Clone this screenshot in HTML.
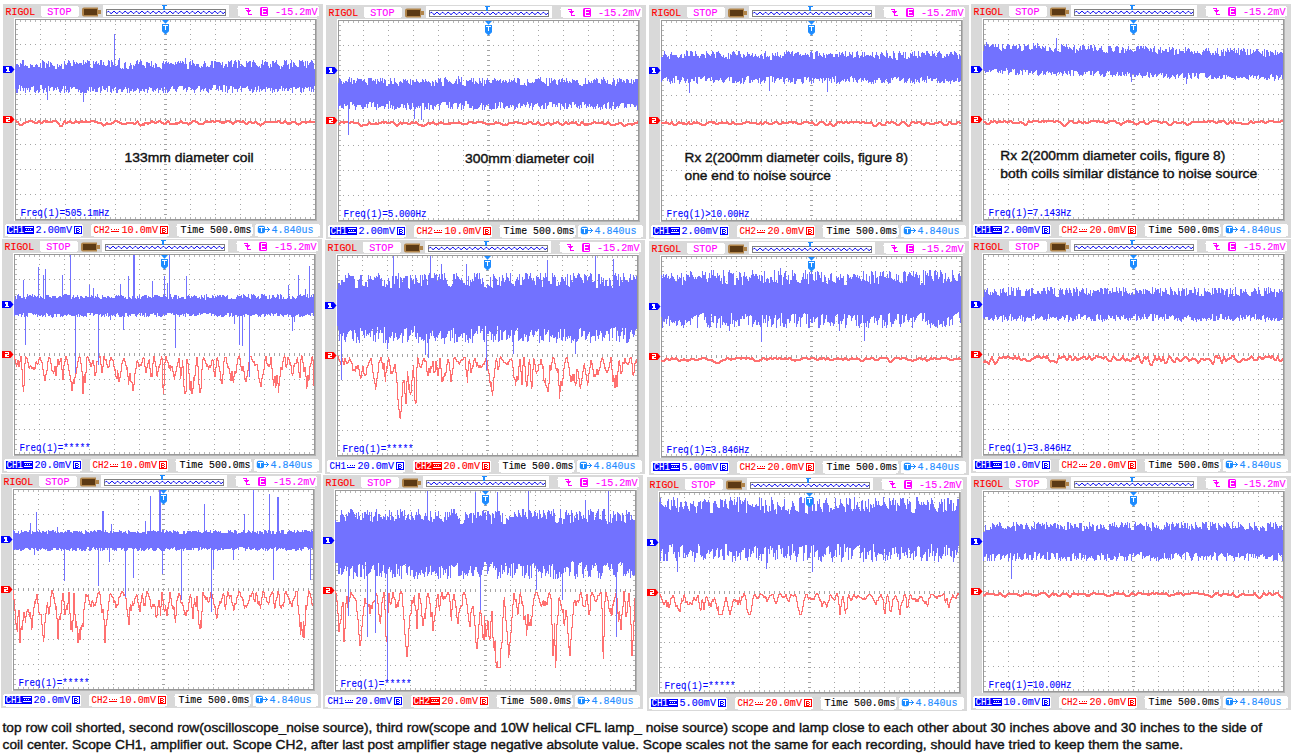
<!DOCTYPE html><html><head><meta charset="utf-8"><style>html,body{margin:0;padding:0;background:#fff;width:1295px;height:753px;overflow:hidden}svg{display:block}</style></head><body><svg width="1295" height="753" viewBox="0 0 1295 753"><rect width="1295" height="753" fill="#fff"/><defs><g id="base" shape-rendering="crispEdges"><rect width="320" height="234" fill="#d9d9d9"/><text x="2.6" y="11.2" fill="#ff0000" font-size="11" font-family="'Liberation Mono', monospace" textLength="29.6" lengthAdjust="spacingAndGlyphs" stroke="#ff0000" stroke-width="0.12">RIGOL</text><rect x="37.5" y="1.8" width="38.5" height="11" rx="2.5" fill="#fff"/><text x="44.2" y="11.2" fill="#ff00ff" font-size="11" font-family="'Liberation Mono', monospace" textLength="24.3" lengthAdjust="spacingAndGlyphs" stroke="#ff00ff" stroke-width="0.12">STOP</text><path d="M81,3.5h14v2.5h3v4h-3v2.5h-14q-2,0 -2,-2v-5q0,-2 2,-2Z" fill="#b0844a" shape-rendering="geometricPrecision"/><rect x="81" y="5" width="13" height="5.5" fill="#5c3a14"/><rect x="100" y="1" width="126" height="12" fill="#fff"/><rect x="103.5" y="5.5" width="119" height="6" fill="none" stroke="#808080" stroke-width="1"/><path d="M104,8.5L104,8.4L105,7.3L106,7.5L107,8.7L108,9.6L109,9.1L110,7.9L111,7.2L112,7.9L113,9.1L114,9.6L115,8.7L116,7.5L117,7.3L118,8.4L119,9.5L120,9.3L121,8.1L122,7.2L123,7.7L124,8.9L125,9.6L126,8.9L127,7.7L128,7.2L129,8.1L130,9.3L131,9.5L132,8.4L133,7.3L134,7.5L135,8.7L136,9.6L137,9.1L138,7.9L139,7.2L140,7.9L141,9.1L142,9.6L143,8.7L144,7.5L145,7.3L146,8.4L147,9.5L148,9.3L149,8.1L150,7.2L151,7.7L152,8.9L153,9.6L154,8.9L155,7.7L156,7.2L157,8.1L158,9.3L159,9.5L160,8.4L161,7.3L162,7.5L163,8.7L164,9.6L165,9.1L166,7.9L167,7.2L168,7.9L169,9.1L170,9.6L171,8.7L172,7.5L173,7.3L174,8.4L175,9.5L176,9.3L177,8.1L178,7.2L179,7.7L180,8.9L181,9.6L182,8.9L183,7.7L184,7.2L185,8.1L186,9.3L187,9.5L188,8.4L189,7.3L190,7.5L191,8.7L192,9.6L193,9.1L194,7.9L195,7.2L196,7.9L197,9.1L198,9.6L199,8.7L200,7.5L201,7.3L202,8.4L203,9.5L204,9.3L205,8.1L206,7.2L207,7.7L208,8.9L209,9.6L210,8.9L211,7.7L212,7.2L213,8.1L214,9.3L215,9.5L216,8.4L217,7.3L218,7.5L219,8.7L220,9.6L221,9.1L222,7.9" fill="none" stroke="#0000ee" stroke-width="0.95" shape-rendering="geometricPrecision"/><path d="M158.5,1h5v1.3h-1.8v3.2h-1.4v-3.2h-1.8Z" fill="#1e8cff"/><rect x="234.5" y="2" width="81.5" height="10.5" rx="2.5" fill="#fff"/><path d="M242,4h4v1h-4z M245,4h1v7h-1z M245,10h4v1h-4z M243,6h5v1h-5z M244,7h3v1h-3z" fill="#ff00ff"/><rect x="257" y="3" width="8" height="9" rx="1.5" fill="#ff00ff" shape-rendering="geometricPrecision"/><path d="M259,4h5v1h-4v2h3v1h-3v2h4v1h-5z" fill="#fff" shape-rendering="crispEdges"/><text x="272" y="11.2" fill="#ff00ff" font-size="11" font-family="'Liberation Mono', monospace" textLength="42.5" lengthAdjust="spacingAndGlyphs" stroke="#ff00ff" stroke-width="0.12">-15.2mV</text><rect x="11" y="14" width="303" height="203" fill="#fff"/><rect x="12.5" y="15.5" width="301" height="201" fill="#fff" stroke="#b4b4b4" stroke-width="1"/><rect x="12.5" y="15.5" width="300" height="200" fill="none" stroke="#989898" stroke-width="1"/><path d="M37,20h1v1h-1zM37,25h1v1h-1zM37,30h1v1h-1zM37,35h1v1h-1zM37,40h1v1h-1zM37,45h1v1h-1zM37,50h1v1h-1zM37,55h1v1h-1zM37,60h1v1h-1zM37,65h1v1h-1zM37,70h1v1h-1zM37,75h1v1h-1zM37,80h1v1h-1zM37,85h1v1h-1zM37,90h1v1h-1zM37,95h1v1h-1zM37,100h1v1h-1zM37,105h1v1h-1zM37,110h1v1h-1zM37,115h1v1h-1zM37,120h1v1h-1zM37,125h1v1h-1zM37,130h1v1h-1zM37,135h1v1h-1zM37,140h1v1h-1zM37,145h1v1h-1zM37,150h1v1h-1zM37,155h1v1h-1zM37,160h1v1h-1zM37,165h1v1h-1zM37,170h1v1h-1zM37,175h1v1h-1zM37,180h1v1h-1zM37,185h1v1h-1zM37,190h1v1h-1zM37,195h1v1h-1zM37,200h1v1h-1zM37,205h1v1h-1zM37,210h1v1h-1zM62,20h1v1h-1zM62,25h1v1h-1zM62,30h1v1h-1zM62,35h1v1h-1zM62,40h1v1h-1zM62,45h1v1h-1zM62,50h1v1h-1zM62,55h1v1h-1zM62,60h1v1h-1zM62,65h1v1h-1zM62,70h1v1h-1zM62,75h1v1h-1zM62,80h1v1h-1zM62,85h1v1h-1zM62,90h1v1h-1zM62,95h1v1h-1zM62,100h1v1h-1zM62,105h1v1h-1zM62,110h1v1h-1zM62,115h1v1h-1zM62,120h1v1h-1zM62,125h1v1h-1zM62,130h1v1h-1zM62,135h1v1h-1zM62,140h1v1h-1zM62,145h1v1h-1zM62,150h1v1h-1zM62,155h1v1h-1zM62,160h1v1h-1zM62,165h1v1h-1zM62,170h1v1h-1zM62,175h1v1h-1zM62,180h1v1h-1zM62,185h1v1h-1zM62,190h1v1h-1zM62,195h1v1h-1zM62,200h1v1h-1zM62,205h1v1h-1zM62,210h1v1h-1zM87,20h1v1h-1zM87,25h1v1h-1zM87,30h1v1h-1zM87,35h1v1h-1zM87,40h1v1h-1zM87,45h1v1h-1zM87,50h1v1h-1zM87,55h1v1h-1zM87,60h1v1h-1zM87,65h1v1h-1zM87,70h1v1h-1zM87,75h1v1h-1zM87,80h1v1h-1zM87,85h1v1h-1zM87,90h1v1h-1zM87,95h1v1h-1zM87,100h1v1h-1zM87,105h1v1h-1zM87,110h1v1h-1zM87,115h1v1h-1zM87,120h1v1h-1zM87,125h1v1h-1zM87,130h1v1h-1zM87,135h1v1h-1zM87,140h1v1h-1zM87,145h1v1h-1zM87,150h1v1h-1zM87,155h1v1h-1zM87,160h1v1h-1zM87,165h1v1h-1zM87,170h1v1h-1zM87,175h1v1h-1zM87,180h1v1h-1zM87,185h1v1h-1zM87,190h1v1h-1zM87,195h1v1h-1zM87,200h1v1h-1zM87,205h1v1h-1zM87,210h1v1h-1zM112,20h1v1h-1zM112,25h1v1h-1zM112,30h1v1h-1zM112,35h1v1h-1zM112,40h1v1h-1zM112,45h1v1h-1zM112,50h1v1h-1zM112,55h1v1h-1zM112,60h1v1h-1zM112,65h1v1h-1zM112,70h1v1h-1zM112,75h1v1h-1zM112,80h1v1h-1zM112,85h1v1h-1zM112,90h1v1h-1zM112,95h1v1h-1zM112,100h1v1h-1zM112,105h1v1h-1zM112,110h1v1h-1zM112,115h1v1h-1zM112,120h1v1h-1zM112,125h1v1h-1zM112,130h1v1h-1zM112,135h1v1h-1zM112,140h1v1h-1zM112,145h1v1h-1zM112,150h1v1h-1zM112,155h1v1h-1zM112,160h1v1h-1zM112,165h1v1h-1zM112,170h1v1h-1zM112,175h1v1h-1zM112,180h1v1h-1zM112,185h1v1h-1zM112,190h1v1h-1zM112,195h1v1h-1zM112,200h1v1h-1zM112,205h1v1h-1zM112,210h1v1h-1zM137,20h1v1h-1zM137,25h1v1h-1zM137,30h1v1h-1zM137,35h1v1h-1zM137,40h1v1h-1zM137,45h1v1h-1zM137,50h1v1h-1zM137,55h1v1h-1zM137,60h1v1h-1zM137,65h1v1h-1zM137,70h1v1h-1zM137,75h1v1h-1zM137,80h1v1h-1zM137,85h1v1h-1zM137,90h1v1h-1zM137,95h1v1h-1zM137,100h1v1h-1zM137,105h1v1h-1zM137,110h1v1h-1zM137,115h1v1h-1zM137,120h1v1h-1zM137,125h1v1h-1zM137,130h1v1h-1zM137,135h1v1h-1zM137,140h1v1h-1zM137,145h1v1h-1zM137,150h1v1h-1zM137,155h1v1h-1zM137,160h1v1h-1zM137,165h1v1h-1zM137,170h1v1h-1zM137,175h1v1h-1zM137,180h1v1h-1zM137,185h1v1h-1zM137,190h1v1h-1zM137,195h1v1h-1zM137,200h1v1h-1zM137,205h1v1h-1zM137,210h1v1h-1zM187,20h1v1h-1zM187,25h1v1h-1zM187,30h1v1h-1zM187,35h1v1h-1zM187,40h1v1h-1zM187,45h1v1h-1zM187,50h1v1h-1zM187,55h1v1h-1zM187,60h1v1h-1zM187,65h1v1h-1zM187,70h1v1h-1zM187,75h1v1h-1zM187,80h1v1h-1zM187,85h1v1h-1zM187,90h1v1h-1zM187,95h1v1h-1zM187,100h1v1h-1zM187,105h1v1h-1zM187,110h1v1h-1zM187,115h1v1h-1zM187,120h1v1h-1zM187,125h1v1h-1zM187,130h1v1h-1zM187,135h1v1h-1zM187,140h1v1h-1zM187,145h1v1h-1zM187,150h1v1h-1zM187,155h1v1h-1zM187,160h1v1h-1zM187,165h1v1h-1zM187,170h1v1h-1zM187,175h1v1h-1zM187,180h1v1h-1zM187,185h1v1h-1zM187,190h1v1h-1zM187,195h1v1h-1zM187,200h1v1h-1zM187,205h1v1h-1zM187,210h1v1h-1zM212,20h1v1h-1zM212,25h1v1h-1zM212,30h1v1h-1zM212,35h1v1h-1zM212,40h1v1h-1zM212,45h1v1h-1zM212,50h1v1h-1zM212,55h1v1h-1zM212,60h1v1h-1zM212,65h1v1h-1zM212,70h1v1h-1zM212,75h1v1h-1zM212,80h1v1h-1zM212,85h1v1h-1zM212,90h1v1h-1zM212,95h1v1h-1zM212,100h1v1h-1zM212,105h1v1h-1zM212,110h1v1h-1zM212,115h1v1h-1zM212,120h1v1h-1zM212,125h1v1h-1zM212,130h1v1h-1zM212,135h1v1h-1zM212,140h1v1h-1zM212,145h1v1h-1zM212,150h1v1h-1zM212,155h1v1h-1zM212,160h1v1h-1zM212,165h1v1h-1zM212,170h1v1h-1zM212,175h1v1h-1zM212,180h1v1h-1zM212,185h1v1h-1zM212,190h1v1h-1zM212,195h1v1h-1zM212,200h1v1h-1zM212,205h1v1h-1zM212,210h1v1h-1zM237,20h1v1h-1zM237,25h1v1h-1zM237,30h1v1h-1zM237,35h1v1h-1zM237,40h1v1h-1zM237,45h1v1h-1zM237,50h1v1h-1zM237,55h1v1h-1zM237,60h1v1h-1zM237,65h1v1h-1zM237,70h1v1h-1zM237,75h1v1h-1zM237,80h1v1h-1zM237,85h1v1h-1zM237,90h1v1h-1zM237,95h1v1h-1zM237,100h1v1h-1zM237,105h1v1h-1zM237,110h1v1h-1zM237,115h1v1h-1zM237,120h1v1h-1zM237,125h1v1h-1zM237,130h1v1h-1zM237,135h1v1h-1zM237,140h1v1h-1zM237,145h1v1h-1zM237,150h1v1h-1zM237,155h1v1h-1zM237,160h1v1h-1zM237,165h1v1h-1zM237,170h1v1h-1zM237,175h1v1h-1zM237,180h1v1h-1zM237,185h1v1h-1zM237,190h1v1h-1zM237,195h1v1h-1zM237,200h1v1h-1zM237,205h1v1h-1zM237,210h1v1h-1zM262,20h1v1h-1zM262,25h1v1h-1zM262,30h1v1h-1zM262,35h1v1h-1zM262,40h1v1h-1zM262,45h1v1h-1zM262,50h1v1h-1zM262,55h1v1h-1zM262,60h1v1h-1zM262,65h1v1h-1zM262,70h1v1h-1zM262,75h1v1h-1zM262,80h1v1h-1zM262,85h1v1h-1zM262,90h1v1h-1zM262,95h1v1h-1zM262,100h1v1h-1zM262,105h1v1h-1zM262,110h1v1h-1zM262,115h1v1h-1zM262,120h1v1h-1zM262,125h1v1h-1zM262,130h1v1h-1zM262,135h1v1h-1zM262,140h1v1h-1zM262,145h1v1h-1zM262,150h1v1h-1zM262,155h1v1h-1zM262,160h1v1h-1zM262,165h1v1h-1zM262,170h1v1h-1zM262,175h1v1h-1zM262,180h1v1h-1zM262,185h1v1h-1zM262,190h1v1h-1zM262,195h1v1h-1zM262,200h1v1h-1zM262,205h1v1h-1zM262,210h1v1h-1zM287,20h1v1h-1zM287,25h1v1h-1zM287,30h1v1h-1zM287,35h1v1h-1zM287,40h1v1h-1zM287,45h1v1h-1zM287,50h1v1h-1zM287,55h1v1h-1zM287,60h1v1h-1zM287,65h1v1h-1zM287,70h1v1h-1zM287,75h1v1h-1zM287,80h1v1h-1zM287,85h1v1h-1zM287,90h1v1h-1zM287,95h1v1h-1zM287,100h1v1h-1zM287,105h1v1h-1zM287,110h1v1h-1zM287,115h1v1h-1zM287,120h1v1h-1zM287,125h1v1h-1zM287,130h1v1h-1zM287,135h1v1h-1zM287,140h1v1h-1zM287,145h1v1h-1zM287,150h1v1h-1zM287,155h1v1h-1zM287,160h1v1h-1zM287,165h1v1h-1zM287,170h1v1h-1zM287,175h1v1h-1zM287,180h1v1h-1zM287,185h1v1h-1zM287,190h1v1h-1zM287,195h1v1h-1zM287,200h1v1h-1zM287,205h1v1h-1zM287,210h1v1h-1zM17,40h1v1h-1zM22,40h1v1h-1zM27,40h1v1h-1zM32,40h1v1h-1zM42,40h1v1h-1zM47,40h1v1h-1zM52,40h1v1h-1zM57,40h1v1h-1zM67,40h1v1h-1zM72,40h1v1h-1zM77,40h1v1h-1zM82,40h1v1h-1zM92,40h1v1h-1zM97,40h1v1h-1zM102,40h1v1h-1zM107,40h1v1h-1zM117,40h1v1h-1zM122,40h1v1h-1zM127,40h1v1h-1zM132,40h1v1h-1zM142,40h1v1h-1zM147,40h1v1h-1zM152,40h1v1h-1zM157,40h1v1h-1zM167,40h1v1h-1zM172,40h1v1h-1zM177,40h1v1h-1zM182,40h1v1h-1zM192,40h1v1h-1zM197,40h1v1h-1zM202,40h1v1h-1zM207,40h1v1h-1zM217,40h1v1h-1zM222,40h1v1h-1zM227,40h1v1h-1zM232,40h1v1h-1zM242,40h1v1h-1zM247,40h1v1h-1zM252,40h1v1h-1zM257,40h1v1h-1zM267,40h1v1h-1zM272,40h1v1h-1zM277,40h1v1h-1zM282,40h1v1h-1zM292,40h1v1h-1zM297,40h1v1h-1zM302,40h1v1h-1zM307,40h1v1h-1zM17,65h1v1h-1zM22,65h1v1h-1zM27,65h1v1h-1zM32,65h1v1h-1zM42,65h1v1h-1zM47,65h1v1h-1zM52,65h1v1h-1zM57,65h1v1h-1zM67,65h1v1h-1zM72,65h1v1h-1zM77,65h1v1h-1zM82,65h1v1h-1zM92,65h1v1h-1zM97,65h1v1h-1zM102,65h1v1h-1zM107,65h1v1h-1zM117,65h1v1h-1zM122,65h1v1h-1zM127,65h1v1h-1zM132,65h1v1h-1zM142,65h1v1h-1zM147,65h1v1h-1zM152,65h1v1h-1zM157,65h1v1h-1zM167,65h1v1h-1zM172,65h1v1h-1zM177,65h1v1h-1zM182,65h1v1h-1zM192,65h1v1h-1zM197,65h1v1h-1zM202,65h1v1h-1zM207,65h1v1h-1zM217,65h1v1h-1zM222,65h1v1h-1zM227,65h1v1h-1zM232,65h1v1h-1zM242,65h1v1h-1zM247,65h1v1h-1zM252,65h1v1h-1zM257,65h1v1h-1zM267,65h1v1h-1zM272,65h1v1h-1zM277,65h1v1h-1zM282,65h1v1h-1zM292,65h1v1h-1zM297,65h1v1h-1zM302,65h1v1h-1zM307,65h1v1h-1zM17,90h1v1h-1zM22,90h1v1h-1zM27,90h1v1h-1zM32,90h1v1h-1zM42,90h1v1h-1zM47,90h1v1h-1zM52,90h1v1h-1zM57,90h1v1h-1zM67,90h1v1h-1zM72,90h1v1h-1zM77,90h1v1h-1zM82,90h1v1h-1zM92,90h1v1h-1zM97,90h1v1h-1zM102,90h1v1h-1zM107,90h1v1h-1zM117,90h1v1h-1zM122,90h1v1h-1zM127,90h1v1h-1zM132,90h1v1h-1zM142,90h1v1h-1zM147,90h1v1h-1zM152,90h1v1h-1zM157,90h1v1h-1zM167,90h1v1h-1zM172,90h1v1h-1zM177,90h1v1h-1zM182,90h1v1h-1zM192,90h1v1h-1zM197,90h1v1h-1zM202,90h1v1h-1zM207,90h1v1h-1zM217,90h1v1h-1zM222,90h1v1h-1zM227,90h1v1h-1zM232,90h1v1h-1zM242,90h1v1h-1zM247,90h1v1h-1zM252,90h1v1h-1zM257,90h1v1h-1zM267,90h1v1h-1zM272,90h1v1h-1zM277,90h1v1h-1zM282,90h1v1h-1zM292,90h1v1h-1zM297,90h1v1h-1zM302,90h1v1h-1zM307,90h1v1h-1zM17,140h1v1h-1zM22,140h1v1h-1zM27,140h1v1h-1zM32,140h1v1h-1zM42,140h1v1h-1zM47,140h1v1h-1zM52,140h1v1h-1zM57,140h1v1h-1zM67,140h1v1h-1zM72,140h1v1h-1zM77,140h1v1h-1zM82,140h1v1h-1zM92,140h1v1h-1zM97,140h1v1h-1zM102,140h1v1h-1zM107,140h1v1h-1zM117,140h1v1h-1zM122,140h1v1h-1zM127,140h1v1h-1zM132,140h1v1h-1zM142,140h1v1h-1zM147,140h1v1h-1zM152,140h1v1h-1zM157,140h1v1h-1zM167,140h1v1h-1zM172,140h1v1h-1zM177,140h1v1h-1zM182,140h1v1h-1zM192,140h1v1h-1zM197,140h1v1h-1zM202,140h1v1h-1zM207,140h1v1h-1zM217,140h1v1h-1zM222,140h1v1h-1zM227,140h1v1h-1zM232,140h1v1h-1zM242,140h1v1h-1zM247,140h1v1h-1zM252,140h1v1h-1zM257,140h1v1h-1zM267,140h1v1h-1zM272,140h1v1h-1zM277,140h1v1h-1zM282,140h1v1h-1zM292,140h1v1h-1zM297,140h1v1h-1zM302,140h1v1h-1zM307,140h1v1h-1zM17,165h1v1h-1zM22,165h1v1h-1zM27,165h1v1h-1zM32,165h1v1h-1zM42,165h1v1h-1zM47,165h1v1h-1zM52,165h1v1h-1zM57,165h1v1h-1zM67,165h1v1h-1zM72,165h1v1h-1zM77,165h1v1h-1zM82,165h1v1h-1zM92,165h1v1h-1zM97,165h1v1h-1zM102,165h1v1h-1zM107,165h1v1h-1zM117,165h1v1h-1zM122,165h1v1h-1zM127,165h1v1h-1zM132,165h1v1h-1zM142,165h1v1h-1zM147,165h1v1h-1zM152,165h1v1h-1zM157,165h1v1h-1zM167,165h1v1h-1zM172,165h1v1h-1zM177,165h1v1h-1zM182,165h1v1h-1zM192,165h1v1h-1zM197,165h1v1h-1zM202,165h1v1h-1zM207,165h1v1h-1zM217,165h1v1h-1zM222,165h1v1h-1zM227,165h1v1h-1zM232,165h1v1h-1zM242,165h1v1h-1zM247,165h1v1h-1zM252,165h1v1h-1zM257,165h1v1h-1zM267,165h1v1h-1zM272,165h1v1h-1zM277,165h1v1h-1zM282,165h1v1h-1zM292,165h1v1h-1zM297,165h1v1h-1zM302,165h1v1h-1zM307,165h1v1h-1zM17,190h1v1h-1zM22,190h1v1h-1zM27,190h1v1h-1zM32,190h1v1h-1zM42,190h1v1h-1zM47,190h1v1h-1zM52,190h1v1h-1zM57,190h1v1h-1zM67,190h1v1h-1zM72,190h1v1h-1zM77,190h1v1h-1zM82,190h1v1h-1zM92,190h1v1h-1zM97,190h1v1h-1zM102,190h1v1h-1zM107,190h1v1h-1zM117,190h1v1h-1zM122,190h1v1h-1zM127,190h1v1h-1zM132,190h1v1h-1zM142,190h1v1h-1zM147,190h1v1h-1zM152,190h1v1h-1zM157,190h1v1h-1zM167,190h1v1h-1zM172,190h1v1h-1zM177,190h1v1h-1zM182,190h1v1h-1zM192,190h1v1h-1zM197,190h1v1h-1zM202,190h1v1h-1zM207,190h1v1h-1zM217,190h1v1h-1zM222,190h1v1h-1zM227,190h1v1h-1zM232,190h1v1h-1zM242,190h1v1h-1zM247,190h1v1h-1zM252,190h1v1h-1zM257,190h1v1h-1zM267,190h1v1h-1zM272,190h1v1h-1zM277,190h1v1h-1zM282,190h1v1h-1zM292,190h1v1h-1zM297,190h1v1h-1zM302,190h1v1h-1zM307,190h1v1h-1zM161,20h3v1h-3zM161,25h3v1h-3zM161,30h3v1h-3zM161,35h3v1h-3zM161,40h3v1h-3zM161,45h3v1h-3zM161,50h3v1h-3zM161,55h3v1h-3zM161,60h3v1h-3zM161,65h3v1h-3zM161,70h3v1h-3zM161,75h3v1h-3zM161,80h3v1h-3zM161,85h3v1h-3zM161,90h3v1h-3zM161,95h3v1h-3zM161,100h3v1h-3zM161,105h3v1h-3zM161,110h3v1h-3zM161,115h3v1h-3zM161,120h3v1h-3zM161,125h3v1h-3zM161,130h3v1h-3zM161,135h3v1h-3zM161,140h3v1h-3zM161,145h3v1h-3zM161,150h3v1h-3zM161,155h3v1h-3zM161,160h3v1h-3zM161,165h3v1h-3zM161,170h3v1h-3zM161,175h3v1h-3zM161,180h3v1h-3zM161,185h3v1h-3zM161,190h3v1h-3zM161,195h3v1h-3zM161,200h3v1h-3zM161,205h3v1h-3zM161,210h3v1h-3zM17,114h1v3h-1zM22,114h1v3h-1zM27,114h1v3h-1zM32,114h1v3h-1zM37,114h1v3h-1zM42,114h1v3h-1zM47,114h1v3h-1zM52,114h1v3h-1zM57,114h1v3h-1zM62,114h1v3h-1zM67,114h1v3h-1zM72,114h1v3h-1zM77,114h1v3h-1zM82,114h1v3h-1zM87,114h1v3h-1zM92,114h1v3h-1zM97,114h1v3h-1zM102,114h1v3h-1zM107,114h1v3h-1zM112,114h1v3h-1zM117,114h1v3h-1zM122,114h1v3h-1zM127,114h1v3h-1zM132,114h1v3h-1zM137,114h1v3h-1zM142,114h1v3h-1zM147,114h1v3h-1zM152,114h1v3h-1zM157,114h1v3h-1zM162,114h1v3h-1zM167,114h1v3h-1zM172,114h1v3h-1zM177,114h1v3h-1zM182,114h1v3h-1zM187,114h1v3h-1zM192,114h1v3h-1zM197,114h1v3h-1zM202,114h1v3h-1zM207,114h1v3h-1zM212,114h1v3h-1zM217,114h1v3h-1zM222,114h1v3h-1zM227,114h1v3h-1zM232,114h1v3h-1zM237,114h1v3h-1zM242,114h1v3h-1zM247,114h1v3h-1zM252,114h1v3h-1zM257,114h1v3h-1zM262,114h1v3h-1zM267,114h1v3h-1zM272,114h1v3h-1zM277,114h1v3h-1zM282,114h1v3h-1zM287,114h1v3h-1zM292,114h1v3h-1zM297,114h1v3h-1zM302,114h1v3h-1zM307,114h1v3h-1z" fill="#a4a4a4"/><path d="M17,16h1v2h-1zM17,213h1v2h-1zM22,16h1v2h-1zM22,213h1v2h-1zM27,16h1v2h-1zM27,213h1v2h-1zM32,16h1v2h-1zM32,213h1v2h-1zM37,16h1v2h-1zM37,213h1v2h-1zM42,16h1v2h-1zM42,213h1v2h-1zM47,16h1v2h-1zM47,213h1v2h-1zM52,16h1v2h-1zM52,213h1v2h-1zM57,16h1v2h-1zM57,213h1v2h-1zM62,16h1v2h-1zM62,213h1v2h-1zM67,16h1v2h-1zM67,213h1v2h-1zM72,16h1v2h-1zM72,213h1v2h-1zM77,16h1v2h-1zM77,213h1v2h-1zM82,16h1v2h-1zM82,213h1v2h-1zM87,16h1v2h-1zM87,213h1v2h-1zM92,16h1v2h-1zM92,213h1v2h-1zM97,16h1v2h-1zM97,213h1v2h-1zM102,16h1v2h-1zM102,213h1v2h-1zM107,16h1v2h-1zM107,213h1v2h-1zM112,16h1v2h-1zM112,213h1v2h-1zM117,16h1v2h-1zM117,213h1v2h-1zM122,16h1v2h-1zM122,213h1v2h-1zM127,16h1v2h-1zM127,213h1v2h-1zM132,16h1v2h-1zM132,213h1v2h-1zM137,16h1v2h-1zM137,213h1v2h-1zM142,16h1v2h-1zM142,213h1v2h-1zM147,16h1v2h-1zM147,213h1v2h-1zM152,16h1v2h-1zM152,213h1v2h-1zM157,16h1v2h-1zM157,213h1v2h-1zM162,16h1v2h-1zM162,213h1v2h-1zM167,16h1v2h-1zM167,213h1v2h-1zM172,16h1v2h-1zM172,213h1v2h-1zM177,16h1v2h-1zM177,213h1v2h-1zM182,16h1v2h-1zM182,213h1v2h-1zM187,16h1v2h-1zM187,213h1v2h-1zM192,16h1v2h-1zM192,213h1v2h-1zM197,16h1v2h-1zM197,213h1v2h-1zM202,16h1v2h-1zM202,213h1v2h-1zM207,16h1v2h-1zM207,213h1v2h-1zM212,16h1v2h-1zM212,213h1v2h-1zM217,16h1v2h-1zM217,213h1v2h-1zM222,16h1v2h-1zM222,213h1v2h-1zM227,16h1v2h-1zM227,213h1v2h-1zM232,16h1v2h-1zM232,213h1v2h-1zM237,16h1v2h-1zM237,213h1v2h-1zM242,16h1v2h-1zM242,213h1v2h-1zM247,16h1v2h-1zM247,213h1v2h-1zM252,16h1v2h-1zM252,213h1v2h-1zM257,16h1v2h-1zM257,213h1v2h-1zM262,16h1v2h-1zM262,213h1v2h-1zM267,16h1v2h-1zM267,213h1v2h-1zM272,16h1v2h-1zM272,213h1v2h-1zM277,16h1v2h-1zM277,213h1v2h-1zM282,16h1v2h-1zM282,213h1v2h-1zM287,16h1v2h-1zM287,213h1v2h-1zM292,16h1v2h-1zM292,213h1v2h-1zM297,16h1v2h-1zM297,213h1v2h-1zM302,16h1v2h-1zM302,213h1v2h-1zM307,16h1v2h-1zM307,213h1v2h-1zM13,20h2v1h-2zM310,20h2v1h-2zM13,25h2v1h-2zM310,25h2v1h-2zM13,30h2v1h-2zM310,30h2v1h-2zM13,35h2v1h-2zM310,35h2v1h-2zM13,40h2v1h-2zM310,40h2v1h-2zM13,45h2v1h-2zM310,45h2v1h-2zM13,50h2v1h-2zM310,50h2v1h-2zM13,55h2v1h-2zM310,55h2v1h-2zM13,60h2v1h-2zM310,60h2v1h-2zM13,65h2v1h-2zM310,65h2v1h-2zM13,70h2v1h-2zM310,70h2v1h-2zM13,75h2v1h-2zM310,75h2v1h-2zM13,80h2v1h-2zM310,80h2v1h-2zM13,85h2v1h-2zM310,85h2v1h-2zM13,90h2v1h-2zM310,90h2v1h-2zM13,95h2v1h-2zM310,95h2v1h-2zM13,100h2v1h-2zM310,100h2v1h-2zM13,105h2v1h-2zM310,105h2v1h-2zM13,110h2v1h-2zM310,110h2v1h-2zM13,115h2v1h-2zM310,115h2v1h-2zM13,120h2v1h-2zM310,120h2v1h-2zM13,125h2v1h-2zM310,125h2v1h-2zM13,130h2v1h-2zM310,130h2v1h-2zM13,135h2v1h-2zM310,135h2v1h-2zM13,140h2v1h-2zM310,140h2v1h-2zM13,145h2v1h-2zM310,145h2v1h-2zM13,150h2v1h-2zM310,150h2v1h-2zM13,155h2v1h-2zM310,155h2v1h-2zM13,160h2v1h-2zM310,160h2v1h-2zM13,165h2v1h-2zM310,165h2v1h-2zM13,170h2v1h-2zM310,170h2v1h-2zM13,175h2v1h-2zM310,175h2v1h-2zM13,180h2v1h-2zM310,180h2v1h-2zM13,185h2v1h-2zM310,185h2v1h-2zM13,190h2v1h-2zM310,190h2v1h-2zM13,195h2v1h-2zM310,195h2v1h-2zM13,200h2v1h-2zM310,200h2v1h-2zM13,205h2v1h-2zM310,205h2v1h-2zM13,210h2v1h-2zM310,210h2v1h-2z" fill="#b8b8b8"/><rect x="2" y="220" width="78" height="12.5" rx="2.5" fill="#fff"/><rect x="88" y="220" width="78" height="12.5" rx="2.5" fill="#fff"/><rect x="173.5" y="220" width="76" height="12.5" rx="2.5" fill="#fff"/><rect x="252" y="220" width="65" height="12.5" rx="2.5" fill="#fff"/><text x="177.5" y="229.2" fill="#000" font-size="11" font-family="'Liberation Mono', monospace" textLength="71" lengthAdjust="spacingAndGlyphs" stroke="#000" stroke-width="0.12">Time 500.0ms</text><rect x="254.8" y="221.8" width="7.2" height="7.4" rx="2" fill="#1e8cff" shape-rendering="geometricPrecision"/><path d="M256,223h5v1h-2v4h-1v-4h-2z" fill="#fff"/><path d="M262,225h4v1h-4z M264,223h1v1h-1z M265,224h1v1h-1z M266,225h1v1h-1z M265,226h1v1h-1z M264,227h1v1h-1z" fill="#1e8cff"/><text x="268.5" y="229.2" fill="#1e8cff" font-size="11" font-family="'Liberation Mono', monospace" textLength="42" lengthAdjust="spacingAndGlyphs" stroke="#1e8cff" stroke-width="0.12">4.840us</text></g><g id="bicon" shape-rendering="crispEdges"><path d="M71,222h8v1h-8z M71,229h8v1h-8z M71,222h1v8h-1z M78,222h1v8h-1z M73,224h3v1h-3z M73,226h3v1h-3z M73,228h3v1h-3z M73,224h1v5h-1z M76,225h1v1h-1z M76,227h1v1h-1z" fill="currentColor"/></g><g id="over"><path d="M159,16h7l-3.5,3.8z M159,20h7v7.3l-3.5,3.2l-3.5,-3.2z" fill="#1e8cff"/><path d="M160,21h5v1.3h-1.8v4h-1.4v-4h-1.8z" fill="#fff" shape-rendering="crispEdges"/><path d="M0,62h8.5l3,3.5l-3,3.5h-8.5z" fill="#0000ff"/><path d="M3,68h4v-1h-1.2v-4.5h-1.3l-1.5,1.2v0.8h1.3v2.5h-1.3z" fill="#fff" shape-rendering="crispEdges"/><path d="M0,112h8.5l3,3.5l-3,3.5h-8.5z" fill="#ff0000"/><path d="M3,113.2h3.5l0.8,0.8v1.3l-0.8,0.8h-2v1h2.8v1h-4.3v-2.3l0.8,-0.8h2v-0.8h-2.8z" fill="#fff" shape-rendering="crispEdges"/></g><g id="ch1inv" shape-rendering="crispEdges"><rect x="4" y="221.5" width="27" height="8.5" fill="#0000ff"/><text x="4.5" y="229.2" fill="#fff" font-size="11" font-family="'Liberation Mono', monospace" textLength="16.5" lengthAdjust="spacingAndGlyphs" stroke="#fff" stroke-width="0.15">CH1</text><path d="M22,223h8v1h-8z M22,226.5h8v1.5h-8z M23,225h1v1h-1z M25,225h1v1h-1z M27,225h1v1h-1z" fill="#fff"/></g><g id="ch1nor" shape-rendering="crispEdges"><text x="4.5" y="229.2" fill="#0000ff" font-size="11" font-family="'Liberation Mono', monospace" textLength="16.5" lengthAdjust="spacingAndGlyphs" stroke="#0000ff" stroke-width="0.12">CH1</text><path d="M22,227h8v1h-8z M22,225h1v1h-1z M24.5,225h1v1h-1z M27,225h1v1h-1z M29,225h1v1h-1z" fill="#0000ff"/></g><g id="ch2inv" shape-rendering="crispEdges"><rect x="90" y="221.5" width="27" height="8.5" fill="#ff0000"/><text x="90.5" y="229.2" fill="#fff" font-size="11" font-family="'Liberation Mono', monospace" textLength="16.5" lengthAdjust="spacingAndGlyphs" stroke="#fff" stroke-width="0.15">CH2</text><path d="M108,223h8v1h-8z M108,226.5h8v1.5h-8z M109,225h1v1h-1z M111,225h1v1h-1z M113,225h1v1h-1z" fill="#fff"/></g><g id="ch2nor" shape-rendering="crispEdges"><text x="90.5" y="229.2" fill="#ff0000" font-size="11" font-family="'Liberation Mono', monospace" textLength="16.5" lengthAdjust="spacingAndGlyphs" stroke="#ff0000" stroke-width="0.12">CH2</text><path d="M108,227h8v1h-8z M108,225h1v1h-1z M110.5,225h1v1h-1z M113,225h1v1h-1z M115,225h1v1h-1z" fill="#ff0000"/></g></defs><svg x="3" y="4" width="320" height="234" viewBox="0 0 320 234"><use href="#base"/><use href="#bicon" color="#0000ff"/><path d="M12,116h1V118h-1zM13,116h1V119h-1zM14,117h1V119h-1zM15,117h1V121h-1zM16,119h1V122h-1zM17,120h1V122h-1zM18,120h1V122h-1zM19,119h1V122h-1zM20,118h1V121h-1zM21,118h1V120h-1zM22,117h1V120h-1zM23,117h1V119h-1zM24,117h1V119h-1zM25,116h1V119h-1zM26,116h1V118h-1zM27,116h1V118h-1zM28,116h1V118h-1zM29,116h1V119h-1zM30,117h1V119h-1zM31,117h1V120h-1zM32,118h1V120h-1zM33,118h1V120h-1zM34,117h1V120h-1zM35,116h1V119h-1zM36,116h1V119h-1zM37,117h1V120h-1zM38,118h1V120h-1zM39,117h1V120h-1zM40,116h1V119h-1zM41,116h1V118h-1zM42,116h1V119h-1zM43,116h1V119h-1zM44,116h1V119h-1zM45,117h1V119h-1zM46,117h1V119h-1zM47,117h1V119h-1zM48,117h1V119h-1zM49,116h1V119h-1zM50,116h1V118h-1zM51,116h1V118h-1zM52,116h1V118h-1zM53,116h1V119h-1zM54,117h1V120h-1zM55,118h1V121h-1zM56,119h1V123h-1zM57,121h1V123h-1zM58,121h1V123h-1zM59,119h1V123h-1zM60,117h1V121h-1zM61,116h1V119h-1zM62,116h1V120h-1zM63,118h1V120h-1zM64,117h1V120h-1zM65,117h1V119h-1zM66,116h1V119h-1zM67,116h1V119h-1zM68,117h1V120h-1zM69,118h1V120h-1zM70,118h1V120h-1zM71,117h1V120h-1zM72,116h1V119h-1zM73,116h1V119h-1zM74,117h1V119h-1zM75,117h1V120h-1zM76,117h1V120h-1zM77,117h1V119h-1zM78,116h1V119h-1zM79,116h1V119h-1zM80,117h1V119h-1zM81,117h1V119h-1zM82,116h1V119h-1zM83,116h1V119h-1zM84,117h1V119h-1zM85,117h1V119h-1zM86,117h1V119h-1zM87,116h1V119h-1zM88,116h1V118h-1zM89,116h1V118h-1zM90,116h1V118h-1zM91,116h1V119h-1zM92,117h1V119h-1zM93,117h1V119h-1zM94,117h1V120h-1zM95,118h1V120h-1zM96,118h1V120h-1zM97,118h1V120h-1zM98,118h1V121h-1zM99,119h1V122h-1zM100,120h1V123h-1zM101,120h1V122h-1zM102,119h1V122h-1zM103,118h1V121h-1zM104,118h1V121h-1zM105,119h1V121h-1zM106,119h1V121h-1zM107,119h1V121h-1zM108,118h1V121h-1zM109,118h1V120h-1zM110,117h1V120h-1zM111,116h1V119h-1zM112,116h1V118h-1zM113,116h1V118h-1zM114,116h1V119h-1zM115,117h1V119h-1zM116,117h1V120h-1zM117,118h1V120h-1zM118,118h1V121h-1zM119,119h1V121h-1zM120,119h1V121h-1zM121,119h1V121h-1zM122,119h1V121h-1zM123,118h1V121h-1zM124,118h1V120h-1zM125,118h1V120h-1zM126,118h1V120h-1zM127,118h1V120h-1zM128,118h1V120h-1zM129,118h1V120h-1zM130,118h1V121h-1zM131,119h1V121h-1zM132,118h1V121h-1zM133,117h1V120h-1zM134,116h1V119h-1zM135,117h1V121h-1zM136,119h1V122h-1zM137,120h1V123h-1zM138,120h1V122h-1zM139,119h1V122h-1zM140,119h1V122h-1zM141,118h1V122h-1zM142,118h1V120h-1zM143,118h1V120h-1zM144,118h1V121h-1zM145,118h1V121h-1zM146,118h1V120h-1zM147,117h1V120h-1zM148,116h1V119h-1zM149,116h1V119h-1zM150,117h1V119h-1zM151,117h1V120h-1zM152,118h1V120h-1zM153,117h1V120h-1zM154,117h1V119h-1zM155,116h1V119h-1zM156,116h1V118h-1zM157,116h1V119h-1zM158,117h1V120h-1zM159,118h1V120h-1zM160,118h1V121h-1zM161,119h1V121h-1zM162,118h1V121h-1zM163,117h1V120h-1zM164,116h1V119h-1zM165,116h1V119h-1zM166,117h1V121h-1zM167,119h1V121h-1zM168,119h1V121h-1zM169,119h1V121h-1zM170,119h1V121h-1zM171,119h1V121h-1zM172,118h1V121h-1zM173,118h1V121h-1zM174,118h1V121h-1zM175,118h1V120h-1zM176,117h1V120h-1zM177,116h1V119h-1zM178,116h1V119h-1zM179,117h1V120h-1zM180,118h1V120h-1zM181,118h1V120h-1zM182,118h1V120h-1zM183,118h1V120h-1zM184,118h1V121h-1zM185,119h1V122h-1zM186,118h1V121h-1zM187,118h1V120h-1zM188,117h1V120h-1zM189,116h1V119h-1zM190,116h1V118h-1zM191,116h1V118h-1zM192,116h1V119h-1zM193,117h1V119h-1zM194,117h1V120h-1zM195,118h1V121h-1zM196,119h1V121h-1zM197,119h1V121h-1zM198,119h1V121h-1zM199,119h1V121h-1zM200,118h1V121h-1zM201,117h1V120h-1zM202,117h1V119h-1zM203,116h1V119h-1zM204,116h1V119h-1zM205,117h1V119h-1zM206,117h1V119h-1zM207,117h1V119h-1zM208,116h1V119h-1zM209,116h1V118h-1zM210,116h1V119h-1zM211,117h1V119h-1zM212,116h1V119h-1zM213,116h1V118h-1zM214,116h1V118h-1zM215,116h1V118h-1zM216,116h1V119h-1zM217,117h1V119h-1zM218,117h1V120h-1zM219,117h1V120h-1zM220,117h1V120h-1zM221,117h1V120h-1zM222,117h1V119h-1zM223,116h1V119h-1zM224,116h1V118h-1zM225,116h1V118h-1zM226,116h1V119h-1zM227,117h1V119h-1zM228,117h1V120h-1zM229,118h1V121h-1zM230,118h1V121h-1zM231,117h1V120h-1zM232,117h1V119h-1zM233,116h1V119h-1zM234,116h1V118h-1zM235,116h1V118h-1zM236,116h1V119h-1zM237,117h1V119h-1zM238,117h1V119h-1zM239,116h1V119h-1zM240,116h1V119h-1zM241,117h1V120h-1zM242,118h1V121h-1zM243,119h1V121h-1zM244,118h1V121h-1zM245,117h1V120h-1zM246,117h1V119h-1zM247,117h1V119h-1zM248,117h1V120h-1zM249,118h1V120h-1zM250,118h1V120h-1zM251,117h1V120h-1zM252,117h1V119h-1zM253,117h1V120h-1zM254,118h1V121h-1zM255,119h1V121h-1zM256,119h1V122h-1zM257,120h1V123h-1zM258,119h1V122h-1zM259,119h1V121h-1zM260,118h1V121h-1zM261,117h1V120h-1zM262,117h1V119h-1zM263,117h1V119h-1zM264,117h1V119h-1zM265,117h1V119h-1zM266,117h1V119h-1zM267,117h1V119h-1zM268,117h1V119h-1zM269,117h1V119h-1zM270,117h1V119h-1zM271,117h1V119h-1zM272,117h1V119h-1zM273,117h1V119h-1zM274,116h1V119h-1zM275,116h1V118h-1zM276,116h1V119h-1zM277,117h1V120h-1zM278,118h1V120h-1zM279,118h1V120h-1zM280,117h1V120h-1zM281,116h1V119h-1zM282,116h1V119h-1zM283,117h1V120h-1zM284,118h1V121h-1zM285,118h1V121h-1zM286,118h1V121h-1zM287,118h1V120h-1zM288,117h1V120h-1zM289,117h1V119h-1zM290,117h1V119h-1zM291,117h1V119h-1zM292,117h1V120h-1zM293,118h1V121h-1zM294,119h1V121h-1zM295,119h1V122h-1zM296,119h1V121h-1zM297,118h1V121h-1zM298,117h1V120h-1zM299,117h1V119h-1zM300,117h1V119h-1zM301,117h1V119h-1zM302,117h1V120h-1zM303,117h1V120h-1zM304,117h1V119h-1zM305,117h1V119h-1zM306,116h1V119h-1zM307,116h1V119h-1zM308,117h1V119h-1zM309,117h1V119h-1zM310,117h1V119h-1zM311,117h1V119h-1z" fill="#ff7070" shape-rendering="crispEdges"/><path d="M12,62h1V60h2V61h1V63h1V59h1V60h1V56h2V62h1V61h1V62h2V64h2V60h1V61h2V63h2V61h1V60h1V61h1V63h2V59h1V64h1V56h1V57h1V58h1V64h1V59h1V60h1V57h1V63h1V58h1V59h1V61h1V62h2V65h2V60h1V63h1V61h1V62h1V60h1V65h2V57h1V61h2V59h1V56h1V57h1V59h1V62h2V56h1V58h1V60h1V58h1V59h1V60h1V59h3V61h1V56h1V60h1V58h1V59h1V56h1V57h2V63h1V64h2V57h1V60h1V58h1V57h1V60h1V59h1V61h1V56h2V61h1V58h1V61h1V62h2V61h1V56h1V57h1V63h1V56h1V58h1V61h1V30h1V62h2V61h1V56h1V54h1V64h1V65h1V64h1V65h1V59h1V58h1V64h1V65h2V62h1V59h1V61h1V65h1V61h1V62h1V60h1V57h1V56h1V60h1V58h1V56h1V57h1V61h2V62h1V64h1V58h2V59h2V62h1V57h1V63h1V61h1V64h1V59h1V60h1V63h3V64h1V65h1V59h1V57h1V60h1V58h1V57h1V59h1V58h1V60h1V59h2V60h2V61h1V58h1V60h1V58h1V57h1V59h1V57h1V59h1V57h1V58h1V60h1V54h1V60h1V65h2V58h1V57h1V61h1V56h1V59h1V60h1V62h1V60h3V63h1V64h1V62h1V63h1V60h1V57h1V59h1V63h1V62h1V63h2V61h1V57h2V64h1V57h2V58h4V59h1V61h1V58h1V64h1V62h1V60h2V63h1V57h1V58h1V57h1V56h1V63h1V60h1V57h1V56h1V58h1V64h1V56h1V57h1V62h1V60h1V61h1V62h1V63h2V57h1V59h1V58h1V57h2V63h1V58h1V56h1V58h1V59h1V61h1V62h1V63h1V62h1V64h1V60h1V56h1V61h1V58h1V57h1V58h2V62h1V64h1V60h1V63h1V57h2V59h1V58h1V56h1V60h1V61h1V62h1V65h1V62h1V63h1V61h1V56h1V57h1V56h1V61h1V60h1V65h1V59h1V56h1V63h1V58h1V59h1V61h1V62h1V63h2V56h1V57h2V56h1V58h1V62h1V57h1V64h1V57h1V61h1V59h1V58h1V56h1V57h1V59h1V65h1V82h-1V88h-1V85h-1V88h-1V83h-1V87h-1V83h-1V84h-2V83h-1V85h-1V88h-1V84h-1V89h-1V88h-1V83h-1V84h-2V85h-2V83h-2V89h-1V84h-2V85h-1V87h-2V84h-1V85h-1V87h-1V84h-1V87h-1V82h-1V85h-2V87h-1V88h-1V85h-2V88h-1V86h-1V89h-1V84h-1V87h-1V84h-2V85h-1V83h-1V88h-1V85h-2V86h-1V87h-1V85h-1V88h-1V82h-1V86h-1V88h-1V83h-1V86h-1V88h-1V89h-1V85h-1V87h-2V85h-1V82h-1V83h-1V84h-4V88h-1V82h-1V84h-1V85h-1V88h-1V85h-3V83h-1V89h-1V82h-2V85h-1V86h-1V89h-1V82h-1V88h-1V81h-2V88h-1V86h-2V82h-1V87h-1V85h-1V86h-1V81h-3V84h-1V86h-2V85h-1V89h-1V88h-1V87h-1V84h-1V85h-1V87h-1V85h-1V86h-1V88h-1V82h-2V84h-1V85h-1V86h-1V89h-1V86h-1V85h-1V86h-1V84h-1V83h-2V86h-1V88h-1V84h-1V85h-1V86h-1V82h-4V83h-1V85h-1V88h-1V87h-1V85h-2V82h-1V83h-1V85h-1V87h-1V88h-1V89h-1V85h-1V89h-1V83h-1V89h-1V87h-1V84h-1V86h-2V89h-1V84h-1V85h-1V87h-1V86h-1V88h-1V87h-1V84h-2V83h-1V86h-1V89h-1V85h-2V88h-1V87h-1V85h-1V87h-2V89h-1V85h-1V84h-1V86h-1V87h-2V88h-1V85h-1V87h-2V89h-1V84h-1V89h-1V85h-1V83h-1V85h-1V86h-1V88h-2V85h-2V86h-1V89h-2V83h-1V84h-1V87h-1V85h-1V89h-1V88h-1V82h-2V88h-1V84h-1V86h-2V85h-1V82h-1V87h-1V89h-1V83h-1V84h-1V88h-3V85h-1V87h-2V83h-1V88h-1V83h-1V87h-1V86h-1V89h-3V98h-1V88h-1V89h-2V86h-1V88h-1V85h-3V83h-2V84h-1V85h-1V83h-1V88h-1V89h-1V86h-1V88h-1V82h-1V89h-1V82h-1V85h-1V87h-1V89h-1V88h-1V85h-1V83h-1V86h-1V84h-1V86h-1V87h-1V83h-2V84h-1V87h-1V82h-1V96h-1V88h-1V84h-1V86h-1V89h-1V85h-1V81h-2V88h-1V89h-1V86h-1V87h-1V89h-1V88h-1V82h-1V83h-2V86h-1V88h-1V84h-1V86h-1V84h-1V89h-1V84h-1V87h-1V84h-1V82h-1V87h-1V81h-1V85h-1V89h-2V85h-1Z" fill="#7272ff" shape-rendering="crispEdges"/><use href="#over"/><text x="17.6" y="212" fill="#0000ff" font-size="11" font-family="'Liberation Mono', monospace" textLength="89" lengthAdjust="spacingAndGlyphs" stroke="#0000ff" stroke-width="0.12">Freq(1)=505.1mHz</text><use href="#ch1inv"/><text x="32.5" y="229.2" fill="#0000ff" font-size="11" font-family="'Liberation Mono', monospace" textLength="36.5" lengthAdjust="spacingAndGlyphs" stroke="#0000ff" stroke-width="0.12">2.00mV</text><use href="#ch2nor"/><text x="118.5" y="229.2" fill="#ff0000" font-size="11" font-family="'Liberation Mono', monospace" textLength="36.5" lengthAdjust="spacingAndGlyphs" stroke="#ff0000" stroke-width="0.12">10.0mV</text><use href="#bicon" x="86" color="#ff0000"/><text x="121.6" y="158" fill="#111" font-size="13.6" font-family="'Liberation Sans', sans-serif" textLength="129" lengthAdjust="spacingAndGlyphs" stroke="#111" stroke-width="0.4">133mm diameter coil</text></svg><svg x="326" y="5" width="320" height="234" viewBox="0 0 320 234"><use href="#base"/><use href="#bicon" color="#0000ff"/><path d="M12,118h1V120h-1zM13,117h1V120h-1zM14,116h1V119h-1zM15,116h1V118h-1zM16,116h1V118h-1zM17,116h1V119h-1zM18,116h1V119h-1zM19,116h1V118h-1zM20,116h1V118h-1zM21,116h1V118h-1zM22,116h1V119h-1zM23,117h1V119h-1zM24,116h1V119h-1zM25,116h1V118h-1zM26,116h1V118h-1zM27,116h1V119h-1zM28,117h1V119h-1zM29,117h1V119h-1zM30,117h1V119h-1zM31,117h1V119h-1zM32,117h1V120h-1zM33,118h1V121h-1zM34,119h1V122h-1zM35,120h1V122h-1zM36,119h1V122h-1zM37,119h1V121h-1zM38,119h1V121h-1zM39,119h1V121h-1zM40,119h1V121h-1zM41,118h1V121h-1zM42,117h1V120h-1zM43,116h1V119h-1zM44,117h1V120h-1zM45,118h1V120h-1zM46,118h1V120h-1zM47,118h1V120h-1zM48,118h1V120h-1zM49,117h1V120h-1zM50,117h1V120h-1zM51,118h1V120h-1zM52,117h1V120h-1zM53,117h1V119h-1zM54,117h1V119h-1zM55,116h1V119h-1zM56,116h1V118h-1zM57,116h1V119h-1zM58,116h1V119h-1zM59,116h1V118h-1zM60,116h1V119h-1zM61,117h1V119h-1zM62,117h1V119h-1zM63,117h1V119h-1zM64,116h1V119h-1zM65,116h1V118h-1zM66,116h1V118h-1zM67,116h1V119h-1zM68,117h1V120h-1zM69,118h1V121h-1zM70,119h1V122h-1zM71,119h1V122h-1zM72,118h1V121h-1zM73,117h1V120h-1zM74,116h1V119h-1zM75,117h1V120h-1zM76,117h1V120h-1zM77,117h1V119h-1zM78,117h1V119h-1zM79,117h1V119h-1zM80,117h1V119h-1zM81,117h1V120h-1zM82,118h1V120h-1zM83,118h1V120h-1zM84,117h1V120h-1zM85,116h1V119h-1zM86,116h1V119h-1zM87,117h1V119h-1zM88,117h1V119h-1zM89,116h1V119h-1zM90,116h1V119h-1zM91,117h1V120h-1zM92,118h1V121h-1zM93,119h1V121h-1zM94,119h1V121h-1zM95,119h1V122h-1zM96,119h1V122h-1zM97,120h1V122h-1zM98,119h1V122h-1zM99,119h1V121h-1zM100,118h1V121h-1zM101,117h1V120h-1zM102,117h1V119h-1zM103,117h1V120h-1zM104,117h1V120h-1zM105,117h1V119h-1zM106,116h1V119h-1zM107,116h1V119h-1zM108,117h1V120h-1zM109,118h1V120h-1zM110,118h1V121h-1zM111,118h1V120h-1zM112,117h1V120h-1zM113,117h1V119h-1zM114,116h1V119h-1zM115,116h1V119h-1zM116,117h1V119h-1zM117,117h1V120h-1zM118,118h1V120h-1zM119,118h1V120h-1zM120,118h1V120h-1zM121,118h1V120h-1zM122,117h1V120h-1zM123,117h1V120h-1zM124,117h1V120h-1zM125,117h1V119h-1zM126,117h1V119h-1zM127,117h1V119h-1zM128,117h1V119h-1zM129,117h1V119h-1zM130,117h1V119h-1zM131,117h1V119h-1zM132,116h1V119h-1zM133,116h1V119h-1zM134,117h1V119h-1zM135,117h1V120h-1zM136,118h1V120h-1zM137,118h1V120h-1zM138,118h1V120h-1zM139,118h1V120h-1zM140,118h1V120h-1zM141,117h1V120h-1zM142,116h1V119h-1zM143,116h1V118h-1zM144,116h1V118h-1zM145,116h1V118h-1zM146,116h1V119h-1zM147,117h1V119h-1zM148,117h1V119h-1zM149,117h1V119h-1zM150,116h1V119h-1zM151,116h1V118h-1zM152,116h1V118h-1zM153,116h1V118h-1zM154,116h1V118h-1zM155,116h1V118h-1zM156,116h1V119h-1zM157,117h1V119h-1zM158,117h1V119h-1zM159,117h1V120h-1zM160,118h1V120h-1zM161,118h1V120h-1zM162,118h1V120h-1zM163,118h1V120h-1zM164,118h1V120h-1zM165,118h1V120h-1zM166,118h1V120h-1zM167,118h1V120h-1zM168,117h1V120h-1zM169,116h1V119h-1zM170,116h1V119h-1zM171,117h1V119h-1zM172,117h1V119h-1zM173,117h1V119h-1zM174,117h1V120h-1zM175,118h1V120h-1zM176,118h1V121h-1zM177,119h1V121h-1zM178,119h1V121h-1zM179,118h1V121h-1zM180,119h1V121h-1zM181,118h1V121h-1zM182,117h1V120h-1zM183,117h1V119h-1zM184,117h1V119h-1zM185,117h1V119h-1zM186,117h1V119h-1zM187,117h1V119h-1zM188,116h1V119h-1zM189,116h1V118h-1zM190,116h1V118h-1zM191,116h1V119h-1zM192,117h1V119h-1zM193,117h1V119h-1zM194,117h1V119h-1zM195,117h1V119h-1zM196,117h1V120h-1zM197,118h1V120h-1zM198,118h1V120h-1zM199,118h1V120h-1zM200,117h1V120h-1zM201,117h1V119h-1zM202,116h1V119h-1zM203,116h1V118h-1zM204,116h1V118h-1zM205,116h1V119h-1zM206,117h1V120h-1zM207,118h1V120h-1zM208,118h1V120h-1zM209,118h1V120h-1zM210,117h1V120h-1zM211,116h1V119h-1zM212,116h1V119h-1zM213,117h1V120h-1zM214,118h1V121h-1zM215,119h1V121h-1zM216,119h1V121h-1zM217,119h1V121h-1zM218,118h1V121h-1zM219,118h1V120h-1zM220,117h1V120h-1zM221,117h1V119h-1zM222,117h1V119h-1zM223,117h1V120h-1zM224,118h1V121h-1zM225,118h1V121h-1zM226,118h1V120h-1zM227,117h1V120h-1zM228,117h1V119h-1zM229,117h1V119h-1zM230,116h1V119h-1zM231,116h1V118h-1zM232,116h1V119h-1zM233,117h1V120h-1zM234,118h1V120h-1zM235,118h1V121h-1zM236,119h1V121h-1zM237,118h1V121h-1zM238,117h1V120h-1zM239,116h1V119h-1zM240,116h1V119h-1zM241,117h1V120h-1zM242,118h1V120h-1zM243,117h1V120h-1zM244,117h1V119h-1zM245,116h1V119h-1zM246,116h1V119h-1zM247,117h1V119h-1zM248,117h1V119h-1zM249,116h1V119h-1zM250,116h1V120h-1zM251,118h1V121h-1zM252,119h1V121h-1zM253,119h1V121h-1zM254,117h1V121h-1zM255,116h1V119h-1zM256,116h1V119h-1zM257,117h1V120h-1zM258,118h1V121h-1zM259,118h1V121h-1zM260,118h1V121h-1zM261,118h1V121h-1zM262,118h1V120h-1zM263,118h1V120h-1zM264,118h1V120h-1zM265,117h1V120h-1zM266,117h1V119h-1zM267,116h1V119h-1zM268,116h1V118h-1zM269,116h1V119h-1zM270,117h1V119h-1zM271,117h1V119h-1zM272,117h1V119h-1zM273,117h1V119h-1zM274,117h1V119h-1zM275,116h1V119h-1zM276,116h1V119h-1zM277,117h1V120h-1zM278,118h1V120h-1zM279,118h1V120h-1zM280,117h1V120h-1zM281,116h1V119h-1zM282,116h1V119h-1zM283,117h1V120h-1zM284,118h1V121h-1zM285,119h1V121h-1zM286,119h1V121h-1zM287,119h1V121h-1zM288,119h1V121h-1zM289,118h1V121h-1zM290,118h1V120h-1zM291,118h1V120h-1zM292,117h1V120h-1zM293,117h1V119h-1zM294,117h1V119h-1zM295,117h1V120h-1zM296,118h1V121h-1zM297,119h1V122h-1zM298,120h1V122h-1zM299,119h1V122h-1zM300,119h1V121h-1zM301,118h1V121h-1zM302,118h1V120h-1zM303,118h1V120h-1zM304,118h1V120h-1zM305,118h1V121h-1zM306,118h1V121h-1zM307,118h1V120h-1zM308,117h1V120h-1zM309,117h1V119h-1zM310,117h1V119h-1zM311,116h1V119h-1z" fill="#ff7070" shape-rendering="crispEdges"/><path d="M12,78h1V73h1V74h1V76h1V79h1V77h1V78h1V76h2V77h1V74h1V72h1V77h1V73h1V79h1V75h2V78h1V76h1V73h1V74h4V76h1V75h1V74h1V77h1V78h1V80h1V73h4V76h1V75h1V76h1V74h1V79h1V74h1V76h1V77h1V73h1V76h1V73h1V78h1V74h1V75h1V81h2V79h2V73h1V76h1V79h2V73h1V77h1V78h1V79h1V81h1V77h1V76h1V77h1V78h1V74h1V75h1V74h1V76h1V75h1V78h1V79h1V74h1V80h1V75h1V76h1V77h2V74h1V76h1V77h1V78h1V77h2V74h1V75h1V77h1V74h1V76h1V77h1V76h1V77h1V78h1V81h1V76h1V77h1V81h1V75h1V77h1V78h1V73h1V74h1V73h1V77h1V81h2V73h1V72h1V74h1V75h1V77h1V76h1V77h1V78h1V79h2V78h1V76h1V74h1V79h1V71h1V74h1V77h1V72h1V80h2V81h2V75h1V76h2V75h2V73h1V77h1V73h1V79h1V76h1V77h1V78h1V79h1V73h1V76h1V78h1V73h1V81h1V75h1V79h1V75h1V73h1V75h1V77h1V78h2V75h2V73h1V74h1V76h1V75h1V76h1V75h1V74h1V78h1V76h1V75h1V77h1V75h1V76h1V78h1V77h1V74h1V77h1V75h1V76h1V75h1V73h1V77h1V78h1V73h2V74h1V80h4V78h1V80h1V81h1V74h1V77h1V78h3V77h1V78h1V77h1V74h3V73h1V74h1V72h1V76h1V77h2V78h1V79h1V73h1V81h2V73h1V78h1V73h1V76h1V75h1V74h1V75h1V79h1V80h1V75h1V74h1V77h1V74h1V73h1V77h1V75h1V77h1V73h1V76h1V78h1V76h1V77h1V78h1V74h1V75h2V76h1V75h2V78h1V80h2V81h2V79h2V73h1V79h2V75h1V77h1V78h1V76h1V78h1V75h1V74h1V75h1V73h1V74h1V78h2V79h1V74h1V75h1V72h1V74h1V76h1V78h1V75h1V79h3V80h1V77h1V73h1V75h1V81h1V79h1V74h1V77h1V73h1V74h2V77h1V75h1V76h1V78h1V74h2V75h1V78h2V74h1V79h1V75h1V77h1V74h3V105h-1V100h-1V102h-2V100h-1V99h-2V102h-1V99h-3V103h-1V102h-1V103h-1V98h-3V99h-1V101h-1V103h-1V101h-1V102h-1V104h-2V97h-1V101h-1V105h-1V103h-1V104h-1V97h-1V98h-1V104h-1V103h-1V99h-1V100h-1V104h-1V102h-1V105h-1V102h-1V103h-1V99h-1V101h-1V104h-1V102h-1V104h-1V102h-1V101h-1V102h-1V99h-1V102h-1V101h-1V103h-1V99h-1V100h-1V97h-2V103h-1V100h-1V104h-1V101h-1V103h-1V102h-1V99h-1V100h-1V97h-2V103h-1V100h-1V99h-1V102h-1V104h-2V98h-1V104h-1V102h-1V101h-1V99h-1V105h-1V98h-2V102h-1V100h-1V102h-1V99h-2V102h-1V97h-3V100h-1V101h-1V104h-1V98h-1V104h-2V100h-1V101h-1V104h-1V102h-1V101h-1V98h-1V99h-2V100h-1V102h-1V105h-1V98h-1V101h-1V103h-1V99h-1V97h-1V100h-1V102h-1V100h-1V99h-1V101h-2V103h-1V98h-1V99h-1V103h-1V102h-1V104h-1V105h-1V100h-2V102h-1V100h-1V103h-2V101h-2V102h-1V104h-1V103h-1V98h-1V97h-1V103h-1V97h-1V101h-1V103h-1V104h-1V98h-1V104h-3V105h-1V104h-2V99h-1V100h-2V102h-1V105h-1V100h-1V105h-1V98h-1V100h-1V102h-1V103h-1V104h-4V105h-1V101h-1V103h-3V99h-2V96h-2V101h-1V104h-1V100h-1V105h-1V98h-1V99h-1V102h-1V104h-1V98h-3V99h-1V104h-1V102h-1V104h-1V97h-1V103h-1V100h-2V97h-4V98h-1V100h-1V105h-1V99h-2V100h-1V102h-1V101h-1V105h-1V104h-1V100h-2V105h-1V98h-1V104h-2V102h-1V105h-1V98h-2V115h-1V101h-1V103h-1V101h-1V103h-1V102h-1V104h-1V114h-1V102h-1V98h-1V104h-1V105h-1V104h-1V100h-1V98h-1V105h-1V103h-1V100h-1V103h-1V99h-2V102h-1V103h-2V102h-1V104h-2V105h-1V101h-1V104h-1V100h-1V103h-1V96h-1V104h-1V99h-2V102h-1V104h-1V101h-3V102h-2V103h-1V99h-1V105h-1V102h-2V97h-1V98h-1V102h-1V97h-2V99h-1V103h-1V99h-1V102h-2V104h-2V102h-1V100h-4V102h-1V105h-1V101h-1V99h-1V100h-1V97h-2V104h-1V130h-1V100h-1V101h-2V99h-1V104h-1V103h-2V100h-1V101h-1V104h-1Z" fill="#7272ff" shape-rendering="crispEdges"/><use href="#over"/><text x="17.6" y="212" fill="#0000ff" font-size="11" font-family="'Liberation Mono', monospace" textLength="83" lengthAdjust="spacingAndGlyphs" stroke="#0000ff" stroke-width="0.12">Freq(1)=5.000Hz</text><use href="#ch1inv"/><text x="32.5" y="229.2" fill="#0000ff" font-size="11" font-family="'Liberation Mono', monospace" textLength="36.5" lengthAdjust="spacingAndGlyphs" stroke="#0000ff" stroke-width="0.12">2.00mV</text><use href="#ch2nor"/><text x="118.5" y="229.2" fill="#ff0000" font-size="11" font-family="'Liberation Mono', monospace" textLength="36.5" lengthAdjust="spacingAndGlyphs" stroke="#ff0000" stroke-width="0.12">10.0mV</text><use href="#bicon" x="86" color="#ff0000"/><text x="139" y="158" fill="#111" font-size="13.6" font-family="'Liberation Sans', sans-serif" textLength="129" lengthAdjust="spacingAndGlyphs" stroke="#111" stroke-width="0.4">300mm diameter coil</text></svg><svg x="649" y="5" width="320" height="234" viewBox="0 0 320 234"><use href="#base"/><use href="#bicon" color="#0000ff"/><path d="M12,117h1V119h-1zM13,117h1V119h-1zM14,117h1V119h-1zM15,117h1V119h-1zM16,116h1V119h-1zM17,116h1V119h-1zM18,117h1V119h-1zM19,117h1V120h-1zM20,118h1V120h-1zM21,117h1V120h-1zM22,116h1V119h-1zM23,116h1V120h-1zM24,118h1V121h-1zM25,119h1V121h-1zM26,119h1V121h-1zM27,118h1V121h-1zM28,117h1V120h-1zM29,116h1V119h-1zM30,116h1V119h-1zM31,117h1V119h-1zM32,117h1V119h-1zM33,117h1V120h-1zM34,117h1V120h-1zM35,117h1V120h-1zM36,118h1V120h-1zM37,118h1V120h-1zM38,117h1V120h-1zM39,116h1V119h-1zM40,116h1V120h-1zM41,118h1V120h-1zM42,118h1V120h-1zM43,117h1V120h-1zM44,116h1V119h-1zM45,116h1V119h-1zM46,117h1V119h-1zM47,116h1V119h-1zM48,116h1V119h-1zM49,117h1V119h-1zM50,117h1V120h-1zM51,118h1V120h-1zM52,118h1V121h-1zM53,119h1V121h-1zM54,119h1V121h-1zM55,119h1V121h-1zM56,118h1V121h-1zM57,117h1V120h-1zM58,117h1V119h-1zM59,116h1V119h-1zM60,116h1V118h-1zM61,116h1V118h-1zM62,116h1V118h-1zM63,116h1V119h-1zM64,116h1V119h-1zM65,116h1V119h-1zM66,117h1V120h-1zM67,118h1V120h-1zM68,118h1V120h-1zM69,117h1V120h-1zM70,117h1V119h-1zM71,117h1V119h-1zM72,116h1V119h-1zM73,116h1V119h-1zM74,117h1V119h-1zM75,117h1V119h-1zM76,117h1V119h-1zM77,116h1V119h-1zM78,116h1V119h-1zM79,117h1V120h-1zM80,118h1V120h-1zM81,118h1V120h-1zM82,117h1V120h-1zM83,116h1V119h-1zM84,116h1V119h-1zM85,117h1V120h-1zM86,118h1V120h-1zM87,118h1V120h-1zM88,118h1V120h-1zM89,118h1V120h-1zM90,118h1V120h-1zM91,118h1V120h-1zM92,118h1V120h-1zM93,117h1V120h-1zM94,117h1V119h-1zM95,117h1V119h-1zM96,116h1V119h-1zM97,116h1V118h-1zM98,116h1V118h-1zM99,116h1V118h-1zM100,116h1V119h-1zM101,117h1V119h-1zM102,117h1V119h-1zM103,117h1V119h-1zM104,117h1V119h-1zM105,117h1V119h-1zM106,117h1V119h-1zM107,117h1V120h-1zM108,118h1V120h-1zM109,118h1V120h-1zM110,117h1V120h-1zM111,116h1V119h-1zM112,117h1V120h-1zM113,118h1V120h-1zM114,117h1V120h-1zM115,116h1V119h-1zM116,116h1V118h-1zM117,116h1V119h-1zM118,117h1V119h-1zM119,117h1V120h-1zM120,118h1V120h-1zM121,118h1V120h-1zM122,118h1V120h-1zM123,117h1V120h-1zM124,117h1V119h-1zM125,116h1V119h-1zM126,116h1V118h-1zM127,116h1V118h-1zM128,116h1V119h-1zM129,117h1V120h-1zM130,118h1V120h-1zM131,118h1V120h-1zM132,117h1V120h-1zM133,116h1V119h-1zM134,116h1V119h-1zM135,117h1V119h-1zM136,117h1V119h-1zM137,117h1V119h-1zM138,117h1V119h-1zM139,116h1V119h-1zM140,116h1V118h-1zM141,116h1V118h-1zM142,116h1V118h-1zM143,116h1V119h-1zM144,116h1V119h-1zM145,116h1V118h-1zM146,116h1V119h-1zM147,117h1V119h-1zM148,117h1V120h-1zM149,118h1V120h-1zM150,118h1V120h-1zM151,118h1V120h-1zM152,117h1V120h-1zM153,117h1V119h-1zM154,116h1V119h-1zM155,116h1V118h-1zM156,116h1V118h-1zM157,116h1V118h-1zM158,116h1V118h-1zM159,116h1V119h-1zM160,117h1V119h-1zM161,117h1V119h-1zM162,116h1V119h-1zM163,116h1V119h-1zM164,117h1V120h-1zM165,118h1V121h-1zM166,119h1V121h-1zM167,119h1V121h-1zM168,118h1V121h-1zM169,117h1V120h-1zM170,116h1V119h-1zM171,116h1V118h-1zM172,116h1V118h-1zM173,116h1V118h-1zM174,116h1V119h-1zM175,117h1V120h-1zM176,118h1V121h-1zM177,119h1V121h-1zM178,119h1V121h-1zM179,118h1V121h-1zM180,116h1V120h-1zM181,116h1V120h-1zM182,118h1V121h-1zM183,119h1V122h-1zM184,120h1V122h-1zM185,119h1V122h-1zM186,118h1V121h-1zM187,117h1V120h-1zM188,116h1V119h-1zM189,116h1V118h-1zM190,116h1V119h-1zM191,116h1V118h-1zM192,116h1V118h-1zM193,116h1V119h-1zM194,117h1V119h-1zM195,116h1V119h-1zM196,116h1V118h-1zM197,116h1V118h-1zM198,116h1V119h-1zM199,117h1V119h-1zM200,116h1V119h-1zM201,116h1V118h-1zM202,116h1V118h-1zM203,116h1V118h-1zM204,116h1V119h-1zM205,116h1V118h-1zM206,116h1V118h-1zM207,116h1V118h-1zM208,116h1V118h-1zM209,116h1V118h-1zM210,116h1V119h-1zM211,117h1V119h-1zM212,116h1V119h-1zM213,116h1V118h-1zM214,116h1V118h-1zM215,116h1V119h-1zM216,117h1V119h-1zM217,117h1V119h-1zM218,117h1V119h-1zM219,117h1V119h-1zM220,117h1V119h-1zM221,116h1V119h-1zM222,116h1V119h-1zM223,117h1V121h-1zM224,119h1V122h-1zM225,120h1V122h-1zM226,120h1V122h-1zM227,119h1V122h-1zM228,118h1V121h-1zM229,117h1V120h-1zM230,117h1V119h-1zM231,117h1V120h-1zM232,118h1V121h-1zM233,119h1V121h-1zM234,119h1V121h-1zM235,119h1V121h-1zM236,117h1V121h-1zM237,116h1V119h-1zM238,116h1V118h-1zM239,116h1V119h-1zM240,117h1V119h-1zM241,116h1V119h-1zM242,116h1V118h-1zM243,116h1V118h-1zM244,116h1V119h-1zM245,117h1V119h-1zM246,117h1V120h-1zM247,118h1V121h-1zM248,119h1V121h-1zM249,119h1V121h-1zM250,118h1V121h-1zM251,117h1V120h-1zM252,116h1V119h-1zM253,116h1V118h-1zM254,116h1V118h-1zM255,116h1V119h-1zM256,117h1V120h-1zM257,118h1V121h-1zM258,119h1V122h-1zM259,120h1V122h-1zM260,119h1V122h-1zM261,117h1V121h-1zM262,116h1V119h-1zM263,116h1V118h-1zM264,116h1V118h-1zM265,116h1V119h-1zM266,117h1V119h-1zM267,117h1V119h-1zM268,116h1V119h-1zM269,116h1V118h-1zM270,116h1V118h-1zM271,116h1V119h-1zM272,117h1V120h-1zM273,118h1V120h-1zM274,118h1V121h-1zM275,118h1V121h-1zM276,117h1V120h-1zM277,117h1V119h-1zM278,117h1V119h-1zM279,117h1V119h-1zM280,117h1V120h-1zM281,118h1V120h-1zM282,118h1V120h-1zM283,118h1V120h-1zM284,118h1V120h-1zM285,117h1V120h-1zM286,117h1V119h-1zM287,117h1V119h-1zM288,117h1V119h-1zM289,116h1V119h-1zM290,116h1V118h-1zM291,116h1V118h-1zM292,116h1V119h-1zM293,117h1V120h-1zM294,118h1V121h-1zM295,119h1V121h-1zM296,119h1V121h-1zM297,119h1V121h-1zM298,118h1V121h-1zM299,116h1V120h-1zM300,116h1V118h-1zM301,116h1V119h-1zM302,117h1V120h-1zM303,118h1V120h-1zM304,118h1V120h-1zM305,118h1V120h-1zM306,118h1V120h-1zM307,117h1V120h-1zM308,116h1V119h-1zM309,116h1V118h-1zM310,116h1V119h-1zM311,117h1V119h-1z" fill="#ff7070" shape-rendering="crispEdges"/><path d="M12,52h1h1V50h1V46h1V49h1V50h1V52h1V51h1V54h1V49h1V47h1V50h5V52h1V53h1V52h1V50h1V49h1V53h2V49h1V51h1V46h2V51h2V46h2V47h1V51h2V46h1V49h1V51h2V53h1V51h1V49h3V50h1V53h1V46h1V48h1V49h1V50h1V51h1V49h1V46h1V47h1V49h1V53h1V47h2V46h1V48h1V49h1V51h1V52h1V50h1V53h1V52h2V54h1V48h1V54h1V49h1V50h1V47h1V46h1V47h1V49h1V51h1V50h1V46h2V49h1V52h1V53h1V49h1V50h1V52h1V51h1V47h1V49h2V51h1V50h1V48h1V52h1V51h1V49h1V51h1V52h1V51h1V53h1V50h1V49h1V51h1V54h1V48h1V46h1V52h1V51h1V52h1V51h1V55h2V48h1V50h1V51h1V48h1V51h1V47h1V51h1V52h1V50h1V53h1V51h2V47h1V49h1V46h1V47h1V46h1V47h1V49h1V47h1V46h1V51h1V49h1V48h2V47h2V50h1V49h1V51h1V50h3V48h1V50h1V49h1V50h1V52h1V47h1V46h1V48h1V54h2V47h1V46h2V51h1V48h1V50h1V51h1V52h1V48h1V50h1V53h1V49h1V50h1V49h2V48h1V49h2V52h2V49h3V52h1V47h1V50h1V48h1V47h1V49h1V51h1V46h1V52h1V51h2V47h1V49h1V50h1V47h1V53h1V52h2V47h1V46h1V50h1V53h1V51h2V47h1V52h1V47h1V51h1V50h3V51h1V50h1V51h1V47h1V52h1V53h1V50h1V47h1V50h1V51h1V54h1V49h1V47h1V48h1V50h1V51h1V52h1V46h1V48h1V53h1V51h2V53h1V54h1V46h1V48h1V53h1V55h2V48h1V46h1V48h1V50h2V47h1V53h1V47h1V54h2V52h1V53h1V48h1V49h1V47h1V51h1V46h1V51h2V53h1V46h1V51h1V52h1V48h1V47h1V48h2V50h1V46h2V48h1V49h1V51h2V46h1V49h1V48h1V51h1V52h1V48h1V47h1V46h1V48h1V49h1V53h2V51h1V52h1V49h2V51h1V49h1V47h2V49h1V50h1V46h1V47h1V48h1V50h1V54h1V49h1V51h1V76h-1V77h-2V73h-1V76h-2V77h-2V75h-1V76h-1V79h-1V76h-1V77h-1V76h-2V74h-1V78h-2V76h-1V77h-1V78h-2V76h-1V78h-1V73h-1V74h-3V76h-2V73h-1V74h-2V71h-1V78h-1V75h-1V77h-1V75h-1V76h-1V72h-1V73h-1V78h-1V77h-1V75h-1V77h-1V74h-1V79h-1V77h-1V78h-1V75h-1V78h-1V73h-1V74h-1V76h-1V78h-1V77h-1V78h-1V73h-1V74h-1V75h-1V76h-2V72h-1V73h-1V74h-1V72h-2V73h-1V75h-1V73h-1V78h-2V79h-1V77h-1V74h-1V75h-1V78h-1V77h-1V78h-2V75h-1V73h-2V75h-2V78h-1V75h-1V79h-1V77h-1V79h-1V77h-2V78h-1V75h-1V76h-1V75h-1V73h-1V76h-1V75h-1V77h-1V73h-1V74h-1V75h-1V78h-1V77h-1V75h-1V73h-1V77h-1V73h-1V71h-1V72h-1V77h-1V76h-1V74h-1V76h-1V77h-1V74h-1V76h-1V75h-1V76h-1V77h-1V79h-1V77h-1V78h-1V79h-1V71h-1V77h-1V74h-1V72h-1V78h-1V74h-1V76h-1V73h-1V87h-1V73h-1V75h-1V76h-1V73h-1V78h-1V74h-1V73h-1V76h-1V74h-3V73h-1V74h-1V78h-1V73h-1V79h-1V75h-1V77h-1V72h-1V73h-1V75h-1V72h-2V78h-1V79h-1V77h-1V74h-4V76h-1V79h-2V73h-1V77h-2V78h-1V75h-1V77h-1V73h-2V74h-1V79h-1V77h-1V72h-1V74h-2V75h-1V73h-2V74h-1V76h-1V78h-1V72h-1V77h-1V71h-2V86h-1V72h-3V76h-1V78h-1V75h-1V76h-1V77h-1V79h-1V73h-1V78h-1V75h-1V74h-2V75h-2V77h-1V75h-1V78h-2V71h-2V72h-1V75h-1V77h-1V79h-1V73h-1V78h-1V79h-1V76h-1V77h-2V78h-1V76h-1V78h-3V72h-2V76h-1V72h-1V73h-1V74h-1V75h-1V77h-1V78h-1V77h-1V75h-1V73h-1V75h-1V76h-1V75h-3V77h-1V78h-1V75h-1V72h-1V76h-1V73h-2V74h-1V76h-2V71h-1V72h-1V73h-1V74h-2V72h-2V79h-1V78h-1V72h-1V76h-2V74h-2V77h-1V88h-1V78h-1V74h-1V76h-1V78h-1V76h-1V73h-1V72h-1V75h-1V77h-1V79h-1V75h-2V71h-2V78h-1V73h-1V78h-1V76h-1V79h-1V77h-1V74h-1V76h-1V72h-1V73h-2V74h-1V75h-1V77h-1Z" fill="#7272ff" shape-rendering="crispEdges"/><use href="#over"/><text x="17.6" y="212" fill="#0000ff" font-size="11" font-family="'Liberation Mono', monospace" textLength="83" lengthAdjust="spacingAndGlyphs" stroke="#0000ff" stroke-width="0.12">Freq(1)&gt;10.00Hz</text><use href="#ch1inv"/><text x="32.5" y="229.2" fill="#0000ff" font-size="11" font-family="'Liberation Mono', monospace" textLength="36.5" lengthAdjust="spacingAndGlyphs" stroke="#0000ff" stroke-width="0.12">2.00mV</text><use href="#ch2nor"/><text x="118.5" y="229.2" fill="#ff0000" font-size="11" font-family="'Liberation Mono', monospace" textLength="36.5" lengthAdjust="spacingAndGlyphs" stroke="#ff0000" stroke-width="0.12">20.0mV</text><use href="#bicon" x="86" color="#ff0000"/><text x="35.6" y="157" fill="#111" font-size="13.6" font-family="'Liberation Sans', sans-serif" textLength="223.4" lengthAdjust="spacingAndGlyphs" stroke="#111" stroke-width="0.4">Rx 2(200mm diameter coils, figure 8)</text><text x="35.6" y="175" fill="#111" font-size="13.6" font-family="'Liberation Sans', sans-serif" textLength="146.4" lengthAdjust="spacingAndGlyphs" stroke="#111" stroke-width="0.4">one end to noise source</text></svg><svg x="971" y="4" width="320" height="234" viewBox="0 0 320 234"><use href="#base"/><use href="#bicon" color="#0000ff"/><path d="M12,117h1V119h-1zM13,117h1V119h-1zM14,117h1V120h-1zM15,118h1V121h-1zM16,119h1V121h-1zM17,119h1V121h-1zM18,118h1V121h-1zM19,116h1V120h-1zM20,116h1V119h-1zM21,117h1V119h-1zM22,116h1V119h-1zM23,116h1V118h-1zM24,116h1V119h-1zM25,117h1V120h-1zM26,117h1V120h-1zM27,117h1V119h-1zM28,116h1V119h-1zM29,116h1V119h-1zM30,117h1V119h-1zM31,117h1V119h-1zM32,116h1V119h-1zM33,116h1V118h-1zM34,116h1V119h-1zM35,117h1V119h-1zM36,117h1V120h-1zM37,117h1V119h-1zM38,116h1V119h-1zM39,116h1V118h-1zM40,116h1V119h-1zM41,117h1V120h-1zM42,118h1V120h-1zM43,118h1V120h-1zM44,118h1V120h-1zM45,118h1V120h-1zM46,118h1V120h-1zM47,118h1V120h-1zM48,117h1V120h-1zM49,117h1V119h-1zM50,117h1V120h-1zM51,118h1V120h-1zM52,118h1V121h-1zM53,119h1V122h-1zM54,120h1V122h-1zM55,119h1V122h-1zM56,117h1V121h-1zM57,116h1V119h-1zM58,116h1V119h-1zM59,117h1V119h-1zM60,117h1V119h-1zM61,116h1V119h-1zM62,116h1V118h-1zM63,116h1V118h-1zM64,116h1V118h-1zM65,116h1V118h-1zM66,116h1V118h-1zM67,116h1V119h-1zM68,117h1V119h-1zM69,117h1V119h-1zM70,116h1V119h-1zM71,116h1V118h-1zM72,116h1V119h-1zM73,116h1V119h-1zM74,116h1V118h-1zM75,116h1V119h-1zM76,116h1V118h-1zM77,116h1V118h-1zM78,116h1V118h-1zM79,116h1V118h-1zM80,116h1V118h-1zM81,116h1V118h-1zM82,116h1V119h-1zM83,117h1V119h-1zM84,116h1V119h-1zM85,116h1V118h-1zM86,116h1V118h-1zM87,116h1V119h-1zM88,117h1V119h-1zM89,117h1V120h-1zM90,118h1V121h-1zM91,119h1V122h-1zM92,120h1V123h-1zM93,121h1V123h-1zM94,120h1V123h-1zM95,119h1V122h-1zM96,118h1V121h-1zM97,117h1V120h-1zM98,116h1V119h-1zM99,116h1V118h-1zM100,116h1V118h-1zM101,116h1V119h-1zM102,117h1V120h-1zM103,118h1V120h-1zM104,118h1V120h-1zM105,118h1V120h-1zM106,117h1V120h-1zM107,116h1V119h-1zM108,116h1V119h-1zM109,117h1V119h-1zM110,117h1V120h-1zM111,118h1V120h-1zM112,117h1V120h-1zM113,117h1V119h-1zM114,117h1V120h-1zM115,118h1V120h-1zM116,118h1V120h-1zM117,117h1V120h-1zM118,117h1V119h-1zM119,116h1V119h-1zM120,116h1V118h-1zM121,116h1V118h-1zM122,116h1V118h-1zM123,116h1V118h-1zM124,116h1V118h-1zM125,116h1V119h-1zM126,116h1V119h-1zM127,116h1V118h-1zM128,116h1V119h-1zM129,117h1V119h-1zM130,117h1V119h-1zM131,116h1V119h-1zM132,116h1V119h-1zM133,117h1V120h-1zM134,118h1V120h-1zM135,118h1V120h-1zM136,117h1V120h-1zM137,117h1V119h-1zM138,116h1V119h-1zM139,116h1V118h-1zM140,116h1V118h-1zM141,116h1V118h-1zM142,116h1V118h-1zM143,116h1V118h-1zM144,116h1V119h-1zM145,117h1V120h-1zM146,118h1V120h-1zM147,118h1V120h-1zM148,118h1V121h-1zM149,119h1V122h-1zM150,119h1V122h-1zM151,118h1V121h-1zM152,118h1V120h-1zM153,117h1V120h-1zM154,117h1V119h-1zM155,116h1V119h-1zM156,116h1V118h-1zM157,116h1V119h-1zM158,116h1V119h-1zM159,116h1V119h-1zM160,117h1V119h-1zM161,117h1V119h-1zM162,117h1V120h-1zM163,118h1V121h-1zM164,119h1V121h-1zM165,119h1V122h-1zM166,119h1V121h-1zM167,118h1V121h-1zM168,117h1V120h-1zM169,117h1V119h-1zM170,117h1V119h-1zM171,117h1V119h-1zM172,116h1V119h-1zM173,116h1V120h-1zM174,118h1V121h-1zM175,119h1V121h-1zM176,119h1V121h-1zM177,118h1V121h-1zM178,117h1V120h-1zM179,117h1V119h-1zM180,116h1V119h-1zM181,116h1V118h-1zM182,116h1V118h-1zM183,116h1V118h-1zM184,116h1V118h-1zM185,116h1V118h-1zM186,116h1V119h-1zM187,117h1V119h-1zM188,117h1V119h-1zM189,117h1V120h-1zM190,118h1V120h-1zM191,117h1V120h-1zM192,117h1V119h-1zM193,117h1V119h-1zM194,117h1V119h-1zM195,117h1V120h-1zM196,118h1V121h-1zM197,119h1V122h-1zM198,120h1V122h-1zM199,120h1V122h-1zM200,119h1V122h-1zM201,118h1V121h-1zM202,117h1V120h-1zM203,117h1V119h-1zM204,117h1V119h-1zM205,117h1V120h-1zM206,118h1V120h-1zM207,118h1V120h-1zM208,118h1V120h-1zM209,118h1V120h-1zM210,117h1V120h-1zM211,117h1V119h-1zM212,117h1V120h-1zM213,118h1V120h-1zM214,118h1V121h-1zM215,119h1V122h-1zM216,120h1V122h-1zM217,119h1V122h-1zM218,119h1V121h-1zM219,118h1V121h-1zM220,117h1V120h-1zM221,117h1V119h-1zM222,117h1V119h-1zM223,117h1V119h-1zM224,117h1V119h-1zM225,117h1V119h-1zM226,117h1V119h-1zM227,117h1V119h-1zM228,117h1V119h-1zM229,117h1V119h-1zM230,117h1V119h-1zM231,117h1V119h-1zM232,116h1V119h-1zM233,116h1V119h-1zM234,117h1V119h-1zM235,117h1V119h-1zM236,116h1V119h-1zM237,116h1V118h-1zM238,116h1V119h-1zM239,116h1V119h-1zM240,116h1V118h-1zM241,116h1V118h-1zM242,116h1V119h-1zM243,117h1V119h-1zM244,117h1V120h-1zM245,118h1V120h-1zM246,117h1V120h-1zM247,117h1V119h-1zM248,116h1V119h-1zM249,116h1V119h-1zM250,116h1V119h-1zM251,116h1V118h-1zM252,116h1V118h-1zM253,116h1V119h-1zM254,117h1V120h-1zM255,118h1V121h-1zM256,119h1V121h-1zM257,118h1V121h-1zM258,117h1V120h-1zM259,116h1V119h-1zM260,116h1V120h-1zM261,118h1V120h-1zM262,117h1V120h-1zM263,116h1V119h-1zM264,117h1V120h-1zM265,118h1V120h-1zM266,118h1V120h-1zM267,118h1V120h-1zM268,118h1V120h-1zM269,118h1V120h-1zM270,118h1V121h-1zM271,119h1V121h-1zM272,119h1V121h-1zM273,119h1V121h-1zM274,119h1V121h-1zM275,119h1V121h-1zM276,119h1V121h-1zM277,118h1V121h-1zM278,117h1V120h-1zM279,116h1V119h-1zM280,116h1V119h-1zM281,117h1V120h-1zM282,118h1V120h-1zM283,117h1V120h-1zM284,117h1V119h-1zM285,117h1V119h-1zM286,117h1V119h-1zM287,117h1V119h-1zM288,117h1V119h-1zM289,116h1V119h-1zM290,116h1V118h-1zM291,116h1V119h-1zM292,117h1V119h-1zM293,117h1V120h-1zM294,118h1V120h-1zM295,117h1V120h-1zM296,117h1V119h-1zM297,116h1V119h-1zM298,116h1V118h-1zM299,116h1V118h-1zM300,116h1V118h-1zM301,116h1V118h-1zM302,116h1V119h-1zM303,117h1V119h-1zM304,117h1V119h-1zM305,117h1V119h-1zM306,117h1V119h-1zM307,117h1V119h-1zM308,117h1V119h-1zM309,116h1V119h-1zM310,116h1V118h-1zM311,116h1V118h-1z" fill="#ff7070" shape-rendering="crispEdges"/><path d="M12,47h1V41h1V42h1V38h1V40h1V41h1V43h1V42h1V41h1V40h1V41h1V43h1V40h1V43h2V40h1V45h1V46h1V47h1V40h1V44h1V45h2V42h1V40h2V41h1V45h2V42h1V41h1V42h2V41h1V45h1V44h1V40h1V42h1V47h2V46h1V40h1V42h2V41h2V45h1V46h1V45h2V39h1V42h1V41h1V44h1V39h1V42h2V44h1V45h1V42h1V43h1V44h1V42h1V47h3V43h1V44h1V46h1V47h1V48h1V45h1V44h1V34h1V47h2V48h2V40h1V41h1V42h2V43h1V40h1V43h1V45h1V43h1V44h1V45h1V46h1V43h1V41h1V49h1V45h1V46h1V47h1V44h1V42h1V46h1V41h2V42h1V45h1V46h1V45h1V42h1V45h1V41h2V44h1V47h1V41h1V43h1V46h1V47h1V46h1V44h2V42h1V46h1V48h2V49h1V48h1V49h1V42h3V44h1V47h1V48h1V47h1V43h1V42h2V43h1V49h2V46h1V43h1V44h1V49h1V45h1V47h1V45h1V42h1V46h1V45h1V46h1V47h1V48h1V47h2V43h1V42h2V45h1V42h2V44h1V42h1V45h1V42h1V43h1V44h1V45h1V47h1V44h1V45h1V48h1V44h1V42h1V48h1V49h1V50h1V45h1V46h1V43h1V49h1V46h1V47h2V45h2V48h2V43h1V46h1V45h1V43h1V44h1V51h1V46h1V45h1V50h2V45h1V47h4V49h1V43h1V47h1V45h1V44h1V45h1V48h1V47h1V48h1V50h1V47h1V49h2V47h1V49h2V50h1V51h1V48h1V46h1V47h1V45h1V44h1V47h1V44h1V47h1V49h1V51h1V49h2V51h1V47h1V49h1V44h1V50h1V52h2V46h1V48h1V45h1V52h1V47h1V48h1V44h1V46h1V48h1V44h1V46h2V47h1V44h1V49h1V46h1V49h1V44h1V51h1V46h1V45h1V47h1V44h1V45h1V48h1V51h1V45h1V51h2V45h1V50h1V49h1V46h1V48h1V47h1V45h2V47h1V48h1V49h1V50h1V47h1V52h1V45h1V53h1V46h2V48h1V52h1V47h1V48h2V49h1V51h1V46h1V51h1V48h1V50h1V49h1V48h2V49h1V75h-1V71h-1V73h-1V74h-1V76h-1V72h-1V71h-1V75h-1V77h-1V73h-2V70h-1V71h-1V75h-1V74h-1V76h-2V74h-1V75h-1V73h-3V74h-1V75h-1V71h-1V72h-1V75h-1V72h-2V74h-1V71h-1V72h-1V73h-1V71h-1V76h-1V75h-2V74h-1V73h-2V74h-2V73h-1V74h-3V72h-1V76h-1V75h-1V74h-3V73h-2V72h-1V73h-1V71h-1V75h-1V71h-2V74h-1V75h-2V72h-1V74h-2V75h-1V74h-1V73h-1V75h-3V71h-1V72h-1V73h-1V74h-2V73h-1V69h-5V70h-1V75h-1V74h-1V69h-1V72h-1V73h-1V69h-2V75h-1V74h-1V71h-1V69h-1V75h-1V80h-1V73h-1V74h-2V69h-1V70h-1V71h-1V72h-1V74h-1V70h-1V71h-1V75h-1V73h-1V72h-1V71h-1V73h-1V74h-1V75h-1V73h-1V74h-1V70h-1V72h-1V73h-1V74h-1V69h-1V71h-1V69h-1V70h-2V72h-1V73h-1V70h-1V71h-1V73h-2V71h-1V69h-1V74h-1V73h-1V68h-1V71h-1V72h-3V74h-1V72h-1V71h-1V69h-1V71h-1V72h-1V71h-1V73h-2V70h-2V78h-1V73h-1V69h-1V70h-1V68h-1V72h-1V70h-1V72h-1V71h-1V68h-1V72h-2V71h-1V72h-1V68h-1V70h-1V72h-1V71h-2V73h-1V71h-2V67h-1V68h-1V67h-1V69h-1V72h-1V73h-2V70h-1V71h-1V72h-1V70h-1V67h-2V68h-1V69h-1V70h-1V72h-1V67h-1V71h-2V67h-2V68h-2V70h-1V68h-1V70h-1V72h-1V71h-2V72h-1V70h-1V68h-1V67h-3V72h-1V66h-2V72h-1V70h-1V67h-1V71h-1V70h-1V69h-1V67h-1V70h-1V72h-1V69h-1V68h-1V70h-1V68h-1V69h-1V72h-1V70h-3V68h-1V71h-1V69h-1V68h-1V69h-1V67h-1V68h-1V71h-1V70h-1V71h-1V67h-1V69h-1V70h-1V71h-1V72h-1V71h-1V66h-1V67h-1V68h-1V69h-1V70h-1V67h-1V69h-2V71h-1V66h-2V68h-1V66h-1V65h-1V71h-1V67h-1V66h-1V70h-1V71h-1V69h-1V71h-2V65h-3V68h-2V69h-1V71h-1V66h-1V64h-1V67h-3V70h-1V66h-1V69h-1V67h-1V69h-1V68h-1V65h-3V66h-2V67h-1V68h-1V66h-1V68h-3V69h-1V67h-1V65h-1Z" fill="#7272ff" shape-rendering="crispEdges"/><use href="#over"/><text x="17.6" y="212" fill="#0000ff" font-size="11" font-family="'Liberation Mono', monospace" textLength="83" lengthAdjust="spacingAndGlyphs" stroke="#0000ff" stroke-width="0.12">Freq(1)=7.143Hz</text><use href="#ch1inv"/><text x="32.5" y="229.2" fill="#0000ff" font-size="11" font-family="'Liberation Mono', monospace" textLength="36.5" lengthAdjust="spacingAndGlyphs" stroke="#0000ff" stroke-width="0.12">2.00mV</text><use href="#ch2nor"/><text x="118.5" y="229.2" fill="#ff0000" font-size="11" font-family="'Liberation Mono', monospace" textLength="36.5" lengthAdjust="spacingAndGlyphs" stroke="#ff0000" stroke-width="0.12">20.0mV</text><use href="#bicon" x="86" color="#ff0000"/><text x="29.3" y="156" fill="#111" font-size="13.6" font-family="'Liberation Sans', sans-serif" textLength="225" lengthAdjust="spacingAndGlyphs" stroke="#111" stroke-width="0.4">Rx 2(200mm diameter coils, figure 8)</text><text x="29.3" y="174" fill="#111" font-size="13.6" font-family="'Liberation Sans', sans-serif" textLength="257" lengthAdjust="spacingAndGlyphs" stroke="#111" stroke-width="0.4">both coils similar distance to noise source</text></svg><svg x="2" y="239" width="320" height="234" viewBox="0 0 320 234"><use href="#base"/><use href="#bicon" color="#0000ff"/><path d="M12,117h1V121h-1zM13,120h1V125h-1zM14,124h1V128h-1zM15,121h1V126h-1zM16,121h1V128h-1zM17,122h1V128h-1zM18,117h1V123h-1zM19,117h1V131h-1zM20,130h1V148h-1zM21,146h1V153h-1zM22,124h1V147h-1zM23,117h1V125h-1zM24,118h1V120h-1zM25,119h1V124h-1zM26,123h1V129h-1zM27,127h1V130h-1zM28,126h1V128h-1zM29,127h1V130h-1zM30,128h1V130h-1zM31,128h1V131h-1zM32,128h1V131h-1zM33,123h1V130h-1zM34,122h1V125h-1zM35,124h1V126h-1zM36,120h1V125h-1zM37,118h1V121h-1zM38,118h1V122h-1zM39,121h1V124h-1zM40,123h1V131h-1zM41,130h1V137h-1zM42,136h1V142h-1zM43,135h1V142h-1zM44,131h1V136h-1zM45,122h1V132h-1zM46,118h1V123h-1zM47,118h1V120h-1zM48,119h1V125h-1zM49,124h1V132h-1zM50,131h1V133h-1zM51,132h1V135h-1zM52,127h1V133h-1zM53,127h1V137h-1zM54,127h1V137h-1zM55,120h1V128h-1zM56,120h1V126h-1zM57,122h1V126h-1zM58,119h1V123h-1zM59,119h1V131h-1zM60,130h1V141h-1zM61,126h1V141h-1zM62,122h1V127h-1zM63,117h1V123h-1zM64,117h1V121h-1zM65,120h1V126h-1zM66,125h1V132h-1zM67,131h1V137h-1zM68,136h1V143h-1zM69,142h1V152h-1zM70,143h1V152h-1zM71,140h1V145h-1zM72,138h1V145h-1zM73,134h1V139h-1zM74,128h1V135h-1zM75,122h1V129h-1zM76,118h1V123h-1zM77,117h1V119h-1zM78,118h1V125h-1zM79,124h1V133h-1zM80,132h1V155h-1zM81,137h1V155h-1zM82,135h1V144h-1zM83,133h1V144h-1zM84,118h1V134h-1zM85,117h1V119h-1zM86,118h1V122h-1zM87,121h1V124h-1zM88,123h1V128h-1zM89,124h1V128h-1zM90,121h1V125h-1zM91,121h1V127h-1zM92,126h1V137h-1zM93,133h1V137h-1zM94,122h1V134h-1zM95,122h1V123h-1zM96,118h1V123h-1zM97,117h1V119h-1zM98,117h1V126h-1zM99,125h1V134h-1zM100,127h1V134h-1zM101,117h1V128h-1zM102,117h1V121h-1zM103,120h1V122h-1zM104,120h1V126h-1zM105,125h1V129h-1zM106,127h1V129h-1zM107,121h1V128h-1zM108,118h1V122h-1zM109,118h1V121h-1zM110,120h1V122h-1zM111,121h1V128h-1zM112,127h1V132h-1zM113,130h1V138h-1zM114,137h1V140h-1zM115,131h1V140h-1zM116,134h1V143h-1zM117,138h1V143h-1zM118,132h1V139h-1zM119,124h1V133h-1zM120,121h1V125h-1zM121,119h1V122h-1zM122,119h1V123h-1zM123,122h1V127h-1zM124,126h1V131h-1zM125,128h1V138h-1zM126,137h1V146h-1zM127,134h1V142h-1zM128,134h1V143h-1zM129,142h1V144h-1zM130,143h1V152h-1zM131,145h1V152h-1zM132,134h1V146h-1zM133,129h1V135h-1zM134,122h1V130h-1zM135,121h1V124h-1zM136,123h1V128h-1zM137,126h1V128h-1zM138,125h1V127h-1zM139,123h1V127h-1zM140,119h1V124h-1zM141,118h1V120h-1zM142,119h1V128h-1zM143,127h1V134h-1zM144,128h1V134h-1zM145,124h1V129h-1zM146,121h1V125h-1zM147,120h1V130h-1zM148,129h1V138h-1zM149,134h1V138h-1zM150,124h1V138h-1zM151,117h1V125h-1zM152,117h1V123h-1zM153,122h1V128h-1zM154,127h1V137h-1zM155,132h1V138h-1zM156,127h1V133h-1zM157,125h1V129h-1zM158,120h1V126h-1zM159,117h1V121h-1zM160,119h1V149h-1zM161,146h1V155h-1zM162,123h1V147h-1zM163,117h1V124h-1zM164,117h1V122h-1zM165,121h1V124h-1zM166,123h1V129h-1zM167,126h1V130h-1zM168,126h1V132h-1zM169,127h1V129h-1zM170,127h1V133h-1zM171,132h1V138h-1zM172,135h1V141h-1zM173,132h1V137h-1zM174,127h1V133h-1zM175,123h1V128h-1zM176,119h1V124h-1zM177,119h1V129h-1zM178,128h1V140h-1zM179,128h1V137h-1zM180,121h1V129h-1zM181,127h1V148h-1zM182,147h1V155h-1zM183,152h1V155h-1zM184,120h1V153h-1zM185,120h1V125h-1zM186,124h1V135h-1zM187,134h1V150h-1zM188,142h1V152h-1zM189,142h1V155h-1zM190,149h1V155h-1zM191,138h1V150h-1zM192,136h1V142h-1zM193,126h1V137h-1zM194,118h1V127h-1zM195,118h1V128h-1zM196,127h1V146h-1zM197,145h1V154h-1zM198,149h1V154h-1zM199,130h1V150h-1zM200,120h1V131h-1zM201,118h1V121h-1zM202,119h1V122h-1zM203,121h1V125h-1zM204,124h1V128h-1zM205,125h1V128h-1zM206,127h1V131h-1zM207,126h1V129h-1zM208,126h1V129h-1zM209,121h1V127h-1zM210,120h1V122h-1zM211,121h1V133h-1zM212,132h1V138h-1zM213,128h1V138h-1zM214,119h1V129h-1zM215,118h1V122h-1zM216,121h1V128h-1zM217,127h1V133h-1zM218,132h1V142h-1zM219,140h1V145h-1zM220,135h1V145h-1zM221,122h1V136h-1zM222,118h1V123h-1zM223,118h1V119h-1zM224,118h1V125h-1zM225,124h1V129h-1zM226,127h1V130h-1zM227,129h1V135h-1zM228,134h1V142h-1zM229,132h1V142h-1zM230,132h1V142h-1zM231,137h1V144h-1zM232,132h1V138h-1zM233,132h1V135h-1zM234,125h1V134h-1zM235,119h1V126h-1zM236,117h1V120h-1zM237,116h1V120h-1zM238,119h1V128h-1zM239,127h1V132h-1zM240,127h1V132h-1zM241,127h1V133h-1zM242,132h1V140h-1zM243,139h1V143h-1zM244,137h1V143h-1zM245,131h1V138h-1zM246,123h1V132h-1zM247,117h1V124h-1zM248,117h1V118h-1zM249,117h1V121h-1zM250,120h1V123h-1zM251,122h1V124h-1zM252,122h1V127h-1zM253,125h1V127h-1zM254,125h1V126h-1zM255,125h1V132h-1zM256,131h1V140h-1zM257,139h1V144h-1zM258,143h1V148h-1zM259,139h1V148h-1zM260,135h1V140h-1zM261,130h1V136h-1zM262,121h1V131h-1zM263,117h1V122h-1zM264,117h1V125h-1zM265,124h1V127h-1zM266,125h1V128h-1zM267,125h1V128h-1zM268,118h1V126h-1zM269,118h1V130h-1zM270,129h1V141h-1zM271,140h1V147h-1zM272,137h1V144h-1zM273,137h1V149h-1zM274,136h1V147h-1zM275,136h1V145h-1zM276,144h1V154h-1zM277,137h1V147h-1zM278,128h1V138h-1zM279,128h1V131h-1zM280,122h1V131h-1zM281,118h1V123h-1zM282,116h1V119h-1zM283,118h1V128h-1zM284,125h1V129h-1zM285,118h1V126h-1zM286,118h1V121h-1zM287,120h1V125h-1zM288,123h1V127h-1zM289,126h1V135h-1zM290,134h1V137h-1zM291,126h1V135h-1zM292,124h1V128h-1zM293,124h1V125h-1zM294,120h1V125h-1zM295,118h1V124h-1zM296,123h1V134h-1zM297,133h1V139h-1zM298,120h1V139h-1zM299,116h1V121h-1zM300,117h1V124h-1zM301,123h1V133h-1zM302,128h1V133h-1zM303,128h1V138h-1zM304,137h1V150h-1zM305,136h1V148h-1zM306,136h1V142h-1zM307,127h1V140h-1zM308,124h1V128h-1zM309,118h1V125h-1zM310,117h1V122h-1zM311,121h1V147h-1z" fill="#ff7070" shape-rendering="crispEdges"/><path d="M12,61h1V57h1V60h1V56h1V55h1V57h2V59h2V41h1V58h1V60h1V58h1V55h1V57h1V56h2V57h1V55h1V58h1V56h1V57h1V58h1V57h1V28h1V59h1V57h1V58h1V59h1V36h1V60h1V30h1V56h3V58h2V59h1V57h4V59h2V58h1V57h2V58h1V36h1V56h1V55h3V56h3V16h1V60h1V58h1V56h1V59h1V58h2V56h1V58h1V60h1V57h2V58h1V59h2V57h2V58h2V46h1V58h1V56h1V57h1V49h1V59h1V57h1V58h1V55h1V58h1V59h1V60h2V56h1V58h3V59h1V57h2V58h1V59h1V58h1V59h3V57h1V56h1V57h1V56h1V57h1V45h1V56h1V57h2V59h1V58h1V60h2V37h1V58h1V59h1V60h1V57h1V16h2V59h1V60h1V57h1V59h1V56h1V60h1V58h1V57h2V56h3V59h1V57h1V58h2V59h1V42h1V58h1V56h4V57h2V58h3V56h1V37h1V57h1V58h1V44h1V60h1V16h1V55h1V58h1V60h1V58h1V56h3V60h1V57h1V59h2V58h3V60h2V37h1V57h1V56h1V57h1V59h1V57h1V58h1V57h1V56h1V57h2V59h2V58h1V60h1V56h1V58h1V59h1V56h1V61h1V55h1V58h2V59h3V56h1V57h1V59h1V57h1V58h1V56h1V57h1V56h2V58h1V56h2V57h1V58h1V57h1V56h1V60h3V59h1V60h4V58h1V56h1V57h3V56h1V59h1V55h1V56h1V57h1V58h2V55h1V59h1V60h1V55h1V56h1V55h1V56h1V57h1V59h1V58h1V57h1V60h1V59h1V55h2V56h1V55h1V57h2V60h2V56h1V60h1V59h1V56h2V58h1V59h1V58h1V55h1V56h1V60h1V55h1V56h1V60h1V58h1V60h3V59h1V46h1V57h1V60h2V57h1V58h1V59h1V60h1V59h1V57h1V36h1V56h1V55h1V57h2V56h2V50h1V58h1V55h1V59h1V27h1V58h1V56h1V58h1V55h1V77h-1V74h-2V77h-1V76h-2V75h-1V76h-2V77h-2V78h-1V77h-1V78h-2V75h-1V76h-2V77h-1V83h-1V78h-1V92h-1V78h-1V76h-2V78h-1V75h-1V76h-3V78h-1V77h-1V76h-1V75h-1V77h-3V74h-1V75h-2V77h-1V75h-1V74h-1V77h-1V76h-1V75h-1V76h-1V75h-1V77h-1V78h-1V75h-2V76h-1V78h-1V77h-1V78h-1V76h-1V75h-2V76h-3V77h-2V138h-1V76h-2V75h-2V78h-1V76h-1V107h-1V77h-2V106h-1V77h-1V78h-1V76h-2V85h-1V77h-1V78h-1V74h-1V77h-1V78h-1V74h-2V76h-2V77h-1V78h-3V76h-1V77h-2V78h-1V77h-1V76h-1V77h-1V75h-2V77h-1V74h-2V75h-3V74h-3V75h-2V76h-1V74h-1V76h-2V77h-3V75h-1V76h-1V77h-3V75h-2V74h-1V78h-1V75h-1V77h-1V75h-1V76h-2V78h-1V76h-2V75h-1V109h-1V76h-2V74h-1V75h-1V74h-4V76h-2V77h-1V75h-1V77h-1V78h-2V77h-2V74h-1V78h-1V76h-2V74h-1V75h-3V77h-1V78h-1V77h-1V78h-1V74h-1V78h-1V76h-1V77h-1V74h-1V77h-1V74h-1V75h-1V76h-1V78h-1V77h-1V75h-4V77h-1V76h-1V78h-1V77h-1V74h-2V78h-1V91h-1V77h-1V78h-3V76h-1V74h-1V75h-1V78h-1V77h-1V76h-1V77h-1V76h-1V81h-1V77h-1V78h-1V74h-1V77h-1V75h-1V78h-1V76h-1V77h-1V78h-1V75h-1V76h-1V126h-1V75h-3V76h-1V77h-1V74h-2V76h-1V74h-3V78h-1V77h-2V78h-1V77h-2V76h-1V78h-1V75h-1V78h-1V76h-1V134h-1V77h-4V76h-2V75h-1V76h-1V77h-1V76h-2V77h-1V78h-1V77h-1V78h-1V75h-3V78h-1V75h-2V78h-1V79h-1V78h-1V76h-1V77h-2V75h-1V74h-1V78h-1V76h-1V77h-1V78h-1V76h-1V77h-2V76h-1V78h-1V75h-1V76h-1V75h-1V76h-1V75h-1V74h-4V78h-1V77h-1V106h-1V78h-1V74h-1V76h-1V78h-1V75h-2V77h-1V76h-3V77h-1Z" fill="#7272ff" shape-rendering="crispEdges"/><use href="#over"/><text x="17.6" y="212" fill="#0000ff" font-size="11" font-family="'Liberation Mono', monospace" textLength="71" lengthAdjust="spacingAndGlyphs" stroke="#0000ff" stroke-width="0.12">Freq(1)=*****</text><use href="#ch1inv"/><text x="32.5" y="229.2" fill="#0000ff" font-size="11" font-family="'Liberation Mono', monospace" textLength="36.5" lengthAdjust="spacingAndGlyphs" stroke="#0000ff" stroke-width="0.12">20.0mV</text><use href="#ch2nor"/><text x="118.5" y="229.2" fill="#ff0000" font-size="11" font-family="'Liberation Mono', monospace" textLength="36.5" lengthAdjust="spacingAndGlyphs" stroke="#ff0000" stroke-width="0.12">10.0mV</text><use href="#bicon" x="86" color="#ff0000"/></svg><svg x="325" y="240" width="320" height="234" viewBox="0 0 320 234"><use href="#base"/><use href="#bicon" color="#0000ff"/><path d="M12,116h1V117h-1zM13,116h1V120h-1zM14,119h1V122h-1zM15,121h1V125h-1zM16,120h1V125h-1zM17,118h1V122h-1zM18,121h1V125h-1zM19,118h1V125h-1zM20,118h1V122h-1zM21,121h1V124h-1zM22,122h1V124h-1zM23,120h1V123h-1zM24,117h1V121h-1zM25,119h1V122h-1zM26,121h1V124h-1zM27,123h1V131h-1zM28,129h1V131h-1zM29,129h1V131h-1zM30,126h1V132h-1zM31,126h1V129h-1zM32,125h1V129h-1zM33,125h1V130h-1zM34,129h1V136h-1zM35,135h1V139h-1zM36,131h1V138h-1zM37,126h1V132h-1zM38,126h1V134h-1zM39,133h1V136h-1zM40,134h1V136h-1zM41,127h1V135h-1zM42,125h1V128h-1zM43,122h1V126h-1zM44,120h1V123h-1zM45,118h1V121h-1zM46,118h1V125h-1zM47,124h1V133h-1zM48,132h1V139h-1zM49,138h1V144h-1zM50,143h1V150h-1zM51,138h1V147h-1zM52,132h1V139h-1zM53,122h1V133h-1zM54,120h1V123h-1zM55,117h1V121h-1zM56,117h1V123h-1zM57,122h1V129h-1zM58,123h1V130h-1zM59,123h1V137h-1zM60,132h1V142h-1zM61,126h1V133h-1zM62,121h1V129h-1zM63,117h1V122h-1zM64,119h1V126h-1zM65,125h1V134h-1zM66,131h1V134h-1zM67,131h1V134h-1zM68,127h1V132h-1zM69,124h1V129h-1zM70,124h1V133h-1zM71,132h1V143h-1zM72,142h1V160h-1zM73,159h1V170h-1zM74,169h1V178h-1zM75,171h1V179h-1zM76,156h1V172h-1zM77,142h1V157h-1zM78,140h1V143h-1zM79,140h1V154h-1zM80,153h1V164h-1zM81,141h1V164h-1zM82,131h1V142h-1zM83,136h1V150h-1zM84,144h1V153h-1zM85,152h1V155h-1zM86,140h1V153h-1zM87,130h1V141h-1zM88,125h1V138h-1zM89,137h1V161h-1zM90,160h1V164h-1zM91,127h1V163h-1zM92,117h1V128h-1zM93,118h1V124h-1zM94,123h1V127h-1zM95,126h1V128h-1zM96,124h1V128h-1zM97,120h1V125h-1zM98,118h1V121h-1zM99,118h1V122h-1zM100,120h1V122h-1zM101,121h1V132h-1zM102,131h1V136h-1zM103,128h1V136h-1zM104,128h1V133h-1zM105,126h1V133h-1zM106,126h1V129h-1zM107,121h1V127h-1zM108,121h1V133h-1zM109,131h1V133h-1zM110,121h1V132h-1zM111,121h1V130h-1zM112,127h1V136h-1zM113,128h1V136h-1zM114,118h1V129h-1zM115,118h1V129h-1zM116,128h1V142h-1zM117,137h1V142h-1zM118,136h1V141h-1zM119,133h1V137h-1zM120,132h1V136h-1zM121,124h1V133h-1zM122,119h1V125h-1zM123,119h1V123h-1zM124,122h1V131h-1zM125,130h1V142h-1zM126,134h1V142h-1zM127,128h1V135h-1zM128,118h1V129h-1zM129,117h1V119h-1zM130,117h1V120h-1zM131,119h1V122h-1zM132,121h1V122h-1zM133,121h1V124h-1zM134,122h1V125h-1zM135,120h1V123h-1zM136,119h1V121h-1zM137,119h1V120h-1zM138,117h1V120h-1zM139,117h1V118h-1zM140,117h1V130h-1zM141,129h1V137h-1zM142,130h1V143h-1zM143,121h1V131h-1zM144,119h1V124h-1zM145,123h1V133h-1zM146,128h1V133h-1zM147,125h1V129h-1zM148,120h1V127h-1zM149,118h1V121h-1zM150,118h1V123h-1zM151,122h1V127h-1zM152,122h1V126h-1zM153,125h1V128h-1zM154,125h1V128h-1zM155,125h1V128h-1zM156,126h1V128h-1zM157,124h1V127h-1zM158,123h1V125h-1zM159,121h1V125h-1zM160,118h1V122h-1zM161,118h1V121h-1zM162,120h1V130h-1zM163,129h1V134h-1zM164,133h1V143h-1zM165,141h1V147h-1zM166,142h1V152h-1zM167,150h1V156h-1zM168,137h1V151h-1zM169,128h1V138h-1zM170,120h1V129h-1zM171,118h1V122h-1zM172,121h1V130h-1zM173,126h1V130h-1zM174,118h1V127h-1zM175,116h1V119h-1zM176,117h1V120h-1zM177,119h1V121h-1zM178,120h1V123h-1zM179,122h1V123h-1zM180,122h1V124h-1zM181,123h1V125h-1zM182,122h1V125h-1zM183,121h1V125h-1zM184,119h1V122h-1zM185,119h1V120h-1zM186,118h1V121h-1zM187,120h1V128h-1zM188,127h1V138h-1zM189,137h1V140h-1zM190,139h1V146h-1zM191,136h1V142h-1zM192,136h1V140h-1zM193,126h1V140h-1zM194,119h1V127h-1zM195,119h1V132h-1zM196,131h1V145h-1zM197,125h1V145h-1zM198,117h1V126h-1zM199,117h1V127h-1zM200,126h1V142h-1zM201,141h1V147h-1zM202,135h1V146h-1zM203,122h1V136h-1zM204,119h1V125h-1zM205,124h1V142h-1zM206,141h1V149h-1zM207,129h1V147h-1zM208,118h1V130h-1zM209,119h1V125h-1zM210,124h1V132h-1zM211,131h1V134h-1zM212,130h1V132h-1zM213,124h1V131h-1zM214,124h1V125h-1zM215,119h1V125h-1zM216,119h1V125h-1zM217,124h1V129h-1zM218,126h1V141h-1zM219,140h1V143h-1zM220,138h1V146h-1zM221,145h1V148h-1zM222,147h1V152h-1zM223,143h1V152h-1zM224,125h1V144h-1zM225,125h1V131h-1zM226,122h1V130h-1zM227,117h1V123h-1zM228,117h1V119h-1zM229,118h1V124h-1zM230,123h1V129h-1zM231,128h1V131h-1zM232,128h1V133h-1zM233,129h1V146h-1zM234,145h1V159h-1zM235,141h1V152h-1zM236,141h1V146h-1zM237,138h1V146h-1zM238,128h1V139h-1zM239,122h1V129h-1zM240,118h1V123h-1zM241,117h1V119h-1zM242,117h1V123h-1zM243,122h1V128h-1zM244,127h1V136h-1zM245,135h1V142h-1zM246,136h1V142h-1zM247,134h1V141h-1zM248,134h1V141h-1zM249,134h1V143h-1zM250,142h1V146h-1zM251,129h1V144h-1zM252,129h1V132h-1zM253,131h1V139h-1zM254,138h1V147h-1zM255,144h1V149h-1zM256,138h1V145h-1zM257,131h1V139h-1zM258,125h1V132h-1zM259,123h1V129h-1zM260,128h1V135h-1zM261,134h1V141h-1zM262,140h1V146h-1zM263,133h1V143h-1zM264,127h1V134h-1zM265,120h1V128h-1zM266,120h1V125h-1zM267,123h1V130h-1zM268,129h1V137h-1zM269,134h1V137h-1zM270,134h1V137h-1zM271,129h1V135h-1zM272,129h1V135h-1zM273,130h1V135h-1zM274,127h1V131h-1zM275,121h1V128h-1zM276,118h1V122h-1zM277,117h1V120h-1zM278,119h1V124h-1zM279,123h1V129h-1zM280,127h1V131h-1zM281,130h1V133h-1zM282,130h1V133h-1zM283,127h1V131h-1zM284,122h1V128h-1zM285,117h1V123h-1zM286,117h1V130h-1zM287,129h1V142h-1zM288,135h1V142h-1zM289,138h1V148h-1zM290,135h1V148h-1zM291,135h1V147h-1zM292,131h1V147h-1zM293,121h1V132h-1zM294,120h1V126h-1zM295,125h1V134h-1zM296,131h1V134h-1zM297,122h1V132h-1zM298,122h1V124h-1zM299,118h1V124h-1zM300,118h1V123h-1zM301,122h1V124h-1zM302,123h1V125h-1zM303,122h1V125h-1zM304,118h1V123h-1zM305,117h1V119h-1zM306,117h1V124h-1zM307,123h1V135h-1zM308,132h1V136h-1zM309,123h1V133h-1zM310,121h1V124h-1zM311,119h1V123h-1z" fill="#ff7070" shape-rendering="crispEdges"/><path d="M12,49h1V43h2V45h1V40h2V42h2V35h1V38h2V33h1V35h1V36h4V39h1V48h3V40h1V39h1V35h2V46h3V42h2V47h1V35h1V39h1V36h1V39h1V40h2V37h1V38h1V36h1V37h1V33h1V35h1V39h1V38h1V46h2V40h1V47h1V44h1V45h1V38h1V41h1V48h2V36h1V16h1V44h1V36h2V39h1V33h1V48h1V37h1V38h1V42h1V38h2V36h3V48h1V49h1V35h1V38h1V41h1V39h1V44h1V35h1V38h1V42h1V43h2V35h1V46h1V35h1V40h1V34h1V35h1V39h1V45h1V35h1V33h1V16h1V38h3V33h1V35h1V34h1V41h1V37h1V34h1V39h1V24h1V34h1V40h1V33h1V38h1V40h1V44h1V46h2V47h1V46h1V44h1V34h2V39h1V33h1V36h1V37h1V39h1V40h1V38h1V41h1V43h2V45h1V24h1V45h1V36h1V46h1V40h1V42h1V39h1V41h1V33h1V37h1V34h1V33h1V39h1V33h1V39h1V44h1V38h1V42h1V47h2V48h1V44h1V45h1V46h1V37h1V47h1V48h1V34h1V36h1V38h1V39h1V45h2V37h1V46h1V41h1V35h1V38h1V42h1V40h1V33h1V37h1V38h1V41h1V33h1V43h1V44h2V46h1V41h1V39h1V37h1V40h1V34h1V45h2V37h1V40h1V39h1V33h2V34h1V39h1V36h1V33h1V38h1V41h1V38h1V41h1V45h1V36h1V37h2V39h1V33h1V40h1V47h1V37h1V38h1V33h1V37h1V20h1V41h2V44h2V33h1V37h1V35h1V37h1V46h2V42h1V45h1V42h1V37h2V39h1V41h1V37h1V45h1V34h1V46h1V47h1V35h1V40h1V42h1V33h1V36h1V38h2V35h1V33h1V34h1V37h1V38h1V40h1V43h1V34h1V35h1V36h1V41h1V37h1V36h1V33h1V34h1V42h2V41h1V16h1V48h2V34h2V44h1V37h1V42h1V38h1V46h1V40h2V46h2V38h1V40h1V46h1V48h1V19h1V35h1V33h1V36h1V40h1V34h1V46h1V37h1V40h1V42h1V33h1V37h1V40h2V41h1V42h1V38h1V34h1V40h2V35h1V37h1V39h1V36h1V89h-1V90h-1V95h-1V97h-1V94h-1V90h-1V92h-1V99h-1V102h-1V103h-2V88h-1V95h-1V99h-1V88h-1V92h-1V96h-1V102h-1V96h-1V90h-1V101h-1V87h-1V88h-2V98h-1V88h-1V89h-1V101h-1V94h-1V91h-2V95h-1V98h-1V97h-1V101h-1V93h-1V91h-1V95h-1V99h-1V96h-1V90h-1V101h-1V96h-3V97h-1V103h-1V92h-1V94h-1V96h-1V99h-1V100h-1V91h-2V96h-1V97h-1V88h-1V89h-1V99h-1V101h-1V102h-1V114h-1V99h-1V101h-1V100h-1V103h-1V96h-1V98h-1V96h-1V99h-1V97h-1V101h-1V89h-1V97h-1V101h-1V100h-1V89h-1V98h-1V92h-1V99h-1V103h-1V97h-1V98h-2V95h-1V97h-1V96h-1V102h-1V90h-1V92h-1V94h-1V95h-1V89h-1V101h-1V100h-2V96h-1V103h-1V89h-1V91h-1V92h-1V91h-1V95h-1V97h-1V95h-1V90h-1V92h-1V96h-1V101h-1V102h-1V95h-1V97h-1V94h-1V101h-2V98h-1V99h-1V100h-1V101h-1V88h-1V90h-1V91h-1V95h-1V114h-1V102h-1V90h-1V96h-1V98h-1V95h-1V99h-1V100h-1V90h-1V91h-1V92h-1V100h-2V90h-1V101h-1V102h-1V86h-1V94h-1V100h-1V96h-1V102h-1V94h-1V100h-1V92h-1V91h-1V94h-2V130h-1V86h-1V102h-1V100h-1V89h-1V91h-1V93h-1V86h-2V94h-1V91h-1V93h-1V94h-1V96h-1V103h-1V89h-1V99h-1V98h-1V103h-1V100h-1V95h-1V102h-1V93h-2V98h-1V94h-1V96h-1V97h-2V102h-2V94h-1V103h-1V88h-1V98h-1V90h-1V101h-1V91h-2V94h-1V97h-1V98h-1V104h-1V98h-2V99h-1V91h-1V93h-1V95h-1V98h-1V97h-1V101h-1V98h-1V96h-1V90h-1V96h-1V93h-1V99h-1V118h-1V103h-1V94h-1V115h-1V100h-1V101h-1V99h-1V100h-1V97h-2V103h-1V93h-1V99h-1V97h-1V86h-1V92h-1V93h-1V90h-1V95h-1V96h-1V100h-1V102h-1V88h-1V89h-2V96h-1V103h-1V93h-1V95h-1V98h-1V99h-1V100h-1V97h-1V93h-1V98h-1V101h-1V92h-1V96h-1V98h-1V97h-1V103h-1V109h-1V100h-1V103h-1V87h-1V103h-1V93h-2V90h-1V93h-1V99h-1V87h-1V93h-1V102h-1V95h-1V101h-1V89h-1V91h-1V97h-1V93h-1V95h-1V94h-1V96h-1V90h-1V98h-1V95h-1V91h-2V88h-1V103h-1V100h-1V97h-1V103h-1V93h-1V90h-1V101h-1V99h-1V91h-1V90h-1V91h-1V92h-1V94h-1V97h-1V102h-1V100h-1V93h-1V96h-1V140h-1V94h-1V101h-1V90h-1V86h-1Z" fill="#7272ff" shape-rendering="crispEdges"/><use href="#over"/><text x="17.6" y="212" fill="#0000ff" font-size="11" font-family="'Liberation Mono', monospace" textLength="71" lengthAdjust="spacingAndGlyphs" stroke="#0000ff" stroke-width="0.12">Freq(1)=*****</text><use href="#ch1nor"/><text x="32.5" y="229.2" fill="#0000ff" font-size="11" font-family="'Liberation Mono', monospace" textLength="36.5" lengthAdjust="spacingAndGlyphs" stroke="#0000ff" stroke-width="0.12">20.0mV</text><use href="#ch2inv"/><text x="118.5" y="229.2" fill="#ff0000" font-size="11" font-family="'Liberation Mono', monospace" textLength="36.5" lengthAdjust="spacingAndGlyphs" stroke="#ff0000" stroke-width="0.12">20.0mV</text><use href="#bicon" x="86" color="#ff0000"/></svg><svg x="649" y="241" width="320" height="234" viewBox="0 0 320 234"><use href="#base"/><use href="#bicon" color="#0000ff"/><path d="M12,119h1V121h-1zM13,119h1V121h-1zM14,119h1V121h-1zM15,118h1V121h-1zM16,117h1V120h-1zM17,116h1V119h-1zM18,117h1V119h-1zM19,117h1V120h-1zM20,118h1V120h-1zM21,117h1V120h-1zM22,116h1V119h-1zM23,116h1V119h-1zM24,117h1V119h-1zM25,117h1V119h-1zM26,116h1V119h-1zM27,116h1V119h-1zM28,117h1V120h-1zM29,118h1V121h-1zM30,119h1V121h-1zM31,118h1V121h-1zM32,118h1V120h-1zM33,118h1V120h-1zM34,117h1V120h-1zM35,117h1V120h-1zM36,118h1V120h-1zM37,118h1V121h-1zM38,118h1V121h-1zM39,118h1V121h-1zM40,118h1V120h-1zM41,117h1V120h-1zM42,117h1V119h-1zM43,117h1V119h-1zM44,117h1V119h-1zM45,117h1V120h-1zM46,118h1V120h-1zM47,118h1V120h-1zM48,118h1V120h-1zM49,117h1V120h-1zM50,117h1V119h-1zM51,117h1V119h-1zM52,116h1V119h-1zM53,116h1V118h-1zM54,116h1V118h-1zM55,116h1V118h-1zM56,116h1V119h-1zM57,117h1V119h-1zM58,117h1V120h-1zM59,118h1V120h-1zM60,118h1V120h-1zM61,118h1V120h-1zM62,118h1V120h-1zM63,118h1V121h-1zM64,119h1V122h-1zM65,120h1V122h-1zM66,120h1V123h-1zM67,121h1V123h-1zM68,121h1V123h-1zM69,121h1V123h-1zM70,120h1V123h-1zM71,119h1V122h-1zM72,119h1V121h-1zM73,118h1V121h-1zM74,118h1V120h-1zM75,118h1V120h-1zM76,117h1V120h-1zM77,116h1V119h-1zM78,116h1V118h-1zM79,116h1V119h-1zM80,117h1V119h-1zM81,117h1V120h-1zM82,117h1V120h-1zM83,117h1V119h-1zM84,117h1V119h-1zM85,117h1V119h-1zM86,116h1V119h-1zM87,116h1V118h-1zM88,116h1V118h-1zM89,116h1V118h-1zM90,116h1V118h-1zM91,116h1V119h-1zM92,116h1V119h-1zM93,116h1V118h-1zM94,116h1V118h-1zM95,116h1V118h-1zM96,116h1V119h-1zM97,116h1V119h-1zM98,116h1V118h-1zM99,116h1V118h-1zM100,116h1V119h-1zM101,117h1V119h-1zM102,116h1V119h-1zM103,116h1V119h-1zM104,117h1V120h-1zM105,118h1V121h-1zM106,119h1V121h-1zM107,119h1V121h-1zM108,119h1V121h-1zM109,119h1V121h-1zM110,118h1V121h-1zM111,118h1V120h-1zM112,117h1V120h-1zM113,116h1V119h-1zM114,116h1V118h-1zM115,116h1V119h-1zM116,117h1V119h-1zM117,117h1V120h-1zM118,117h1V120h-1zM119,117h1V119h-1zM120,116h1V119h-1zM121,116h1V118h-1zM122,116h1V119h-1zM123,117h1V119h-1zM124,116h1V119h-1zM125,116h1V118h-1zM126,116h1V118h-1zM127,116h1V119h-1zM128,117h1V119h-1zM129,116h1V119h-1zM130,116h1V118h-1zM131,116h1V119h-1zM132,117h1V119h-1zM133,117h1V119h-1zM134,117h1V119h-1zM135,116h1V119h-1zM136,116h1V119h-1zM137,117h1V119h-1zM138,117h1V119h-1zM139,116h1V119h-1zM140,116h1V118h-1zM141,116h1V119h-1zM142,117h1V120h-1zM143,118h1V120h-1zM144,118h1V120h-1zM145,118h1V121h-1zM146,118h1V121h-1zM147,118h1V120h-1zM148,118h1V120h-1zM149,118h1V120h-1zM150,118h1V120h-1zM151,117h1V120h-1zM152,117h1V119h-1zM153,116h1V119h-1zM154,116h1V118h-1zM155,116h1V118h-1zM156,116h1V118h-1zM157,116h1V118h-1zM158,116h1V119h-1zM159,117h1V119h-1zM160,117h1V119h-1zM161,116h1V119h-1zM162,116h1V118h-1zM163,116h1V118h-1zM164,116h1V118h-1zM165,116h1V119h-1zM166,117h1V119h-1zM167,117h1V120h-1zM168,118h1V120h-1zM169,117h1V120h-1zM170,116h1V119h-1zM171,116h1V119h-1zM172,117h1V119h-1zM173,116h1V119h-1zM174,116h1V118h-1zM175,116h1V119h-1zM176,117h1V120h-1zM177,117h1V119h-1zM178,116h1V119h-1zM179,116h1V119h-1zM180,117h1V120h-1zM181,118h1V120h-1zM182,118h1V120h-1zM183,118h1V120h-1zM184,117h1V120h-1zM185,117h1V119h-1zM186,117h1V119h-1zM187,117h1V119h-1zM188,116h1V119h-1zM189,116h1V119h-1zM190,117h1V119h-1zM191,117h1V119h-1zM192,117h1V119h-1zM193,117h1V120h-1zM194,117h1V120h-1zM195,116h1V119h-1zM196,116h1V119h-1zM197,117h1V119h-1zM198,117h1V120h-1zM199,118h1V120h-1zM200,117h1V120h-1zM201,117h1V119h-1zM202,116h1V119h-1zM203,116h1V119h-1zM204,117h1V119h-1zM205,117h1V119h-1zM206,117h1V119h-1zM207,116h1V119h-1zM208,116h1V119h-1zM209,117h1V119h-1zM210,117h1V120h-1zM211,118h1V121h-1zM212,119h1V121h-1zM213,119h1V121h-1zM214,118h1V121h-1zM215,117h1V120h-1zM216,116h1V119h-1zM217,116h1V119h-1zM218,117h1V119h-1zM219,117h1V119h-1zM220,117h1V119h-1zM221,116h1V119h-1zM222,116h1V118h-1zM223,116h1V118h-1zM224,116h1V119h-1zM225,117h1V120h-1zM226,118h1V120h-1zM227,118h1V120h-1zM228,118h1V120h-1zM229,117h1V120h-1zM230,116h1V119h-1zM231,116h1V118h-1zM232,116h1V118h-1zM233,116h1V118h-1zM234,116h1V118h-1zM235,116h1V118h-1zM236,116h1V118h-1zM237,116h1V118h-1zM238,116h1V119h-1zM239,117h1V121h-1zM240,119h1V122h-1zM241,120h1V122h-1zM242,119h1V122h-1zM243,118h1V121h-1zM244,117h1V120h-1zM245,116h1V119h-1zM246,116h1V118h-1zM247,116h1V118h-1zM248,116h1V118h-1zM249,116h1V118h-1zM250,116h1V119h-1zM251,117h1V119h-1zM252,116h1V119h-1zM253,116h1V118h-1zM254,116h1V118h-1zM255,116h1V118h-1zM256,116h1V119h-1zM257,117h1V119h-1zM258,117h1V120h-1zM259,118h1V120h-1zM260,118h1V120h-1zM261,118h1V120h-1zM262,118h1V121h-1zM263,119h1V121h-1zM264,118h1V121h-1zM265,118h1V120h-1zM266,118h1V120h-1zM267,117h1V120h-1zM268,117h1V119h-1zM269,116h1V119h-1zM270,116h1V118h-1zM271,116h1V119h-1zM272,117h1V119h-1zM273,117h1V120h-1zM274,117h1V119h-1zM275,116h1V119h-1zM276,116h1V120h-1zM277,118h1V121h-1zM278,118h1V121h-1zM279,118h1V120h-1zM280,117h1V120h-1zM281,116h1V119h-1zM282,116h1V119h-1zM283,117h1V119h-1zM284,116h1V119h-1zM285,116h1V118h-1zM286,116h1V119h-1zM287,117h1V119h-1zM288,117h1V119h-1zM289,117h1V119h-1zM290,117h1V119h-1zM291,116h1V119h-1zM292,116h1V118h-1zM293,116h1V118h-1zM294,116h1V118h-1zM295,116h1V118h-1zM296,116h1V118h-1zM297,116h1V118h-1zM298,116h1V119h-1zM299,117h1V119h-1zM300,117h1V120h-1zM301,118h1V120h-1zM302,118h1V120h-1zM303,118h1V120h-1zM304,117h1V120h-1zM305,117h1V119h-1zM306,117h1V119h-1zM307,117h1V119h-1zM308,117h1V119h-1zM309,116h1V119h-1zM310,116h1V119h-1zM311,117h1V119h-1z" fill="#ff7070" shape-rendering="crispEdges"/><path d="M12,34h1V37h1V33h1V36h1V34h1V33h1V37h1V35h1V38h1V37h1V32h1V35h1V36h1V38h1V40h1V41h1V34h1V38h1V36h1V37h1V32h1V44h1V36h1V39h1V40h1V33h1V34h2V36h1V30h1V31h1V34h1V36h1V38h1V36h1V38h1V36h1V35h2V36h1V37h1V30h1V34h2V31h1V38h1V41h1V37h1V32h1V37h1V29h1V34h1V29h1V35h2V37h1V32h1V35h1V34h1V40h1V37h1V43h1V29h1V35h1V42h1V43h2V31h1V29h1V32h2V33h1V32h1V44h2V37h2V39h1V31h1V32h1V36h1V44h1V35h1V31h1V36h1V35h1V38h1V40h1V36h1V37h1V34h1V29h1V33h1V35h1V33h2V35h1V38h1V34h1V40h1V34h1V35h1V42h1V30h1V41h1V38h1V37h1V38h1V42h1V36h2V39h1V41h1V29h1V41h1V39h1V42h1V30h1V34h1V27h1V34h1V44h1V36h1V32h1V30h1V38h1V39h1V34h1V43h1V39h2V29h1V35h1V32h1V33h1V39h1V41h2V42h2V39h1V36h1V32h1V38h1V29h1V38h1V33h1V43h1V31h1V33h1V29h1V33h1V39h1V40h1V31h1V39h1V30h1V31h1V34h1V37h1V31h1V41h2V34h1V36h1V42h1V43h1V37h1V39h1V33h1V32h1V40h1V41h2V42h1V35h1V37h1V36h1V39h1V33h1V37h2V35h1V44h3V33h1V34h1V37h1V36h1V38h1V36h1V33h2V34h1V36h1V34h1V37h1V35h1V38h1V40h1V38h1V30h1V39h1V40h1V33h1V40h1V41h1V35h1V43h1V30h1V31h1V34h1V42h1V30h1V37h1V36h1V43h1V35h1V31h1V35h1V31h1V30h1V36h2V37h1V33h1V37h1V30h1V31h1V37h1V38h1V39h1V38h1V40h1V33h1V39h1V34h1V41h1V42h1V41h1V42h1V31h1V30h1V31h1V41h1V35h1V33h1V31h1V32h1V34h1V35h1V30h1V36h1V33h1V31h1V34h1V37h1V34h1V44h1V42h2V29h1V44h1V30h1V34h1V32h1V35h1V29h2V35h1V38h1V40h1V30h1V29h1V34h1V31h1V38h1V36h1V29h1V31h1V33h1V42h1V38h1V32h1V41h1V38h1V36h1V38h1V41h2V29h1V34h1V37h1V39h1V40h2V33h1V32h1V35h1V82h-1V77h-1V71h-1V72h-1V73h-2V74h-1V75h-1V84h-1V78h-1V79h-1V85h-1V76h-1V77h-1V84h-1V86h-1V85h-1V80h-1V86h-1V83h-2V84h-1V79h-1V87h-1V85h-1V86h-1V85h-1V83h-1V84h-1V82h-1V87h-1V83h-1V79h-1V84h-1V80h-1V81h-1V72h-1V78h-1V80h-1V72h-2V73h-1V74h-1V75h-1V77h-1V79h-1V81h-1V76h-1V87h-1V77h-2V79h-1V81h-1V79h-1V73h-1V75h-1V81h-1V82h-1V74h-1V83h-1V86h-1V83h-1V73h-2V79h-1V78h-1V80h-1V83h-2V86h-1V81h-1V72h-1V73h-1V84h-1V87h-1V81h-1V85h-1V79h-1V87h-1V74h-2V77h-1V79h-1V84h-1V80h-1V77h-1V82h-1V75h-1V76h-2V78h-1V82h-1V87h-1V80h-1V86h-1V82h-1V100h-1V82h-1V74h-1V82h-1V83h-1V87h-1V85h-1V74h-1V85h-1V79h-1V74h-1V75h-1V77h-1V80h-1V75h-1V74h-2V77h-1V84h-1V87h-1V73h-1V78h-1V80h-1V83h-1V80h-1V90h-1V83h-1V73h-1V74h-1V75h-1V83h-1V85h-1V82h-1V81h-1V85h-1V82h-1V81h-2V74h-1V78h-1V82h-1V84h-1V73h-1V74h-1V84h-1V87h-2V76h-1V77h-1V78h-1V81h-1V76h-1V82h-2V78h-1V87h-2V73h-1V83h-1V73h-1V72h-1V73h-1V76h-1V77h-1V86h-1V76h-1V80h-1V83h-1V86h-1V73h-1V82h-1V73h-2V74h-1V80h-1V82h-1V78h-2V87h-1V83h-1V86h-2V82h-1V72h-1V85h-1V77h-1V78h-1V79h-1V87h-1V74h-1V77h-1V83h-1V84h-1V86h-1V78h-1V75h-1V80h-1V86h-1V74h-1V82h-1V78h-1V82h-1V74h-1V101h-1V86h-1V84h-1V81h-1V84h-2V79h-1V81h-1V83h-1V86h-1V75h-1V74h-1V75h-1V84h-1V75h-1V76h-1V73h-1V78h-2V75h-1V78h-2V85h-2V79h-1V81h-1V80h-1V86h-1V79h-1V83h-1V72h-1V83h-1V90h-1V85h-2V82h-1V84h-1V82h-1V81h-1V84h-1V75h-1V87h-1V77h-1V78h-1V82h-1V87h-1V75h-2V82h-1V81h-1V73h-1V86h-1V87h-1V84h-1V86h-1V82h-1V76h-1V79h-1V72h-2V73h-2V74h-1V76h-1V87h-1V74h-1V75h-2V76h-1V78h-1V77h-1V84h-1V80h-2V81h-1V82h-1V79h-1V84h-1V87h-1V84h-1V85h-1V81h-1V79h-1V80h-1V84h-1V85h-1V80h-1V82h-1V81h-1V82h-1V81h-1V79h-1V85h-1V75h-1V78h-1V83h-1V78h-1V81h-1V80h-1V87h-1V76h-1Z" fill="#7272ff" shape-rendering="crispEdges"/><use href="#over"/><text x="17.6" y="212" fill="#0000ff" font-size="11" font-family="'Liberation Mono', monospace" textLength="83" lengthAdjust="spacingAndGlyphs" stroke="#0000ff" stroke-width="0.12">Freq(1)=3.846Hz</text><use href="#ch1inv"/><text x="32.5" y="229.2" fill="#0000ff" font-size="11" font-family="'Liberation Mono', monospace" textLength="36.5" lengthAdjust="spacingAndGlyphs" stroke="#0000ff" stroke-width="0.12">5.00mV</text><use href="#ch2nor"/><text x="118.5" y="229.2" fill="#ff0000" font-size="11" font-family="'Liberation Mono', monospace" textLength="36.5" lengthAdjust="spacingAndGlyphs" stroke="#ff0000" stroke-width="0.12">20.0mV</text><use href="#bicon" x="86" color="#ff0000"/></svg><svg x="971" y="239" width="320" height="234" viewBox="0 0 320 234"><use href="#base"/><use href="#bicon" color="#0000ff"/><path d="M12,122h1V124h-1zM13,121h1V124h-1zM14,121h1V124h-1zM15,122h1V124h-1zM16,122h1V125h-1zM17,123h1V126h-1zM18,121h1V126h-1zM19,119h1V123h-1zM20,117h1V121h-1zM21,117h1V122h-1zM22,120h1V124h-1zM23,122h1V126h-1zM24,123h1V126h-1zM25,122h1V125h-1zM26,120h1V124h-1zM27,118h1V122h-1zM28,117h1V120h-1zM29,118h1V120h-1zM30,118h1V120h-1zM31,117h1V120h-1zM32,117h1V119h-1zM33,117h1V120h-1zM34,117h1V120h-1zM35,117h1V120h-1zM36,116h1V119h-1zM37,117h1V119h-1zM38,117h1V120h-1zM39,118h1V120h-1zM40,118h1V120h-1zM41,118h1V121h-1zM42,118h1V121h-1zM43,116h1V120h-1zM44,116h1V120h-1zM45,118h1V121h-1zM46,118h1V121h-1zM47,116h1V120h-1zM48,117h1V121h-1zM49,119h1V122h-1zM50,120h1V122h-1zM51,119h1V122h-1zM52,119h1V121h-1zM53,119h1V121h-1zM54,119h1V122h-1zM55,120h1V123h-1zM56,121h1V123h-1zM57,121h1V123h-1zM58,121h1V123h-1zM59,120h1V123h-1zM60,119h1V122h-1zM61,119h1V121h-1zM62,118h1V121h-1zM63,117h1V120h-1zM64,117h1V120h-1zM65,116h1V119h-1zM66,116h1V119h-1zM67,117h1V119h-1zM68,116h1V119h-1zM69,117h1V120h-1zM70,118h1V120h-1zM71,117h1V120h-1zM72,116h1V119h-1zM73,117h1V119h-1zM74,117h1V120h-1zM75,116h1V120h-1zM76,116h1V120h-1zM77,118h1V122h-1zM78,120h1V123h-1zM79,121h1V124h-1zM80,121h1V123h-1zM81,121h1V123h-1zM82,121h1V123h-1zM83,121h1V124h-1zM84,122h1V124h-1zM85,122h1V125h-1zM86,119h1V124h-1zM87,116h1V121h-1zM88,116h1V120h-1zM89,118h1V120h-1zM90,117h1V120h-1zM91,117h1V119h-1zM92,116h1V119h-1zM93,116h1V119h-1zM94,117h1V121h-1zM95,119h1V122h-1zM96,119h1V122h-1zM97,117h1V121h-1zM98,116h1V119h-1zM99,116h1V119h-1zM100,117h1V122h-1zM101,120h1V122h-1zM102,119h1V122h-1zM103,117h1V121h-1zM104,117h1V120h-1zM105,118h1V122h-1zM106,119h1V122h-1zM107,119h1V122h-1zM108,119h1V121h-1zM109,118h1V121h-1zM110,118h1V120h-1zM111,117h1V120h-1zM112,116h1V119h-1zM113,117h1V119h-1zM114,117h1V121h-1zM115,119h1V121h-1zM116,118h1V121h-1zM117,117h1V120h-1zM118,116h1V119h-1zM119,117h1V121h-1zM120,119h1V122h-1zM121,119h1V122h-1zM122,118h1V121h-1zM123,118h1V120h-1zM124,116h1V120h-1zM125,116h1V118h-1zM126,116h1V119h-1zM127,117h1V119h-1zM128,117h1V119h-1zM129,117h1V119h-1zM130,117h1V120h-1zM131,118h1V120h-1zM132,118h1V121h-1zM133,117h1V120h-1zM134,117h1V119h-1zM135,117h1V121h-1zM136,119h1V122h-1zM137,120h1V123h-1zM138,121h1V123h-1zM139,121h1V123h-1zM140,119h1V123h-1zM141,117h1V121h-1zM142,116h1V119h-1zM143,117h1V120h-1zM144,118h1V121h-1zM145,119h1V122h-1zM146,120h1V122h-1zM147,120h1V122h-1zM148,120h1V122h-1zM149,119h1V122h-1zM150,118h1V121h-1zM151,116h1V120h-1zM152,116h1V121h-1zM153,119h1V122h-1zM154,120h1V123h-1zM155,119h1V122h-1zM156,119h1V122h-1zM157,120h1V122h-1zM158,120h1V123h-1zM159,121h1V123h-1zM160,119h1V123h-1zM161,118h1V121h-1zM162,118h1V121h-1zM163,119h1V121h-1zM164,118h1V121h-1zM165,116h1V120h-1zM166,116h1V119h-1zM167,116h1V119h-1zM168,117h1V122h-1zM169,120h1V124h-1zM170,122h1V125h-1zM171,121h1V125h-1zM172,118h1V123h-1zM173,117h1V120h-1zM174,117h1V121h-1zM175,118h1V121h-1zM176,117h1V120h-1zM177,117h1V123h-1zM178,121h1V126h-1zM179,124h1V127h-1zM180,125h1V127h-1zM181,122h1V127h-1zM182,120h1V124h-1zM183,116h1V122h-1zM184,116h1V121h-1zM185,119h1V122h-1zM186,119h1V122h-1zM187,117h1V121h-1zM188,117h1V121h-1zM189,119h1V123h-1zM190,120h1V123h-1zM191,117h1V122h-1zM192,117h1V122h-1zM193,120h1V125h-1zM194,123h1V125h-1zM195,122h1V125h-1zM196,119h1V124h-1zM197,117h1V121h-1zM198,116h1V119h-1zM199,117h1V120h-1zM200,118h1V122h-1zM201,120h1V123h-1zM202,121h1V124h-1zM203,122h1V124h-1zM204,119h1V124h-1zM205,118h1V121h-1zM206,118h1V121h-1zM207,119h1V122h-1zM208,120h1V123h-1zM209,121h1V123h-1zM210,120h1V123h-1zM211,119h1V122h-1zM212,118h1V121h-1zM213,117h1V120h-1zM214,117h1V119h-1zM215,117h1V120h-1zM216,118h1V121h-1zM217,119h1V123h-1zM218,120h1V123h-1zM219,120h1V122h-1zM220,119h1V122h-1zM221,118h1V121h-1zM222,119h1V121h-1zM223,119h1V121h-1zM224,119h1V122h-1zM225,120h1V123h-1zM226,121h1V125h-1zM227,122h1V125h-1zM228,121h1V124h-1zM229,119h1V123h-1zM230,119h1V121h-1zM231,119h1V121h-1zM232,119h1V122h-1zM233,120h1V122h-1zM234,119h1V122h-1zM235,119h1V121h-1zM236,119h1V121h-1zM237,119h1V121h-1zM238,119h1V122h-1zM239,120h1V123h-1zM240,121h1V125h-1zM241,123h1V126h-1zM242,122h1V126h-1zM243,117h1V124h-1zM244,116h1V119h-1zM245,116h1V119h-1zM246,116h1V120h-1zM247,118h1V120h-1zM248,116h1V120h-1zM249,118h1V123h-1zM250,121h1V125h-1zM251,120h1V125h-1zM252,117h1V122h-1zM253,117h1V121h-1zM254,119h1V123h-1zM255,120h1V123h-1zM256,119h1V122h-1zM257,119h1V121h-1zM258,118h1V121h-1zM259,118h1V120h-1zM260,116h1V120h-1zM261,116h1V118h-1zM262,116h1V119h-1zM263,116h1V121h-1zM264,119h1V122h-1zM265,120h1V123h-1zM266,121h1V124h-1zM267,122h1V124h-1zM268,122h1V124h-1zM269,121h1V124h-1zM270,120h1V123h-1zM271,119h1V122h-1zM272,119h1V121h-1zM273,119h1V122h-1zM274,120h1V122h-1zM275,120h1V122h-1zM276,119h1V122h-1zM277,119h1V121h-1zM278,118h1V121h-1zM279,117h1V120h-1zM280,116h1V119h-1zM281,117h1V120h-1zM282,118h1V122h-1zM283,120h1V122h-1zM284,120h1V122h-1zM285,120h1V122h-1zM286,118h1V122h-1zM287,117h1V120h-1zM288,117h1V119h-1zM289,117h1V120h-1zM290,118h1V121h-1zM291,118h1V121h-1zM292,118h1V121h-1zM293,117h1V120h-1zM294,116h1V119h-1zM295,117h1V119h-1zM296,117h1V119h-1zM297,116h1V119h-1zM298,116h1V119h-1zM299,117h1V120h-1zM300,116h1V120h-1zM301,116h1V119h-1zM302,117h1V121h-1zM303,119h1V122h-1zM304,120h1V122h-1zM305,118h1V122h-1zM306,116h1V120h-1zM307,117h1V122h-1zM308,120h1V123h-1zM309,121h1V123h-1zM310,120h1V123h-1zM311,119h1V122h-1z" fill="#ff7070" shape-rendering="crispEdges"/><path d="M12,58h1V51h1V53h1V51h1V49h1V55h1V56h1V53h1V56h1V53h1V54h1V50h1V52h1V53h1V56h2V57h1V50h1V54h1V50h1V49h1V53h1V54h1V53h1V57h1V48h1V56h2V48h1V52h1V49h1V57h2V49h1V51h1V48h1V51h2V57h4V52h1V50h1V52h1V51h1V50h1V57h1V49h2V54h1V55h3V52h2V54h1V55h1V52h2V49h2V52h1V55h1V48h1V51h1V52h1V48h2V50h1V55h1V49h1V57h1V58h3V51h1V49h1V51h1V50h1V55h1V56h1V51h1V49h1V51h1V54h1V49h1V51h1V54h1V57h1V49h1V50h1V53h1V48h1V50h1V57h1V52h1V53h1V51h1V49h1V50h1V54h1V55h1V49h1V56h1V54h1V55h1V51h1V57h1V54h1V51h1V52h3V51h2V53h1V49h2V50h1V55h1V49h2V50h1V49h1V55h1V52h2V54h1V49h1V53h3V48h1V52h1V54h1V49h1V52h2V57h1V48h1V53h1V49h1V52h1V54h1V55h1V54h1V56h1V54h1V53h1V56h2V49h1V51h1V52h1V54h1V51h2V52h1V55h1V50h1V55h1V50h1V51h2V52h2V54h1V55h1V48h1V55h1V53h1V49h1V51h1V50h2V54h1V49h1V57h1V52h1V53h2V49h1V51h1V55h2V56h1V48h1V50h1V52h1V56h1V52h1V53h1V55h1V56h1V49h1V52h1V57h1V52h1V49h1V51h1V50h1V57h1V49h1V56h1V55h1V51h3V54h2V48h1V50h1V56h1V53h1V49h1V57h2V55h1V57h2V49h1V52h1V53h1V52h1V53h2V54h1V56h1V49h1V55h1V49h2V51h1V54h1V49h2V54h1V49h1V50h1V51h1V56h1V52h1V50h2V58h1V55h1V49h1V55h1V51h1V57h2V48h1V55h1V56h2V57h1V50h2V54h1V52h1V53h1V50h1V53h1V55h1V56h1V57h2V53h2V52h1V49h1V50h1V52h1V55h1V48h1V51h1V55h1V57h3V49h1V52h1V49h1V55h1V48h1V54h1V49h1V52h1V53h2V50h1V58h1V53h2V54h1V50h1V52h1V51h1V53h1V79h-1V81h-2V82h-3V79h-1V80h-1V82h-1V79h-1V81h-1V82h-1V81h-1V79h-1V81h-1V78h-1V79h-1V83h-1V80h-1V76h-1V77h-1V81h-2V80h-3V81h-1V75h-1V80h-1V78h-2V79h-1V82h-1V76h-1V77h-1V78h-1V76h-1V80h-2V78h-1V81h-1V79h-1V76h-1V82h-1V79h-1V78h-1V79h-1V80h-1V81h-1V82h-2V80h-1V81h-1V80h-1V77h-1V80h-1V81h-1V78h-1V81h-1V80h-2V75h-2V79h-1V81h-2V77h-1V82h-3V75h-1V80h-1V81h-1V79h-2V80h-1V82h-1V80h-1V79h-1V80h-1V79h-1V82h-2V80h-1V81h-1V80h-1V83h-1V81h-1V79h-1V82h-1V81h-2V78h-2V76h-1V77h-1V79h-1V78h-2V80h-2V83h-1V82h-1V81h-1V79h-1V82h-1V79h-1V80h-1V81h-1V77h-1V76h-1V77h-1V78h-1V77h-1V80h-3V75h-1V82h-1V78h-1V80h-1V78h-2V79h-1V81h-1V76h-2V79h-1V75h-1V82h-2V75h-2V77h-1V78h-1V80h-2V78h-1V75h-1V80h-1V78h-1V80h-1V81h-1V79h-1V77h-1V81h-1V82h-1V75h-1V77h-2V79h-2V81h-1V79h-1V82h-1V81h-1V79h-1V80h-2V76h-1V78h-1V77h-1V81h-1V80h-1V78h-2V76h-1V82h-1V80h-2V77h-1V79h-2V77h-1V76h-1V80h-1V81h-1V80h-1V82h-1V80h-1V83h-1V81h-1V76h-1V81h-1V80h-1V75h-1V76h-1V82h-3V80h-1V82h-1V80h-1V78h-2V79h-1V81h-1V76h-2V77h-1V78h-2V80h-1V75h-2V80h-1V77h-1V81h-1V80h-1V82h-2V79h-1V78h-1V81h-1V83h-1V76h-2V79h-1V81h-1V78h-1V77h-1V79h-1V80h-2V82h-1V81h-1V78h-1V79h-2V78h-2V79h-1V78h-1V80h-1V75h-1V80h-1V82h-1V80h-1V81h-2V78h-1V77h-1V78h-1V79h-1V80h-1V79h-1V80h-1V81h-1V75h-1V77h-2V82h-1V79h-3V78h-1V79h-1V82h-1V83h-1V78h-1V82h-1V76h-1V80h-1V77h-1V79h-1V80h-1V82h-1V80h-2V81h-1V78h-1V82h-1V75h-1V77h-1V81h-1V82h-1V80h-1V78h-1V81h-1V76h-1V83h-1V77h-2V78h-1V80h-1V81h-1V78h-1V76h-1V80h-1V82h-1V81h-1V79h-1V80h-1V81h-2V78h-3V80h-1V79h-1Z" fill="#7272ff" shape-rendering="crispEdges"/><use href="#over"/><text x="17.6" y="212" fill="#0000ff" font-size="11" font-family="'Liberation Mono', monospace" textLength="83" lengthAdjust="spacingAndGlyphs" stroke="#0000ff" stroke-width="0.12">Freq(1)=3.846Hz</text><use href="#ch1inv"/><text x="32.5" y="229.2" fill="#0000ff" font-size="11" font-family="'Liberation Mono', monospace" textLength="36.5" lengthAdjust="spacingAndGlyphs" stroke="#0000ff" stroke-width="0.12">10.0mV</text><use href="#ch2nor"/><text x="118.5" y="229.2" fill="#ff0000" font-size="11" font-family="'Liberation Mono', monospace" textLength="36.5" lengthAdjust="spacingAndGlyphs" stroke="#ff0000" stroke-width="0.12">20.0mV</text><use href="#bicon" x="86" color="#ff0000"/></svg><svg x="1" y="474" width="320" height="234" viewBox="0 0 320 234"><use href="#base"/><use href="#bicon" color="#0000ff"/><path d="M12,117h1V126h-1zM13,125h1V137h-1zM14,136h1V150h-1zM15,149h1V156h-1zM16,142h1V158h-1zM17,136h1V143h-1zM18,136h1V169h-1zM19,154h1V169h-1zM20,152h1V156h-1zM21,146h1V156h-1zM22,138h1V147h-1zM23,138h1V144h-1zM24,142h1V149h-1zM25,137h1V143h-1zM26,135h1V138h-1zM27,135h1V139h-1zM28,138h1V143h-1zM29,138h1V145h-1zM30,144h1V156h-1zM31,141h1V154h-1zM32,133h1V142h-1zM33,127h1V134h-1zM34,125h1V130h-1zM35,120h1V126h-1zM36,120h1V130h-1zM37,129h1V139h-1zM38,138h1V141h-1zM39,140h1V141h-1zM40,140h1V151h-1zM41,150h1V162h-1zM42,161h1V168h-1zM43,148h1V164h-1zM44,139h1V149h-1zM45,131h1V140h-1zM46,128h1V134h-1zM47,133h1V140h-1zM48,132h1V140h-1zM49,122h1V133h-1zM50,116h1V123h-1zM51,116h1V120h-1zM52,119h1V125h-1zM53,123h1V130h-1zM54,129h1V136h-1zM55,132h1V145h-1zM56,144h1V165h-1zM57,145h1V165h-1zM58,142h1V146h-1zM59,139h1V146h-1zM60,126h1V140h-1zM61,119h1V127h-1zM62,119h1V128h-1zM63,127h1V141h-1zM64,135h1V141h-1zM65,131h1V136h-1zM66,129h1V136h-1zM67,118h1V130h-1zM68,118h1V140h-1zM69,139h1V156h-1zM70,147h1V156h-1zM71,146h1V158h-1zM72,119h1V147h-1zM73,119h1V141h-1zM74,140h1V154h-1zM75,147h1V154h-1zM76,152h1V169h-1zM77,159h1V169h-1zM78,155h1V166h-1zM79,153h1V166h-1zM80,151h1V156h-1zM81,149h1V153h-1zM82,135h1V153h-1zM83,128h1V136h-1zM84,120h1V129h-1zM85,120h1V123h-1zM86,121h1V123h-1zM87,121h1V127h-1zM88,126h1V131h-1zM89,130h1V133h-1zM90,127h1V133h-1zM91,126h1V129h-1zM92,128h1V133h-1zM93,130h1V132h-1zM94,128h1V132h-1zM95,123h1V129h-1zM96,119h1V124h-1zM97,118h1V120h-1zM98,117h1V121h-1zM99,120h1V131h-1zM100,130h1V139h-1zM101,135h1V139h-1zM102,135h1V146h-1zM103,145h1V169h-1zM104,151h1V169h-1zM105,145h1V152h-1zM106,136h1V146h-1zM107,127h1V137h-1zM108,120h1V128h-1zM109,119h1V121h-1zM110,120h1V123h-1zM111,122h1V124h-1zM112,123h1V129h-1zM113,126h1V129h-1zM114,127h1V134h-1zM115,130h1V134h-1zM116,130h1V132h-1zM117,123h1V131h-1zM118,122h1V124h-1zM119,119h1V123h-1zM120,117h1V120h-1zM121,117h1V119h-1zM122,118h1V122h-1zM123,120h1V122h-1zM124,121h1V125h-1zM125,124h1V136h-1zM126,135h1V143h-1zM127,142h1V151h-1zM128,133h1V151h-1zM129,130h1V137h-1zM130,131h1V137h-1zM131,127h1V132h-1zM132,129h1V132h-1zM133,124h1V130h-1zM134,122h1V125h-1zM135,120h1V123h-1zM136,121h1V129h-1zM137,128h1V134h-1zM138,131h1V138h-1zM139,128h1V138h-1zM140,121h1V129h-1zM141,119h1V125h-1zM142,124h1V132h-1zM143,129h1V132h-1zM144,122h1V132h-1zM145,117h1V123h-1zM146,117h1V120h-1zM147,119h1V123h-1zM148,122h1V126h-1zM149,125h1V133h-1zM150,132h1V135h-1zM151,130h1V133h-1zM152,130h1V133h-1zM153,130h1V133h-1zM154,132h1V143h-1zM155,141h1V144h-1zM156,132h1V142h-1zM157,126h1V133h-1zM158,126h1V134h-1zM159,132h1V142h-1zM160,118h1V133h-1zM161,118h1V127h-1zM162,126h1V136h-1zM163,135h1V138h-1zM164,131h1V137h-1zM165,135h1V142h-1zM166,133h1V142h-1zM167,128h1V135h-1zM168,118h1V129h-1zM169,118h1V125h-1zM170,124h1V132h-1zM171,131h1V135h-1zM172,132h1V136h-1zM173,133h1V145h-1zM174,141h1V149h-1zM175,126h1V142h-1zM176,122h1V127h-1zM177,119h1V124h-1zM178,119h1V122h-1zM179,121h1V129h-1zM180,128h1V130h-1zM181,128h1V132h-1zM182,131h1V137h-1zM183,136h1V141h-1zM184,138h1V142h-1zM185,136h1V142h-1zM186,136h1V138h-1zM187,128h1V137h-1zM188,122h1V129h-1zM189,120h1V124h-1zM190,123h1V134h-1zM191,133h1V145h-1zM192,130h1V145h-1zM193,124h1V131h-1zM194,128h1V133h-1zM195,122h1V133h-1zM196,122h1V137h-1zM197,136h1V151h-1zM198,150h1V155h-1zM199,146h1V155h-1zM200,137h1V154h-1zM201,118h1V138h-1zM202,118h1V122h-1zM203,121h1V124h-1zM204,122h1V126h-1zM205,123h1V126h-1zM206,123h1V128h-1zM207,127h1V129h-1zM208,123h1V128h-1zM209,118h1V124h-1zM210,118h1V121h-1zM211,120h1V125h-1zM212,124h1V131h-1zM213,130h1V134h-1zM214,132h1V141h-1zM215,140h1V145h-1zM216,134h1V144h-1zM217,131h1V135h-1zM218,127h1V132h-1zM219,127h1V130h-1zM220,124h1V129h-1zM221,120h1V125h-1zM222,119h1V122h-1zM223,121h1V133h-1zM224,130h1V136h-1zM225,122h1V131h-1zM226,117h1V123h-1zM227,118h1V122h-1zM228,121h1V125h-1zM229,121h1V123h-1zM230,121h1V129h-1zM231,128h1V132h-1zM232,131h1V137h-1zM233,129h1V136h-1zM234,129h1V131h-1zM235,123h1V130h-1zM236,121h1V124h-1zM237,117h1V122h-1zM238,117h1V119h-1zM239,118h1V123h-1zM240,122h1V124h-1zM241,123h1V127h-1zM242,125h1V132h-1zM243,131h1V135h-1zM244,131h1V133h-1zM245,131h1V134h-1zM246,129h1V132h-1zM247,126h1V130h-1zM248,121h1V127h-1zM249,121h1V123h-1zM250,119h1V123h-1zM251,117h1V120h-1zM252,119h1V126h-1zM253,125h1V128h-1zM254,119h1V128h-1zM255,118h1V122h-1zM256,121h1V130h-1zM257,127h1V131h-1zM258,127h1V132h-1zM259,130h1V135h-1zM260,123h1V131h-1zM261,117h1V124h-1zM262,117h1V119h-1zM263,118h1V124h-1zM264,123h1V124h-1zM265,123h1V128h-1zM266,127h1V129h-1zM267,128h1V131h-1zM268,122h1V129h-1zM269,120h1V123h-1zM270,118h1V121h-1zM271,117h1V120h-1zM272,119h1V130h-1zM273,129h1V135h-1zM274,126h1V134h-1zM275,123h1V127h-1zM276,117h1V124h-1zM277,117h1V121h-1zM278,120h1V132h-1zM279,131h1V134h-1zM280,131h1V135h-1zM281,130h1V132h-1zM282,128h1V133h-1zM283,119h1V129h-1zM284,117h1V120h-1zM285,117h1V121h-1zM286,120h1V123h-1zM287,122h1V125h-1zM288,124h1V130h-1zM289,127h1V130h-1zM290,129h1V133h-1zM291,126h1V133h-1zM292,124h1V127h-1zM293,122h1V125h-1zM294,117h1V123h-1zM295,117h1V118h-1zM296,117h1V132h-1zM297,131h1V141h-1zM298,140h1V153h-1zM299,148h1V161h-1zM300,148h1V157h-1zM301,155h1V163h-1zM302,147h1V164h-1zM303,151h1V164h-1zM304,131h1V152h-1zM305,131h1V136h-1zM306,122h1V132h-1zM307,116h1V123h-1zM308,117h1V120h-1zM309,119h1V124h-1zM310,123h1V130h-1zM311,129h1V132h-1z" fill="#ff7070" shape-rendering="crispEdges"/><path d="M12,56h1V57h1V59h3V57h1V60h1V59h1V56h1V58h2V57h3V58h2V56h1V49h1V60h1V57h1V58h3V38h1V57h1V58h1V56h1V58h1V59h1V57h2V58h2V57h1V60h1V56h1V57h3V56h2V58h1V57h1V59h1V53h1V58h1V59h1V58h3V59h1V58h1V57h1V58h1V56h3V58h2V59h1V57h5V58h1V57h1V58h1V57h1V59h1V60h2V56h1V57h1V58h2V59h1V57h2V58h1V57h1V56h1V57h1V58h1V56h4V57h1V37h2V58h1V56h1V58h2V59h2V57h1V50h1V59h1V57h1V58h5V56h1V57h2V59h1V58h2V57h1V59h1V60h1V56h1V57h1V58h6V59h1V57h1V58h1V59h3V58h3V47h1V60h1V57h3V22h1V57h2V56h1V57h2V58h1V57h2V16h2V58h1V56h2V59h1V58h1V56h1V57h1V58h1V57h2V58h1V59h1V56h1V57h2V58h1V57h1V58h1V60h4V57h2V60h1V59h1V57h4V58h1V57h5V58h1V56h1V58h2V59h2V58h1V30h1V57h1V56h1V58h3V56h1V59h2V57h2V56h1V57h1V58h1V57h1V58h1V57h1V59h7V56h1V57h1V56h1V58h2V59h1V56h2V57h1V60h1V59h3V58h2V56h1V40h1V59h2V58h1V56h1V57h1V58h1V59h1V57h1V16h1V58h2V59h1V57h1V60h1V57h2V58h2V60h1V56h2V57h1V59h1V56h1V20h1V57h1V60h1V57h2V60h2V58h1V23h2V57h1V59h1V56h3V60h3V58h1V57h1V56h1V57h2V58h2V56h1V59h1V58h1V56h1V57h1V58h3V56h1V58h1V56h3V57h3V58h1V56h1V57h1V75h-1V74h-1V106h-1V75h-1V76h-1V74h-1V73h-3V75h-2V77h-1V76h-1V74h-1V76h-2V77h-2V75h-3V76h-5V77h-1V76h-1V74h-1V75h-2V74h-1V75h-1V74h-1V75h-1V76h-1V77h-1V73h-1V74h-1V106h-1V75h-2V74h-1V75h-1V76h-1V77h-1V75h-1V77h-1V74h-1V76h-1V75h-1V74h-1V75h-1V76h-2V77h-1V76h-2V74h-1V75h-2V76h-2V75h-1V73h-1V75h-2V77h-1V74h-2V73h-4V76h-1V74h-1V75h-2V76h-1V86h-1V76h-1V74h-1V75h-7V76h-2V74h-1V76h-3V77h-1V75h-2V76h-1V95h-1V76h-1V138h-1V74h-1V75h-2V76h-1V75h-1V74h-1V75h-1V74h-1V75h-1V76h-1V73h-1V76h-1V77h-1V74h-4V76h-1V74h-1V76h-6V74h-1V75h-1V77h-1V75h-1V126h-1V75h-1V76h-3V77h-1V76h-1V73h-1V74h-1V75h-1V74h-1V75h-1V76h-1V75h-2V74h-1V75h-1V77h-2V100h-1V77h-1V76h-1V75h-1V74h-2V76h-1V77h-3V76h-1V74h-2V75h-1V76h-1V74h-1V75h-1V76h-1V77h-2V76h-1V77h-1V74h-1V76h-1V77h-2V75h-1V74h-1V75h-1V104h-1V75h-1V74h-4V76h-1V77h-1V123h-1V77h-1V74h-1V75h-1V76h-1V74h-4V77h-1V76h-1V77h-1V75h-1V76h-1V74h-2V88h-1V74h-1V76h-1V74h-2V76h-2V77h-1V74h-1V77h-1V74h-1V112h-1V76h-1V74h-1V76h-1V75h-1V73h-1V74h-1V76h-1V77h-2V73h-2V75h-1V77h-2V76h-1V77h-2V75h-1V76h-1V74h-2V77h-2V76h-2V77h-1V74h-1V75h-1V77h-1V76h-3V75h-1V107h-1V76h-1V75h-1V77h-1V75h-1V74h-1V76h-3V74h-3V76h-2V77h-4V75h-1V76h-1V75h-2V74h-1V75h-1V76h-1V75h-1V77h-2V76h-1V74h-1V81h-1V75h-1V74h-2V76h-2V75h-1V74h-3V75h-1V76h-2V77h-2V75h-1V76h-3V75h-1V76h-2Z" fill="#7272ff" shape-rendering="crispEdges"/><use href="#over"/><text x="17.6" y="212" fill="#0000ff" font-size="11" font-family="'Liberation Mono', monospace" textLength="71" lengthAdjust="spacingAndGlyphs" stroke="#0000ff" stroke-width="0.12">Freq(1)=*****</text><use href="#ch1inv"/><text x="32.5" y="229.2" fill="#0000ff" font-size="11" font-family="'Liberation Mono', monospace" textLength="36.5" lengthAdjust="spacingAndGlyphs" stroke="#0000ff" stroke-width="0.12">20.0mV</text><use href="#ch2nor"/><text x="118.5" y="229.2" fill="#ff0000" font-size="11" font-family="'Liberation Mono', monospace" textLength="36.5" lengthAdjust="spacingAndGlyphs" stroke="#ff0000" stroke-width="0.12">10.0mV</text><use href="#bicon" x="86" color="#ff0000"/></svg><svg x="323" y="475" width="320" height="234" viewBox="0 0 320 234"><use href="#base"/><use href="#bicon" color="#0000ff"/><path d="M12,116h1V119h-1zM13,118h1V127h-1zM14,126h1V139h-1zM15,138h1V157h-1zM16,148h1V157h-1zM17,144h1V149h-1zM18,131h1V145h-1zM19,127h1V132h-1zM20,127h1V167h-1zM21,153h1V167h-1zM22,128h1V154h-1zM23,121h1V129h-1zM24,121h1V133h-1zM25,126h1V133h-1zM26,122h1V127h-1zM27,117h1V123h-1zM28,117h1V120h-1zM29,119h1V121h-1zM30,120h1V123h-1zM31,122h1V124h-1zM32,123h1V126h-1zM33,125h1V137h-1zM34,136h1V145h-1zM35,144h1V160h-1zM36,159h1V171h-1zM37,165h1V171h-1zM38,151h1V166h-1zM39,140h1V152h-1zM40,131h1V141h-1zM41,123h1V132h-1zM42,123h1V129h-1zM43,128h1V129h-1zM44,128h1V133h-1zM45,129h1V132h-1zM46,129h1V139h-1zM47,130h1V139h-1zM48,130h1V134h-1zM49,127h1V134h-1zM50,126h1V128h-1zM51,125h1V127h-1zM52,120h1V126h-1zM53,118h1V121h-1zM54,120h1V129h-1zM55,128h1V140h-1zM56,139h1V147h-1zM57,141h1V149h-1zM58,127h1V142h-1zM59,122h1V128h-1zM60,117h1V123h-1zM61,117h1V135h-1zM62,134h1V162h-1zM63,161h1V167h-1zM64,137h1V167h-1zM65,118h1V138h-1zM66,118h1V128h-1zM67,127h1V130h-1zM68,123h1V129h-1zM69,117h1V124h-1zM70,117h1V123h-1zM71,122h1V125h-1zM72,124h1V133h-1zM73,129h1V133h-1zM74,127h1V132h-1zM75,125h1V132h-1zM76,118h1V126h-1zM77,116h1V119h-1zM78,116h1V119h-1zM79,118h1V132h-1zM80,131h1V145h-1zM81,144h1V160h-1zM82,159h1V172h-1zM83,171h1V182h-1zM84,171h1V182h-1zM85,153h1V172h-1zM86,140h1V154h-1zM87,138h1V141h-1zM88,125h1V139h-1zM89,125h1V129h-1zM90,122h1V128h-1zM91,120h1V131h-1zM92,130h1V136h-1zM93,135h1V154h-1zM94,134h1V154h-1zM95,118h1V135h-1zM96,118h1V124h-1zM97,123h1V129h-1zM98,128h1V142h-1zM99,141h1V151h-1zM100,143h1V151h-1zM101,138h1V144h-1zM102,133h1V144h-1zM103,121h1V134h-1zM104,118h1V122h-1zM105,118h1V123h-1zM106,122h1V129h-1zM107,128h1V142h-1zM108,137h1V142h-1zM109,137h1V156h-1zM110,146h1V156h-1zM111,140h1V147h-1zM112,132h1V141h-1zM113,123h1V133h-1zM114,119h1V124h-1zM115,119h1V132h-1zM116,130h1V136h-1zM117,121h1V131h-1zM118,117h1V122h-1zM119,117h1V124h-1zM120,121h1V125h-1zM121,121h1V124h-1zM122,121h1V124h-1zM123,119h1V122h-1zM124,117h1V120h-1zM125,117h1V120h-1zM126,119h1V127h-1zM127,126h1V142h-1zM128,134h1V146h-1zM129,124h1V135h-1zM130,119h1V125h-1zM131,119h1V126h-1zM132,125h1V133h-1zM133,131h1V143h-1zM134,142h1V149h-1zM135,137h1V149h-1zM136,133h1V138h-1zM137,131h1V134h-1zM138,130h1V132h-1zM139,119h1V131h-1zM140,117h1V120h-1zM141,117h1V120h-1zM142,119h1V124h-1zM143,123h1V130h-1zM144,129h1V139h-1zM145,138h1V147h-1zM146,146h1V152h-1zM147,137h1V152h-1zM148,133h1V138h-1zM149,131h1V134h-1zM150,131h1V141h-1zM151,140h1V151h-1zM152,150h1V168h-1zM153,167h1V174h-1zM154,163h1V174h-1zM155,149h1V164h-1zM156,137h1V150h-1zM157,133h1V139h-1zM158,138h1V151h-1zM159,150h1V163h-1zM160,159h1V165h-1zM161,141h1V165h-1zM162,148h1V162h-1zM163,154h1V162h-1zM164,145h1V155h-1zM165,146h1V162h-1zM166,161h1V165h-1zM167,146h1V164h-1zM168,136h1V147h-1zM169,136h1V163h-1zM170,162h1V173h-1zM171,166h1V176h-1zM172,166h1V188h-1zM173,187h1V193h-1zM174,186h1V193h-1zM175,192h1V193h-1zM176,192h1V193h-1zM177,173h1V193h-1zM178,167h1V174h-1zM179,142h1V168h-1zM180,125h1V143h-1zM181,122h1V132h-1zM182,131h1V146h-1zM183,145h1V157h-1zM184,156h1V170h-1zM185,169h1V183h-1zM186,167h1V180h-1zM187,157h1V168h-1zM188,142h1V158h-1zM189,129h1V143h-1zM190,118h1V130h-1zM191,118h1V125h-1zM192,124h1V127h-1zM193,124h1V133h-1zM194,132h1V140h-1zM195,128h1V139h-1zM196,119h1V129h-1zM197,117h1V122h-1zM198,121h1V129h-1zM199,126h1V131h-1zM200,130h1V145h-1zM201,141h1V145h-1zM202,141h1V150h-1zM203,149h1V161h-1zM204,139h1V155h-1zM205,139h1V151h-1zM206,147h1V151h-1zM207,144h1V151h-1zM208,141h1V151h-1zM209,130h1V142h-1zM210,123h1V131h-1zM211,119h1V124h-1zM212,117h1V120h-1zM213,117h1V118h-1zM214,117h1V121h-1zM215,120h1V124h-1zM216,123h1V128h-1zM217,127h1V131h-1zM218,129h1V132h-1zM219,126h1V130h-1zM220,125h1V131h-1zM221,126h1V131h-1zM222,126h1V131h-1zM223,127h1V130h-1zM224,122h1V130h-1zM225,118h1V123h-1zM226,117h1V120h-1zM227,119h1V124h-1zM228,123h1V150h-1zM229,149h1V181h-1zM230,164h1V181h-1zM231,148h1V171h-1zM232,170h1V193h-1zM233,149h1V186h-1zM234,140h1V150h-1zM235,123h1V141h-1zM236,122h1V126h-1zM237,125h1V130h-1zM238,129h1V135h-1zM239,134h1V138h-1zM240,134h1V149h-1zM241,144h1V151h-1zM242,135h1V145h-1zM243,135h1V142h-1zM244,141h1V159h-1zM245,158h1V173h-1zM246,171h1V181h-1zM247,164h1V181h-1zM248,152h1V165h-1zM249,139h1V153h-1zM250,127h1V140h-1zM251,125h1V128h-1zM252,125h1V131h-1zM253,126h1V131h-1zM254,125h1V127h-1zM255,125h1V128h-1zM256,119h1V126h-1zM257,117h1V120h-1zM258,117h1V123h-1zM259,122h1V131h-1zM260,130h1V132h-1zM261,131h1V132h-1zM262,125h1V132h-1zM263,119h1V126h-1zM264,119h1V130h-1zM265,129h1V140h-1zM266,135h1V140h-1zM267,120h1V136h-1zM268,117h1V121h-1zM269,117h1V120h-1zM270,119h1V122h-1zM271,121h1V126h-1zM272,125h1V127h-1zM273,124h1V127h-1zM274,120h1V125h-1zM275,120h1V121h-1zM276,118h1V121h-1zM277,117h1V119h-1zM278,117h1V134h-1zM279,133h1V177h-1zM280,161h1V184h-1zM281,126h1V162h-1zM282,117h1V127h-1zM283,117h1V122h-1zM284,121h1V126h-1zM285,125h1V134h-1zM286,133h1V137h-1zM287,133h1V139h-1zM288,133h1V141h-1zM289,129h1V140h-1zM290,125h1V131h-1zM291,122h1V127h-1zM292,118h1V123h-1zM293,116h1V124h-1zM294,123h1V139h-1zM295,137h1V147h-1zM296,136h1V145h-1zM297,144h1V155h-1zM298,139h1V155h-1zM299,131h1V140h-1zM300,116h1V132h-1zM301,116h1V127h-1zM302,126h1V142h-1zM303,137h1V142h-1zM304,126h1V138h-1zM305,118h1V127h-1zM306,118h1V132h-1zM307,131h1V150h-1zM308,149h1V181h-1zM309,165h1V181h-1zM310,146h1V166h-1zM311,123h1V147h-1z" fill="#ff7070" shape-rendering="crispEdges"/><path d="M12,45h1V47h4V40h1V35h1V39h1V40h1V42h1V46h1V39h1V41h1V37h1V38h1V34h2V35h1V37h1V39h1V42h1V38h1V44h1V37h1V41h1V45h2V38h1V43h1V37h2V39h1V35h1V40h1V37h1V46h1V37h1V47h1V42h1V41h1V37h1V34h1V46h1V39h2V42h2V44h1V41h1V42h1V39h1V45h1V41h1V42h1V35h1V45h1V37h1V41h1V42h1V46h1V44h2V35h1V40h1V43h1V34h1V37h1V36h1V41h1V35h1V45h1V43h1V40h1V39h1V44h1V45h1V37h1V41h1V43h1V45h1V40h1V37h1V40h1V34h1V39h1V41h1V44h2V45h1V41h1V38h1V41h1V16h1V45h1V46h1V36h1V42h1V47h1V44h2V37h1V41h2V36h1V43h1V44h2V46h1V47h1V42h1V37h1V45h1V37h1V42h1V37h1V41h1V34h1V38h1V34h2V39h1V38h1V41h1V44h1V43h1V49h3V48h1V45h1V37h1V39h1V40h1V43h1V39h1V38h2V48h1V38h1V40h1V17h1V43h1V37h2V41h1V40h1V41h1V36h1V35h1V38h1V37h1V45h1V36h2V39h1V41h1V49h1V38h1V39h1V43h1V36h1V37h1V17h1V36h2V41h1V47h1V38h1V49h3V43h1V44h1V45h1V41h1V42h4V37h1V39h1V41h1V42h1V35h1V38h1V41h1V42h1V34h2V40h1V37h1V42h1V44h1V16h1V35h1V36h1V38h1V42h1V41h1V36h1V37h1V41h1V38h1V44h1V35h1V39h1V43h1V42h1V35h1V38h1V41h1V44h1V37h1V35h1V36h1V39h1V36h1V41h1V34h1V38h1V47h1V48h2V47h1V43h1V34h1V43h1V49h1V44h2V37h1V35h1V40h1V38h1V40h1V48h1V35h1V38h1V47h1V41h1V43h1V37h1V39h1V45h1V36h1V37h1V41h1V44h1V40h1V43h1V25h1V44h1V47h1V35h1V40h1V34h1V36h1V37h2V45h1V42h1V38h1V36h1V34h1V44h2V45h1V36h1V34h2V44h1V46h1V49h1V16h1V47h1V39h1V48h1V43h1V36h1V40h1V39h1V46h1V37h1V38h1V39h1V41h1V46h1V38h1V40h1V47h1V48h1V35h1V39h1V37h2V45h1V40h1V44h1V45h2V100h-1V101h-1V100h-1V96h-1V103h-1V94h-1V98h-1V96h-1V99h-1V101h-1V99h-1V101h-1V88h-1V90h-1V87h-1V88h-1V89h-1V97h-1V162h-1V102h-1V100h-2V94h-1V89h-1V94h-1V95h-1V92h-1V88h-1V90h-3V91h-1V98h-1V101h-1V104h-1V98h-1V103h-1V96h-1V90h-1V88h-1V91h-1V93h-1V90h-1V95h-1V102h-1V101h-1V102h-1V96h-1V90h-1V92h-1V94h-1V103h-1V99h-1V87h-1V88h-2V90h-1V102h-1V99h-1V104h-1V101h-1V87h-1V86h-1V87h-1V97h-1V101h-1V93h-1V92h-2V97h-1V93h-1V98h-1V125h-1V99h-1V102h-1V97h-1V103h-1V104h-1V99h-1V104h-1V95h-1V104h-1V89h-1V91h-1V102h-1V90h-1V99h-1V96h-1V98h-1V101h-1V94h-1V91h-1V98h-1V103h-1V97h-1V96h-1V97h-1V94h-1V115h-1V90h-1V93h-1V88h-1V89h-1V103h-1V90h-1V104h-1V101h-1V90h-1V98h-1V100h-1V103h-1V91h-1V101h-1V91h-2V89h-2V94h-2V98h-1V100h-1V88h-1V103h-1V89h-1V101h-1V93h-1V98h-1V100h-1V91h-1V88h-1V97h-1V95h-1V99h-1V90h-1V103h-1V97h-1V101h-1V104h-1V93h-1V95h-1V91h-1V93h-1V87h-1V89h-2V92h-1V96h-1V99h-1V89h-1V87h-2V92h-1V95h-1V100h-1V135h-1V102h-1V99h-1V97h-1V92h-2V95h-1V101h-2V98h-1V91h-1V95h-1V98h-1V101h-1V99h-1V100h-1V98h-1V104h-1V96h-1V100h-2V101h-2V88h-1V90h-1V91h-1V92h-2V91h-1V90h-1V103h-1V91h-1V101h-1V104h-1V94h-1V98h-1V95h-1V100h-1V93h-1V91h-1V103h-1V92h-1V104h-1V101h-1V98h-1V99h-1V96h-1V97h-2V100h-1V90h-1V97h-1V99h-1V101h-1V92h-1V97h-1V102h-1V99h-1V98h-1V95h-1V100h-1V98h-1V100h-1V104h-1V97h-1V101h-1V104h-1V102h-1V95h-2V100h-1V91h-1V92h-1V100h-1V98h-1V89h-1V90h-2V91h-1V104h-1V91h-1V101h-1V94h-1V99h-1V89h-1V102h-2V99h-1V103h-1V95h-1V97h-1V92h-1V94h-1V205h-1V99h-1V103h-1V98h-1V90h-1V96h-1V102h-1V98h-1V101h-1V88h-1V101h-2V158h-1V95h-1V90h-1V91h-1V94h-1V97h-1V98h-1V99h-1V162h-1V101h-1V87h-1V104h-1V94h-1V90h-1V102h-2V89h-1V90h-1V102h-1V101h-1V98h-1V97h-1V104h-1V91h-1V93h-1V94h-1V101h-1V141h-1V92h-1V96h-1V91h-1V94h-1V97h-1V99h-1V100h-1V93h-1V99h-2V88h-3Z" fill="#7272ff" shape-rendering="crispEdges"/><use href="#over"/><text x="17.6" y="212" fill="#0000ff" font-size="11" font-family="'Liberation Mono', monospace" textLength="71" lengthAdjust="spacingAndGlyphs" stroke="#0000ff" stroke-width="0.12">Freq(1)=*****</text><use href="#ch1nor"/><text x="32.5" y="229.2" fill="#0000ff" font-size="11" font-family="'Liberation Mono', monospace" textLength="36.5" lengthAdjust="spacingAndGlyphs" stroke="#0000ff" stroke-width="0.12">20.0mV</text><use href="#ch2inv"/><text x="118.5" y="229.2" fill="#ff0000" font-size="11" font-family="'Liberation Mono', monospace" textLength="36.5" lengthAdjust="spacingAndGlyphs" stroke="#ff0000" stroke-width="0.12">20.0mV</text><use href="#bicon" x="86" color="#ff0000"/></svg><svg x="647" y="477" width="320" height="234" viewBox="0 0 320 234"><use href="#base"/><use href="#bicon" color="#0000ff"/><path d="M12,116h1V118h-1zM13,117h1V120h-1zM14,119h1V123h-1zM15,122h1V126h-1zM16,125h1V128h-1zM17,125h1V128h-1zM18,123h1V126h-1zM19,123h1V130h-1zM20,125h1V130h-1zM21,125h1V131h-1zM22,127h1V131h-1zM23,121h1V128h-1zM24,120h1V122h-1zM25,118h1V121h-1zM26,118h1V121h-1zM27,120h1V126h-1zM28,125h1V130h-1zM29,128h1V130h-1zM30,128h1V132h-1zM31,131h1V134h-1zM32,132h1V135h-1zM33,126h1V135h-1zM34,121h1V127h-1zM35,123h1V125h-1zM36,118h1V124h-1zM37,117h1V121h-1zM38,120h1V126h-1zM39,124h1V126h-1zM40,124h1V128h-1zM41,127h1V128h-1zM42,125h1V128h-1zM43,125h1V127h-1zM44,126h1V128h-1zM45,123h1V128h-1zM46,120h1V124h-1zM47,120h1V123h-1zM48,122h1V124h-1zM49,120h1V124h-1zM50,118h1V121h-1zM51,118h1V126h-1zM52,125h1V132h-1zM53,131h1V134h-1zM54,123h1V133h-1zM55,122h1V126h-1zM56,125h1V133h-1zM57,125h1V133h-1zM58,120h1V126h-1zM59,119h1V121h-1zM60,120h1V124h-1zM61,123h1V129h-1zM62,126h1V129h-1zM63,126h1V130h-1zM64,124h1V130h-1zM65,122h1V125h-1zM66,122h1V125h-1zM67,120h1V123h-1zM68,122h1V127h-1zM69,126h1V132h-1zM70,130h1V134h-1zM71,129h1V138h-1zM72,137h1V138h-1zM73,137h1V138h-1zM74,137h1V138h-1zM75,133h1V138h-1zM76,129h1V134h-1zM77,124h1V130h-1zM78,120h1V125h-1zM79,120h1V125h-1zM80,124h1V130h-1zM81,129h1V134h-1zM82,133h1V138h-1zM83,133h1V138h-1zM84,129h1V134h-1zM85,124h1V130h-1zM86,122h1V125h-1zM87,122h1V124h-1zM88,122h1V125h-1zM89,123h1V125h-1zM90,123h1V128h-1zM91,123h1V128h-1zM92,120h1V126h-1zM93,123h1V128h-1zM94,119h1V124h-1zM95,119h1V121h-1zM96,116h1V120h-1zM97,116h1V119h-1zM98,118h1V123h-1zM99,122h1V133h-1zM100,132h1V136h-1zM101,135h1V138h-1zM102,137h1V138h-1zM103,134h1V138h-1zM104,128h1V135h-1zM105,121h1V129h-1zM106,118h1V122h-1zM107,117h1V119h-1zM108,117h1V120h-1zM109,119h1V122h-1zM110,120h1V122h-1zM111,119h1V122h-1zM112,117h1V120h-1zM113,116h1V118h-1zM114,117h1V118h-1zM115,117h1V119h-1zM116,118h1V121h-1zM117,119h1V121h-1zM118,119h1V122h-1zM119,120h1V125h-1zM120,122h1V125h-1zM121,120h1V123h-1zM122,118h1V121h-1zM123,118h1V119h-1zM124,117h1V119h-1zM125,117h1V118h-1zM126,117h1V122h-1zM127,121h1V125h-1zM128,124h1V127h-1zM129,124h1V127h-1zM130,120h1V125h-1zM131,117h1V121h-1zM132,117h1V118h-1zM133,116h1V118h-1zM134,117h1V120h-1zM135,119h1V121h-1zM136,119h1V121h-1zM137,119h1V121h-1zM138,117h1V120h-1zM139,117h1V122h-1zM140,121h1V124h-1zM141,123h1V125h-1zM142,120h1V125h-1zM143,117h1V121h-1zM144,117h1V119h-1zM145,118h1V119h-1zM146,118h1V120h-1zM147,117h1V119h-1zM148,117h1V120h-1zM149,119h1V125h-1zM150,124h1V131h-1zM151,130h1V134h-1zM152,133h1V138h-1zM153,137h1V138h-1zM154,134h1V138h-1zM155,129h1V135h-1zM156,123h1V130h-1zM157,120h1V124h-1zM158,117h1V121h-1zM159,117h1V118h-1zM160,117h1V121h-1zM161,120h1V123h-1zM162,120h1V122h-1zM163,120h1V123h-1zM164,121h1V123h-1zM165,121h1V123h-1zM166,121h1V123h-1zM167,119h1V123h-1zM168,117h1V120h-1zM169,116h1V118h-1zM170,116h1V118h-1zM171,117h1V121h-1zM172,120h1V124h-1zM173,122h1V125h-1zM174,124h1V130h-1zM175,126h1V130h-1zM176,124h1V127h-1zM177,124h1V126h-1zM178,125h1V128h-1zM179,127h1V131h-1zM180,125h1V130h-1zM181,123h1V126h-1zM182,118h1V124h-1zM183,117h1V119h-1zM184,118h1V121h-1zM185,120h1V122h-1zM186,121h1V123h-1zM187,122h1V124h-1zM188,118h1V123h-1zM189,116h1V119h-1zM190,116h1V120h-1zM191,119h1V128h-1zM192,127h1V138h-1zM193,129h1V138h-1zM194,122h1V130h-1zM195,119h1V123h-1zM196,119h1V126h-1zM197,125h1V134h-1zM198,132h1V137h-1zM199,131h1V133h-1zM200,120h1V132h-1zM201,117h1V121h-1zM202,118h1V122h-1zM203,121h1V124h-1zM204,121h1V124h-1zM205,119h1V123h-1zM206,117h1V120h-1zM207,117h1V120h-1zM208,119h1V121h-1zM209,119h1V122h-1zM210,118h1V121h-1zM211,118h1V120h-1zM212,119h1V121h-1zM213,120h1V121h-1zM214,120h1V122h-1zM215,121h1V123h-1zM216,121h1V123h-1zM217,120h1V123h-1zM218,121h1V123h-1zM219,119h1V122h-1zM220,118h1V120h-1zM221,117h1V119h-1zM222,117h1V118h-1zM223,117h1V119h-1zM224,118h1V120h-1zM225,119h1V122h-1zM226,121h1V124h-1zM227,123h1V126h-1zM228,125h1V128h-1zM229,123h1V128h-1zM230,123h1V124h-1zM231,120h1V124h-1zM232,119h1V121h-1zM233,117h1V120h-1zM234,117h1V121h-1zM235,120h1V123h-1zM236,122h1V133h-1zM237,132h1V137h-1zM238,126h1V137h-1zM239,119h1V127h-1zM240,117h1V120h-1zM241,119h1V125h-1zM242,124h1V134h-1zM243,133h1V135h-1zM244,129h1V135h-1zM245,122h1V130h-1zM246,121h1V123h-1zM247,119h1V122h-1zM248,118h1V120h-1zM249,119h1V123h-1zM250,122h1V125h-1zM251,124h1V133h-1zM252,132h1V138h-1zM253,128h1V138h-1zM254,125h1V129h-1zM255,123h1V126h-1zM256,118h1V124h-1zM257,117h1V119h-1zM258,117h1V121h-1zM259,120h1V131h-1zM260,129h1V131h-1zM261,122h1V130h-1zM262,118h1V123h-1zM263,117h1V119h-1zM264,118h1V122h-1zM265,121h1V123h-1zM266,121h1V123h-1zM267,121h1V123h-1zM268,121h1V125h-1zM269,122h1V125h-1zM270,122h1V125h-1zM271,121h1V125h-1zM272,119h1V122h-1zM273,119h1V121h-1zM274,119h1V121h-1zM275,120h1V124h-1zM276,123h1V125h-1zM277,124h1V127h-1zM278,124h1V127h-1zM279,124h1V128h-1zM280,127h1V130h-1zM281,121h1V128h-1zM282,120h1V122h-1zM283,117h1V121h-1zM284,117h1V118h-1zM285,117h1V118h-1zM286,117h1V119h-1zM287,118h1V120h-1zM288,119h1V121h-1zM289,119h1V122h-1zM290,119h1V122h-1zM291,118h1V120h-1zM292,118h1V120h-1zM293,118h1V120h-1zM294,118h1V119h-1zM295,117h1V119h-1zM296,116h1V118h-1zM297,117h1V124h-1zM298,122h1V126h-1zM299,121h1V124h-1zM300,121h1V128h-1zM301,127h1V131h-1zM302,125h1V131h-1zM303,122h1V126h-1zM304,120h1V123h-1zM305,117h1V121h-1zM306,118h1V121h-1zM307,120h1V121h-1zM308,120h1V122h-1zM309,118h1V122h-1zM310,116h1V119h-1zM311,116h1V118h-1z" fill="#ff7070" shape-rendering="crispEdges"/><path d="M12,25h1V21h1V27h1V28h1V29h1V30h1V28h1V30h1V24h1V22h1V32h1V33h1V23h1V29h1V20h1V23h1V29h1V31h1V21h1V35h1V30h1V25h2V30h1V32h1V29h1V24h1V25h1V29h1V32h1V34h1V26h1V27h2V24h1V29h1V30h1V36h1V29h1V25h2V24h1V32h1V25h1V24h1V22h1V23h1V25h2V23h1V26h1V36h3V26h1V24h2V27h1V30h1V31h2V22h1V23h2V30h1V24h1V22h1V27h1V31h1V32h1V24h1V20h1V23h1V24h1V28h1V22h1V28h1V25h1V20h1V35h1V20h1V23h1V27h1V24h1V25h1V23h1V21h1V36h1V24h1V27h1V28h2V29h1V27h1V30h2V28h1V27h1V29h2V21h1V33h1V21h1V29h2V36h1V23h1V28h1V34h1V35h1V29h1V34h1V20h1V23h1V27h1V33h1V32h1V37h1V25h1V28h1V29h1V30h1V33h1V30h1V29h1V22h1V33h2V34h1V32h1V37h1V33h1V30h1V24h1V26h1V29h1V33h1V34h2V35h1V21h1V20h2V26h2V21h1V36h2V37h1V26h1V31h1V25h1V28h1V34h1V21h1V27h1V34h2V24h1V27h1V22h1V30h1V32h1V35h1V26h2V23h1V21h1V26h1V28h1V35h1V31h2V33h1V32h2V21h1V29h1V31h2V28h1V22h1V26h1V27h1V29h1V30h1V35h1V21h1V27h1V28h1V21h1V22h1V32h1V34h1V32h1V20h1V32h1V28h1V25h1V30h1V32h1V34h1V24h1V23h1V32h1V34h1V24h1V30h1V32h1V22h1V35h1V27h1V28h1V31h1V27h1V30h1V21h1V24h1V28h1V24h1V28h1V29h2V28h1V20h1V25h1V27h1V29h1V31h1V32h1V21h1V24h1V28h1V23h1V21h1V28h1V23h1V34h1V26h1V28h1V29h1V21h1V22h1V21h2V26h1V28h1V32h1V22h1V27h1V24h1V25h1V35h1V36h3V32h1V20h2V24h1V27h1V28h1V25h1V28h1V25h1V27h1V28h2V23h1V25h1V33h1V27h1V21h1V23h1V27h1V31h1V32h1V34h1V35h1V31h1V25h1V27h1V22h1V25h1V35h1V22h1V33h1V34h1V21h2V27h1V23h2V34h1V26h1V34h1V33h1V29h1V22h2V69h-1V75h-1V78h-1V73h-1V81h-1V85h-1V74h-1V80h-1V79h-1V71h-2V78h-1V68h-1V79h-1V70h-1V77h-1V79h-1V82h-1V81h-1V79h-1V85h-1V71h-1V76h-1V79h-1V84h-1V74h-1V79h-1V67h-1V76h-1V80h-1V72h-1V84h-2V75h-1V77h-1V78h-1V81h-1V84h-1V80h-1V70h-1V69h-1V70h-1V79h-1V80h-1V74h-1V83h-1V76h-1V77h-1V81h-1V73h-1V71h-1V81h-1V78h-1V75h-1V79h-1V76h-2V70h-1V82h-1V83h-1V77h-1V80h-1V76h-1V70h-1V77h-1V71h-2V78h-1V82h-1V75h-1V79h-1V83h-1V78h-1V84h-1V72h-1V83h-1V78h-1V77h-3V76h-1V78h-1V84h-1V80h-1V75h-1V67h-1V85h-1V83h-1V73h-1V74h-1V78h-1V75h-1V82h-2V71h-1V85h-1V75h-1V76h-1V81h-1V68h-1V69h-2V70h-1V71h-1V72h-1V73h-1V79h-1V82h-1V71h-2V83h-1V70h-1V71h-1V75h-1V67h-1V80h-1V81h-1V85h-1V70h-1V78h-1V67h-2V80h-1V73h-1V79h-1V80h-1V85h-1V81h-1V75h-1V77h-1V69h-1V70h-1V71h-1V78h-1V77h-1V80h-1V79h-1V85h-1V84h-1V80h-1V83h-1V73h-1V74h-1V75h-1V80h-1V68h-1V95h-1V69h-1V75h-1V80h-1V81h-1V83h-1V68h-2V76h-1V84h-1V69h-1V70h-3V77h-1V80h-1V85h-1V79h-1V74h-1V76h-1V67h-1V78h-1V83h-1V79h-1V69h-1V77h-1V81h-1V79h-1V81h-1V80h-1V71h-1V77h-1V72h-1V68h-2V82h-1V73h-1V83h-1V76h-1V80h-1V71h-1V73h-1V69h-1V77h-1V72h-1V86h-1V92h-1V70h-1V71h-1V77h-2V84h-1V77h-1V79h-1V83h-1V71h-1V81h-1V69h-1V70h-1V76h-1V74h-1V77h-1V80h-1V72h-1V80h-1V84h-1V81h-2V71h-1V73h-2V75h-1V83h-1V76h-1V79h-1V80h-1V74h-1V84h-1V79h-2V85h-1V75h-2V74h-1V79h-1V78h-1V67h-2V83h-2V79h-1V72h-1V73h-1V80h-1V81h-1V71h-1V73h-1V79h-1V80h-1V82h-1V72h-1V74h-1V75h-1V77h-1V73h-1V76h-1V77h-1V82h-1V81h-1V83h-1V79h-1V80h-1V78h-1V69h-1V67h-1V76h-2V81h-1V85h-1V75h-1V79h-1V74h-1V73h-1V75h-1V77h-1V80h-1V78h-1V81h-1V76h-1V81h-1V68h-1V69h-1V70h-1V80h-1V75h-1V95h-1V84h-1V81h-1V75h-1V77h-1V67h-1V70h-1V68h-2V75h-1V84h-2V77h-1V84h-2V72h-1V74h-1V84h-1V66h-1Z" fill="#7272ff" shape-rendering="crispEdges"/><use href="#over"/><text x="17.6" y="212" fill="#0000ff" font-size="11" font-family="'Liberation Mono', monospace" textLength="71" lengthAdjust="spacingAndGlyphs" stroke="#0000ff" stroke-width="0.12">Freq(1)=*****</text><use href="#ch1inv"/><text x="32.5" y="229.2" fill="#0000ff" font-size="11" font-family="'Liberation Mono', monospace" textLength="36.5" lengthAdjust="spacingAndGlyphs" stroke="#0000ff" stroke-width="0.12">5.00mV</text><use href="#ch2nor"/><text x="118.5" y="229.2" fill="#ff0000" font-size="11" font-family="'Liberation Mono', monospace" textLength="36.5" lengthAdjust="spacingAndGlyphs" stroke="#ff0000" stroke-width="0.12">20.0mV</text><use href="#bicon" x="86" color="#ff0000"/></svg><svg x="971" y="476" width="320" height="234" viewBox="0 0 320 234"><use href="#base"/><use href="#bicon" color="#0000ff"/><path d="M12,118h1V121h-1zM13,118h1V120h-1zM14,117h1V120h-1zM15,116h1V119h-1zM16,116h1V119h-1zM17,117h1V119h-1zM18,117h1V119h-1zM19,117h1V119h-1zM20,117h1V119h-1zM21,117h1V119h-1zM22,117h1V119h-1zM23,117h1V120h-1zM24,118h1V120h-1zM25,118h1V120h-1zM26,118h1V120h-1zM27,117h1V120h-1zM28,116h1V119h-1zM29,116h1V119h-1zM30,117h1V120h-1zM31,118h1V121h-1zM32,119h1V121h-1zM33,119h1V122h-1zM34,119h1V122h-1zM35,118h1V121h-1zM36,117h1V120h-1zM37,117h1V119h-1zM38,116h1V119h-1zM39,117h1V119h-1zM40,117h1V119h-1zM41,117h1V119h-1zM42,117h1V119h-1zM43,117h1V119h-1zM44,117h1V119h-1zM45,117h1V119h-1zM46,117h1V120h-1zM47,118h1V120h-1zM48,118h1V121h-1zM49,119h1V121h-1zM50,118h1V121h-1zM51,118h1V120h-1zM52,117h1V120h-1zM53,117h1V119h-1zM54,116h1V119h-1zM55,116h1V119h-1zM56,117h1V119h-1zM57,117h1V119h-1zM58,117h1V119h-1zM59,117h1V119h-1zM60,117h1V120h-1zM61,118h1V120h-1zM62,118h1V120h-1zM63,118h1V120h-1zM64,118h1V121h-1zM65,118h1V121h-1zM66,118h1V120h-1zM67,117h1V120h-1zM68,117h1V119h-1zM69,116h1V119h-1zM70,116h1V118h-1zM71,116h1V118h-1zM72,116h1V118h-1zM73,116h1V118h-1zM74,116h1V119h-1zM75,117h1V120h-1zM76,118h1V121h-1zM77,119h1V122h-1zM78,119h1V122h-1zM79,118h1V121h-1zM80,117h1V120h-1zM81,116h1V119h-1zM82,117h1V120h-1zM83,117h1V120h-1zM84,117h1V119h-1zM85,117h1V120h-1zM86,118h1V121h-1zM87,119h1V121h-1zM88,119h1V121h-1zM89,118h1V121h-1zM90,117h1V120h-1zM91,116h1V119h-1zM92,117h1V119h-1zM93,117h1V119h-1zM94,117h1V119h-1zM95,116h1V119h-1zM96,117h1V120h-1zM97,118h1V121h-1zM98,119h1V122h-1zM99,119h1V122h-1zM100,117h1V121h-1zM101,117h1V119h-1zM102,116h1V119h-1zM103,116h1V119h-1zM104,117h1V119h-1zM105,117h1V119h-1zM106,117h1V120h-1zM107,117h1V120h-1zM108,117h1V119h-1zM109,117h1V119h-1zM110,117h1V119h-1zM111,117h1V119h-1zM112,117h1V119h-1zM113,117h1V119h-1zM114,117h1V120h-1zM115,118h1V121h-1zM116,118h1V121h-1zM117,118h1V121h-1zM118,118h1V121h-1zM119,117h1V120h-1zM120,117h1V119h-1zM121,116h1V119h-1zM122,116h1V118h-1zM123,116h1V118h-1zM124,116h1V119h-1zM125,117h1V119h-1zM126,117h1V119h-1zM127,117h1V119h-1zM128,117h1V119h-1zM129,117h1V119h-1zM130,117h1V119h-1zM131,117h1V119h-1zM132,117h1V119h-1zM133,117h1V120h-1zM134,118h1V120h-1zM135,118h1V121h-1zM136,119h1V121h-1zM137,119h1V121h-1zM138,119h1V121h-1zM139,118h1V121h-1zM140,118h1V120h-1zM141,118h1V120h-1zM142,117h1V120h-1zM143,116h1V119h-1zM144,116h1V118h-1zM145,116h1V119h-1zM146,116h1V119h-1zM147,116h1V119h-1zM148,117h1V119h-1zM149,117h1V119h-1zM150,117h1V119h-1zM151,116h1V119h-1zM152,116h1V119h-1zM153,117h1V120h-1zM154,118h1V121h-1zM155,119h1V121h-1zM156,119h1V121h-1zM157,119h1V121h-1zM158,118h1V121h-1zM159,117h1V120h-1zM160,116h1V119h-1zM161,116h1V119h-1zM162,117h1V119h-1zM163,117h1V120h-1zM164,118h1V120h-1zM165,117h1V120h-1zM166,116h1V119h-1zM167,116h1V118h-1zM168,116h1V118h-1zM169,116h1V118h-1zM170,116h1V119h-1zM171,117h1V119h-1zM172,117h1V119h-1zM173,117h1V119h-1zM174,117h1V119h-1zM175,117h1V119h-1zM176,117h1V120h-1zM177,117h1V120h-1zM178,117h1V120h-1zM179,117h1V119h-1zM180,116h1V119h-1zM181,116h1V118h-1zM182,116h1V119h-1zM183,117h1V119h-1zM184,116h1V119h-1zM185,116h1V118h-1zM186,116h1V119h-1zM187,117h1V119h-1zM188,117h1V119h-1zM189,117h1V119h-1zM190,116h1V119h-1zM191,116h1V119h-1zM192,117h1V119h-1zM193,117h1V119h-1zM194,116h1V119h-1zM195,116h1V119h-1zM196,117h1V120h-1zM197,118h1V121h-1zM198,119h1V121h-1zM199,118h1V121h-1zM200,118h1V120h-1zM201,118h1V120h-1zM202,118h1V120h-1zM203,117h1V120h-1zM204,117h1V119h-1zM205,116h1V119h-1zM206,116h1V119h-1zM207,117h1V119h-1zM208,116h1V119h-1zM209,116h1V118h-1zM210,116h1V119h-1zM211,117h1V120h-1zM212,118h1V120h-1zM213,117h1V120h-1zM214,117h1V119h-1zM215,117h1V119h-1zM216,117h1V119h-1zM217,117h1V119h-1zM218,117h1V119h-1zM219,116h1V119h-1zM220,116h1V118h-1zM221,116h1V118h-1zM222,116h1V118h-1zM223,116h1V118h-1zM224,116h1V118h-1zM225,116h1V118h-1zM226,116h1V118h-1zM227,116h1V119h-1zM228,117h1V119h-1zM229,117h1V119h-1zM230,117h1V119h-1zM231,117h1V119h-1zM232,117h1V119h-1zM233,117h1V120h-1zM234,118h1V120h-1zM235,118h1V120h-1zM236,118h1V120h-1zM237,118h1V121h-1zM238,119h1V121h-1zM239,119h1V122h-1zM240,120h1V122h-1zM241,119h1V122h-1zM242,118h1V121h-1zM243,117h1V120h-1zM244,116h1V119h-1zM245,116h1V119h-1zM246,116h1V118h-1zM247,116h1V120h-1zM248,118h1V120h-1zM249,118h1V121h-1zM250,118h1V121h-1zM251,117h1V120h-1zM252,117h1V119h-1zM253,117h1V119h-1zM254,117h1V119h-1zM255,117h1V119h-1zM256,117h1V120h-1zM257,117h1V120h-1zM258,118h1V120h-1zM259,118h1V120h-1zM260,117h1V120h-1zM261,116h1V119h-1zM262,116h1V120h-1zM263,118h1V121h-1zM264,119h1V122h-1zM265,120h1V122h-1zM266,120h1V122h-1zM267,119h1V122h-1zM268,118h1V121h-1zM269,118h1V120h-1zM270,117h1V120h-1zM271,117h1V119h-1zM272,117h1V119h-1zM273,117h1V120h-1zM274,118h1V120h-1zM275,118h1V120h-1zM276,118h1V120h-1zM277,118h1V120h-1zM278,118h1V120h-1zM279,118h1V120h-1zM280,118h1V120h-1zM281,118h1V120h-1zM282,117h1V120h-1zM283,116h1V119h-1zM284,116h1V120h-1zM285,118h1V121h-1zM286,119h1V122h-1zM287,120h1V123h-1zM288,121h1V123h-1zM289,120h1V123h-1zM290,119h1V122h-1zM291,117h1V121h-1zM292,116h1V119h-1zM293,116h1V119h-1zM294,117h1V120h-1zM295,118h1V120h-1zM296,117h1V120h-1zM297,116h1V119h-1zM298,116h1V118h-1zM299,116h1V119h-1zM300,117h1V120h-1zM301,118h1V120h-1zM302,117h1V120h-1zM303,117h1V119h-1zM304,116h1V119h-1zM305,116h1V118h-1zM306,116h1V118h-1zM307,116h1V120h-1zM308,118h1V121h-1zM309,119h1V122h-1zM310,120h1V122h-1zM311,120h1V123h-1z" fill="#ff7070" shape-rendering="crispEdges"/><path d="M12,56h1h1V49h1V54h4V51h1V53h1V47h1V48h1V49h1V51h1V49h1V48h1V50h1V46h1V47h1V50h1V52h2V53h1V52h1V53h1V50h1V51h2V52h1V51h1V50h1V46h1V50h1V55h1V46h1V48h1V49h1V50h1V48h2V49h1V53h2V49h1V47h1V49h1V51h1V53h1V54h1V50h1V51h1V52h1V46h1V53h1V48h1V47h1V46h1V48h2V50h1V47h1V49h1V48h1V53h1V46h1V49h1V51h2V48h1V49h1V50h1V48h1V47h2V52h1V48h1V49h1V53h1V49h1V50h1V51h1V53h1V50h1V54h2V46h2V53h1V47h1V49h1V50h1V52h1V48h2V51h2V52h1V47h3V55h2V50h1V53h1V50h1V51h1V53h1V46h1V50h1V51h1V48h1V49h1V55h2V50h1V49h1V53h2V48h1V49h1V52h1V49h1V51h1V53h2V54h2V48h2V50h1V47h1V50h1V46h1V51h1V49h1V51h1V52h1V51h1V49h1V46h1V47h1V51h1V49h1V47h1V49h1V46h1V52h1V47h1V52h1V54h3V48h1V46h1V50h1V49h2V48h1V47h1V48h1V49h1V50h2V54h1V46h1V50h1V48h1V51h1V52h1V55h1V46h1V47h1V51h1V52h1V49h1V52h1V50h1V53h1V54h1V53h1V54h1V53h1V49h1V51h1V46h1V47h1V50h1V48h1V54h1V48h1V46h1V48h1V51h1V50h1V47h1V48h1V47h1V52h2V46h1V49h1V52h1V47h2V52h1V47h1V53h1V50h1V54h1V48h1V50h1V52h1V53h1V46h1V49h1V51h1V52h1V51h2V53h1V46h1V47h1V48h1V46h2V52h1V54h2V46h1V50h1V46h1V48h2V47h1V52h1V54h1V47h1V49h1V50h1V51h1V52h1V48h1V50h1V51h1V46h1V47h1V48h1V50h1V52h1V53h1V46h1V52h2V50h1V52h2V46h1V51h1V48h1V49h1V50h1V51h1V53h1V54h1V53h3V47h1V50h1V51h1V52h1V54h1V46h1V50h2V52h1V54h1V55h1V51h1V52h1V50h1V51h1V52h1V55h2V47h2V48h1V46h1V51h2V47h1V53h1V46h1V48h1V50h1V52h1V50h2V49h1V54h1V85h-1V79h-1V80h-1V79h-1V77h-1V85h-1V84h-3V85h-1V79h-1V80h-1V81h-3V83h-3V80h-1V81h-1V78h-1V79h-2V81h-1V80h-1V83h-1V80h-1V82h-1V78h-1V82h-1V78h-1V81h-1V78h-2V85h-1V77h-1V78h-1V82h-1V84h-1V80h-3V81h-1V82h-1V77h-1V81h-3V85h-1V82h-1V80h-2V79h-2V80h-1V77h-1V85h-1V81h-2V80h-1V78h-1V77h-1V78h-1V79h-1V80h-1V85h-1V84h-1V77h-1V76h-1V80h-1V81h-1V84h-1V79h-1V80h-1V81h-1V80h-1V84h-1V80h-1V81h-1V84h-1V80h-2V82h-1V81h-1V85h-1V80h-1V77h-2V78h-1V81h-1V84h-1V85h-1V82h-1V80h-1V77h-1V76h-2V84h-1V77h-1V78h-1V79h-1V83h-1V81h-1V80h-1V78h-1V79h-1V77h-2V78h-1V82h-1V83h-1V78h-1V84h-1V82h-1V84h-1V82h-1V83h-1V82h-1V77h-1V83h-1V82h-1V83h-2V84h-1V85h-1V81h-1V85h-1V82h-1V83h-1V81h-1V82h-2V85h-1V79h-1V80h-3V81h-1V82h-1V80h-1V83h-1V76h-2V79h-1V78h-2V79h-1V80h-1V81h-1V77h-1V79h-1V85h-1V78h-2V80h-1V84h-1V85h-1V81h-1V85h-1V81h-1V80h-3V77h-1V81h-1V83h-1V85h-1V81h-1V80h-1V83h-1V84h-3V82h-2V78h-1V85h-1V83h-1V84h-1V79h-2V77h-1V84h-1V80h-1V79h-2V84h-2V85h-1V83h-1V82h-1V80h-1V82h-1V81h-1V82h-1V83h-1V85h-1V79h-1V83h-1V79h-1V82h-1V84h-1V77h-2V83h-1V82h-1V84h-1V80h-1V83h-1V77h-1V78h-1V85h-2V81h-3V85h-1V83h-1V81h-1V82h-1V83h-1V81h-1V85h-1V82h-1V84h-1V77h-2V83h-1V81h-1V78h-1V77h-2V83h-1V84h-2V76h-1V84h-1V83h-2V79h-1V80h-1V82h-1V83h-1V77h-1V78h-1V80h-1V84h-1V76h-2V82h-1V84h-2V79h-2V84h-1V82h-1V83h-1V77h-1V78h-1V83h-1V84h-2V83h-1V81h-1V83h-1V77h-1V83h-1V85h-1V78h-1V80h-1V84h-1V103h-1V77h-1V82h-1V85h-1V78h-1V79h-1V80h-1V82h-1V79h-1V80h-1V83h-1V84h-1V78h-2V79h-1V80h-1V82h-1V85h-1V78h-2V85h-1V79h-1V85h-1V82h-1V85h-1V78h-1V80h-1V81h-1V85h-1Z" fill="#7272ff" shape-rendering="crispEdges"/><use href="#over"/><text x="17.6" y="212" fill="#0000ff" font-size="11" font-family="'Liberation Mono', monospace" textLength="83" lengthAdjust="spacingAndGlyphs" stroke="#0000ff" stroke-width="0.12">Freq(1)=10.00Hz</text><use href="#ch1inv"/><text x="32.5" y="229.2" fill="#0000ff" font-size="11" font-family="'Liberation Mono', monospace" textLength="36.5" lengthAdjust="spacingAndGlyphs" stroke="#0000ff" stroke-width="0.12">10.0mV</text><use href="#ch2nor"/><text x="118.5" y="229.2" fill="#ff0000" font-size="11" font-family="'Liberation Mono', monospace" textLength="36.5" lengthAdjust="spacingAndGlyphs" stroke="#ff0000" stroke-width="0.12">20.0mV</text><use href="#bicon" x="86" color="#ff0000"/></svg><text x="2.5" y="731.5" fill="#111" font-size="13.6" font-family="'Liberation Sans', sans-serif" textLength="1259.5" lengthAdjust="spacingAndGlyphs" stroke="#111" stroke-width="0.4">top row coil shorted, second row(oscilloscope_noise source), third row(scope and 10W helical CFL lamp_ noise source) scope and lamp close to each other about 30 inches above and 30 inches to the side of</text><text x="2.5" y="749" fill="#111" font-size="13.6" font-family="'Liberation Sans', sans-serif" textLength="1180.5" lengthAdjust="spacingAndGlyphs" stroke="#111" stroke-width="0.4">coil center. Scope CH1, amplifier out. Scope CH2, after last post amplifier stage negative absolute value. Scope scales not the same for each recording, should have tried to keep them the same.</text></svg></body></html>
